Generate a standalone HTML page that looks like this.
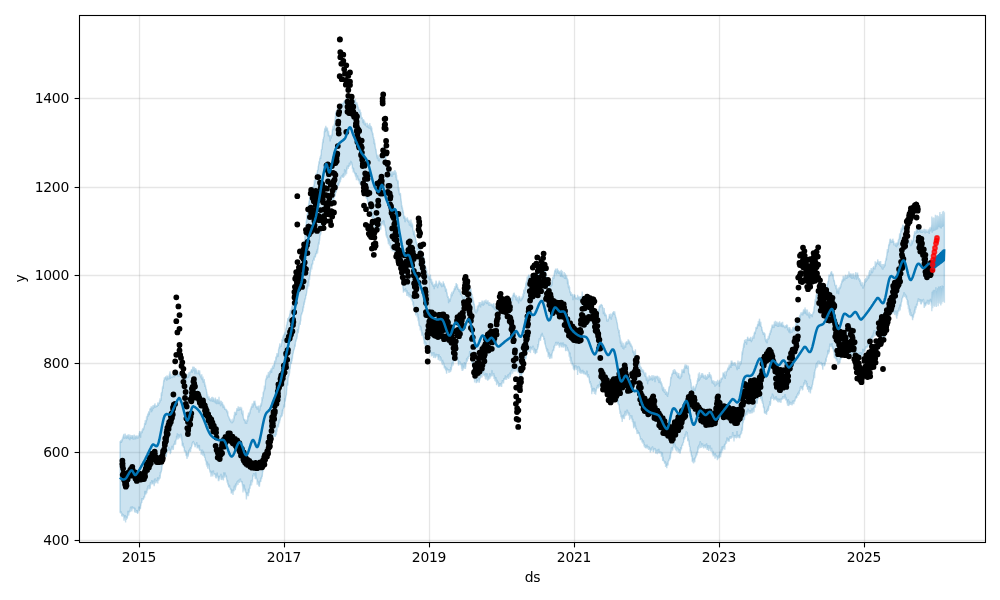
<!DOCTYPE html>
<html lang="en"><head><meta charset="utf-8"><title>Prophet forecast</title>
<style>
html,body{margin:0;padding:0;background:#fff}
svg{display:block;will-change:transform}
text{font-family:"DejaVu Sans","Liberation Sans",sans-serif;font-size:13.9px;fill:#000;letter-spacing:-0.25px}
</style></head><body>
<svg width="1000" height="600" viewBox="0 0 1000 600">
<rect width="1000" height="600" fill="#fff"/>
<g stroke="#808080" stroke-opacity="0.2" stroke-width="1.3" fill="none"><line x1="139.5" y1="15.5" x2="139.5" y2="542.5"/><line x1="284.5" y1="15.5" x2="284.5" y2="542.5"/><line x1="429.5" y1="15.5" x2="429.5" y2="542.5"/><line x1="574.5" y1="15.5" x2="574.5" y2="542.5"/><line x1="719.5" y1="15.5" x2="719.5" y2="542.5"/><line x1="864.5" y1="15.5" x2="864.5" y2="542.5"/><line x1="79.5" y1="540.5" x2="985.5" y2="540.5"/><line x1="79.5" y1="452.5" x2="985.5" y2="452.5"/><line x1="79.5" y1="363.5" x2="985.5" y2="363.5"/><line x1="79.5" y1="275.5" x2="985.5" y2="275.5"/><line x1="79.5" y1="187.5" x2="985.5" y2="187.5"/><line x1="79.5" y1="98.5" x2="985.5" y2="98.5"/></g>
<path d="M120 441.2 120.2 442 120.4 441.7 120.6 441 120.8 441.4 121 440.1 121.2 441.4 121.4 443 121.6 439.8 121.8 439.8 122 441.3 122.2 440.6 122.4 439.1 122.6 437.4 122.8 438.7 123 439.3 123.2 435.8 123.4 436.9 123.6 434.7 123.8 434.9 124 433.8 124.2 437.2 124.4 435.5 124.6 438.2 124.8 438.2 125 437.3 125.2 433.6 125.4 436.5 125.6 437.8 125.8 438.3 126 435.2 126.2 436.8 126.4 436.1 126.6 436 126.8 438.9 127 435.6 127.2 436.5 127.4 438 127.6 434.8 127.8 435.8 128 436.4 128.2 436.1 128.4 434.3 128.6 436.9 128.8 439.3 129 434.4 129.2 438.3 129.4 437.4 129.6 435.7 129.8 440.1 130 438.2 130.2 434.9 130.4 436.9 130.6 437.3 130.8 436.5 131 437.6 131.2 436.5 131.4 437.7 131.6 438.9 131.8 435.1 132 436.4 132.2 435.8 132.4 436.9 132.6 435 132.8 436.4 133 437 133.2 439.2 133.4 439.4 133.6 435.8 133.8 436.7 134 438.9 134.2 434.6 134.4 436.7 134.6 437.2 134.8 439.4 135 438.4 135.2 436.2 135.4 435.8 135.6 436.2 135.8 439.2 136 436 136.2 436.4 136.4 437.4 136.6 436.7 136.8 436.4 137 435.3 137.2 437.1 137.4 436.3 137.6 438.7 137.8 438.2 138 436.8 138.2 438.3 138.4 435.9 138.6 437.3 138.8 435.2 139 435.9 139.2 433 139.4 435.4 139.6 431.6 139.8 431.2 140 433.3 140.2 432.2 140.4 433.8 140.6 437.8 140.8 431.9 141 431.9 141.2 433.2 141.4 433.4 141.6 431.5 141.8 431.1 142 432.7 142.2 432.6 142.4 428.8 142.6 430.7 142.8 430.5 143 428.1 143.2 429.9 143.4 427.7 143.6 429.8 143.8 427.8 144 427.3 144.2 426 144.4 426.1 144.6 423 144.8 423.3 145 425 145.2 420.4 145.4 425 145.6 420.1 145.8 423.6 146 420 146.2 421.9 146.4 419.2 146.6 416.3 146.8 420 147 420 147.2 416.7 147.4 415.7 147.6 415.2 147.8 413.6 148 416.8 148.2 414.2 148.4 414.3 148.6 412.3 148.8 412.3 149 411.1 149.2 415.1 149.4 411.7 149.6 412.7 149.8 410.1 150 408.2 150.2 408.8 150.4 408.7 150.6 409.1 150.8 408.2 151 408 151.2 406.4 151.4 407.7 151.6 412.1 151.8 407.9 152 406.7 152.2 409.1 152.4 410.7 152.6 405.9 152.8 407.5 153 406.7 153.2 405 153.4 408.8 153.6 407.9 153.8 407.3 154 405.4 154.2 406.9 154.4 404.8 154.6 405.8 154.8 404.4 155 403.4 155.2 407.8 155.4 405.2 155.6 407 155.8 406.7 156 406.1 156.2 406.1 156.4 407.2 156.6 405.2 156.8 406 157 405.6 157.2 406.9 157.4 405.9 157.6 405 157.8 403.4 158 402.3 158.2 405.8 158.4 405.4 158.6 402.7 158.8 403.6 159 403.5 159.2 403.4 159.4 403.3 159.6 400.4 159.8 402.8 160 398.2 160.2 401.2 160.4 399.9 160.6 399.6 160.8 400.9 161 399.6 161.2 394 161.4 392.5 161.6 395.9 161.8 391.8 162 392.3 162.2 392.8 162.4 388 162.6 386.3 162.8 388.9 163 387.4 163.2 385.7 163.4 384.4 163.6 381.8 163.8 380.1 164 381.6 164.2 379.3 164.4 377.2 164.6 380 164.8 378.6 165 379.4 165.2 377.2 165.4 377.7 165.6 376.8 165.8 376.7 166 378.1 166.2 376.3 166.4 378.2 166.6 378.4 166.8 380.8 167 375.2 167.2 378.9 167.4 377.5 167.6 377.6 167.8 375.8 168 377.4 168.2 379.3 168.4 377.8 168.6 377.8 168.8 377.2 169 379.5 169.2 377.7 169.4 373.8 169.6 375.7 169.8 373.5 170 371.4 170.2 375.9 170.4 378.9 170.6 376.6 170.8 374.4 171 374.4 171.2 377.7 171.4 376.8 171.6 377 171.8 377 172 376.8 172.2 377.8 172.4 377.6 172.6 376.8 172.8 374.8 173 377.2 173.2 374.7 173.4 377.1 173.6 373.1 173.8 375.2 174 375.6 174.2 372.8 174.4 377.4 174.6 376.5 174.8 373.2 175 375.2 175.2 374.7 175.4 369.5 175.6 373.7 175.8 372.9 176 373.1 176.2 371 176.4 372.4 176.6 373.1 176.8 374.7 177 373.5 177.2 373.4 177.4 375.7 177.6 372.4 177.8 372.9 178 370.9 178.2 376.7 178.4 375.4 178.6 375.9 178.8 375.4 179 374.3 179.2 374.6 179.4 373.8 179.6 374.2 179.8 374.4 180 376.8 180.2 375.3 180.4 373.9 180.6 373.4 180.8 373.1 181 376.6 181.2 375 181.4 373.8 181.6 373.4 181.8 371.8 182 373.3 182.2 375.1 182.4 372.8 182.6 373.7 182.8 374.3 183 375.2 183.2 373.2 183.4 375.7 183.6 375.5 183.8 378.6 184 375.9 184.2 378.5 184.4 380.1 184.6 377 184.8 376.5 185 378 185.2 377.5 185.4 375.6 185.6 377.8 185.8 380.6 186 376.3 186.2 376.5 186.4 375.2 186.6 376.9 186.8 374.1 187 374.2 187.2 378 187.4 374.7 187.6 377.8 187.8 378 188 375.3 188.2 375.6 188.4 377.9 188.6 374.5 188.8 373.5 189 372.2 189.2 373.8 189.4 375.9 189.6 375.4 189.8 372.2 190 371.8 190.2 372 190.4 372.4 190.6 371.3 190.8 371.7 191 371.7 191.2 370 191.4 369.8 191.6 369.8 191.8 369.6 192 370.5 192.2 373 192.4 370.6 192.6 369.4 192.8 366.5 193 370.2 193.2 366.6 193.4 367.3 193.6 370.9 193.8 370.7 194 369.1 194.2 366.7 194.4 369.4 194.6 368.7 194.8 371.1 195 374.2 195.2 370.8 195.4 369 195.6 368.1 195.8 370.2 196 370.6 196.2 369.2 196.4 371.8 196.6 369.7 196.8 373.4 197 373.8 197.2 373.9 197.4 372.4 197.6 373.9 197.8 373 198 372.4 198.2 372.3 198.4 370.5 198.6 370.5 198.8 374.3 199 372.9 199.2 373.2 199.4 374.6 199.6 370.3 199.8 372.1 200 374.8 200.2 376.2 200.4 375.1 200.6 377.5 200.8 376.6 201 374.3 201.2 375.5 201.4 378.8 201.6 378.5 201.8 374.3 202 379.6 202.2 378.1 202.4 380.2 202.6 377.4 202.8 377.8 203 376.6 203.2 382.8 203.4 378.8 203.6 382.4 203.8 379.4 204 381.6 204.2 379 204.4 382.3 204.6 385 204.8 382.3 205 386.9 205.2 386.2 205.4 384.6 205.6 386.3 205.8 387.4 206 389.4 206.2 388.7 206.4 389.7 206.6 391.9 206.8 392.1 207 393.2 207.2 396 207.4 398 207.6 394.3 207.8 397.2 208 397.4 208.2 397 208.4 399.6 208.6 397.3 208.8 399.9 209 396.3 209.2 399.1 209.4 399.1 209.6 398.1 209.8 400.6 210 399.6 210.2 400.8 210.4 399.2 210.6 398.3 210.8 399.9 211 400.5 211.2 401.5 211.4 398.7 211.6 399.2 211.8 397 212 401.1 212.2 398.9 212.4 396.9 212.6 400.2 212.8 401.8 213 397.3 213.2 398.1 213.4 399.3 213.6 398.6 213.8 401.2 214 399.8 214.2 400.5 214.4 402.3 214.6 399.8 214.8 401.3 215 398.9 215.2 398.8 215.4 397.6 215.6 403.5 215.8 399.6 216 400.2 216.2 399.9 216.4 400.5 216.6 401.2 216.8 404.3 217 399.6 217.2 399.2 217.4 400.2 217.6 399.9 217.8 403.4 218 403.2 218.2 400.4 218.4 399.6 218.6 401.6 218.8 404.1 219 396.7 219.2 402.6 219.4 400.3 219.6 404.2 219.8 400.9 220 402.4 220.2 400.7 220.4 401.7 220.6 405.9 220.8 405.7 221 403.7 221.2 402.7 221.4 400.7 221.6 403.6 221.8 403.8 222 403.8 222.2 403.9 222.4 402.2 222.6 404 222.8 404.1 223 406.3 223.2 408.1 223.4 405 223.6 404.7 223.8 406.4 224 405.7 224.2 406.6 224.4 407.7 224.6 406.9 224.8 409.9 225 408.7 225.2 409.9 225.4 409.4 225.6 408.7 225.8 409.1 226 409.6 226.2 409.2 226.4 410.5 226.6 411.1 226.8 409.7 227 412.5 227.2 410.5 227.4 412.5 227.6 413.2 227.8 411.4 228 415.2 228.2 416.5 228.4 416.2 228.6 416.4 228.8 417.4 229 417 229.2 418.3 229.4 418.5 229.6 419.9 229.8 418.6 230 420.9 230.2 420.8 230.4 420.7 230.6 420.4 230.8 422.2 231 419.4 231.2 422.4 231.4 422 231.6 422.7 231.8 422.8 232 420.9 232.2 421.7 232.4 423 232.6 422.3 232.8 421.4 233 418.5 233.2 421.3 233.4 421.4 233.6 420.7 233.8 419.2 234 415.3 234.2 418.4 234.4 416.4 234.6 411.7 234.8 416.3 235 412.8 235.2 412.2 235.4 412.4 235.6 415.1 235.8 412.3 236 413.2 236.2 414.8 236.4 414.1 236.6 410.3 236.8 409.9 237 408 237.2 409 237.4 410.6 237.6 409.7 237.8 408.7 238 409.8 238.2 406.4 238.4 408 238.6 410 238.8 410.1 239 410.7 239.2 409.3 239.4 408.7 239.6 409.4 239.8 407.5 240 406.9 240.2 410.2 240.4 408.8 240.6 409.9 240.8 406.9 241 409.6 241.2 409 241.4 409.1 241.6 407.6 241.8 411.3 242 414.2 242.2 413.6 242.4 412 242.6 413.8 242.8 415.3 243 410.4 243.2 416 243.4 417.8 243.6 418.2 243.8 420.1 244 419.9 244.2 419.6 244.4 419.5 244.6 421 244.8 419.2 245 420.3 245.2 421.5 245.4 423.7 245.6 420.5 245.8 421.1 246 421.2 246.2 423.5 246.4 421.3 246.6 423.9 246.8 419.6 247 420.7 247.2 420.3 247.4 421.3 247.6 420.6 247.8 415.6 248 415.8 248.2 417.2 248.4 414.6 248.6 412.6 248.8 416.7 249 415.1 249.2 414.5 249.4 412.8 249.6 414.4 249.8 411.5 250 413.4 250.2 409.9 250.4 409.5 250.6 410.3 250.8 407.9 251 409.7 251.2 408.3 251.4 406.2 251.6 407.6 251.8 405.8 252 406.9 252.2 403.9 252.4 403.9 252.6 406.3 252.8 407.5 253 406.5 253.2 403.5 253.4 403.5 253.6 405.8 253.8 402.8 254 400.9 254.2 402.8 254.4 404 254.6 402 254.8 400.8 255 401.5 255.2 405.3 255.4 403.2 255.6 405.2 255.8 406.4 256 407.6 256.2 406.3 256.4 408.1 256.6 406.3 256.8 407.2 257 406.1 257.2 409.7 257.4 408.2 257.6 406.7 257.8 407.4 258 407.6 258.2 409.2 258.4 405.6 258.6 406.6 258.8 408.1 259 412.7 259.2 409.6 259.4 407.8 259.6 409 259.8 410.9 260 406.5 260.2 405.5 260.4 407.3 260.6 405.2 260.8 405.1 261 403.3 261.2 406.3 261.4 405.1 261.6 402.6 261.8 402.2 262 397.1 262.2 400.7 262.4 398.5 262.6 398.9 262.8 397.3 263 395.5 263.2 391.9 263.4 394.4 263.6 391.8 263.8 391.7 264 390.4 264.2 390 264.4 385.5 264.6 390.2 264.8 387.4 265 388 265.2 388.6 265.4 383.7 265.6 379.5 265.8 380.2 266 378.2 266.2 378.5 266.4 379.5 266.6 375.7 266.8 378.5 267 374.9 267.2 378.2 267.4 377.3 267.6 376.4 267.8 376.8 268 375.5 268.2 374.3 268.4 372.1 268.6 374.7 268.8 377.5 269 377.1 269.2 374.9 269.4 373.4 269.6 370.9 269.8 374.4 270 371.8 270.2 371.1 270.4 370.9 270.6 370.6 270.8 369.7 271 370.6 271.2 368.4 271.4 369.6 271.6 372.9 271.8 368.5 272 368.3 272.2 368.7 272.4 369 272.6 365.5 272.8 366.6 273 368.9 273.2 367 273.4 366.9 273.6 368.8 273.8 364.4 274 365.4 274.2 363.8 274.4 366.6 274.6 360.4 274.8 361.6 275 360.8 275.2 362.2 275.4 361.7 275.6 362.3 275.8 356.8 276 359.6 276.2 357.1 276.4 356.5 276.6 357.8 276.8 355.6 277 353.1 277.2 355.6 277.4 353.5 277.6 354.5 277.8 356.3 278 355.7 278.2 356.7 278.4 353 278.6 348.9 278.8 349.2 279 348 279.2 346.9 279.4 348.5 279.6 345.8 279.8 343.4 280 347 280.2 345.4 280.4 347 280.6 346.5 280.8 346.5 281 345.1 281.2 346.6 281.4 344.3 281.6 343.4 281.8 342.8 282 339.1 282.2 340.4 282.4 339.8 282.6 340.4 282.8 336.7 283 341 283.2 338.2 283.4 335.4 283.6 334.9 283.8 336.3 284 335.6 284.2 334 284.4 334.7 284.6 333.1 284.8 334.5 285 331.7 285.2 332.5 285.4 332.9 285.6 334.9 285.8 328.7 286 328.8 286.2 327.6 286.4 328.8 286.6 324.8 286.8 324.8 287 324.6 287.2 322.2 287.4 321.8 287.6 321.9 287.8 318.3 288 318.4 288.2 320.6 288.4 320.8 288.6 319.7 288.8 316.8 289 318.2 289.2 318.7 289.4 317.5 289.6 315.6 289.8 313.5 290 315 290.2 312.5 290.4 310.6 290.6 310.3 290.8 313.2 291 311 291.2 311.8 291.4 308.6 291.6 310.1 291.8 306.5 292 306.4 292.2 309.8 292.4 305.8 292.6 303.3 292.8 303.3 293 303.3 293.2 304.1 293.4 300.9 293.6 298.4 293.8 300.3 294 300.4 294.2 300.6 294.4 301.6 294.6 299.8 294.8 299.6 295 295.7 295.2 298.6 295.4 300 295.6 297 295.8 295.8 296 294.4 296.2 296.5 296.4 290.3 296.6 291.1 296.8 291 297 290.3 297.2 287.4 297.4 287.3 297.6 285.4 297.8 284.9 298 282.5 298.2 279.5 298.4 280.4 298.6 280.6 298.8 275.9 299 275.2 299.2 275.2 299.4 271 299.6 271.8 299.8 269.5 300 272.3 300.2 272 300.4 270.5 300.6 265.8 300.8 266.2 301 264.7 301.2 263.1 301.4 264.6 301.6 258.3 301.8 260.8 302 258.6 302.2 259.4 302.4 256.6 302.6 254.3 302.8 254.2 303 253.9 303.2 251.3 303.4 250.6 303.6 248 303.8 243.8 304 247.6 304.2 245.2 304.4 242.5 304.6 240.7 304.8 240.1 305 235.5 305.2 233.1 305.4 232 305.6 232.1 305.8 225.8 306 228.6 306.2 223.6 306.4 220.3 306.6 222.4 306.8 218.6 307 214.8 307.2 214.6 307.4 215.3 307.6 214 307.8 209.3 308 209 308.2 208.5 308.4 205 308.6 205.4 308.8 204 309 201.8 309.2 200.8 309.4 200.8 309.6 199.6 309.8 197.7 310 197 310.2 198.7 310.4 196.3 310.6 196.5 310.8 196.2 311 194.7 311.2 196.7 311.4 191 311.6 193.2 311.8 190.7 312 194 312.2 193.1 312.4 186.4 312.6 187.6 312.8 189.3 313 188.6 313.2 188.6 313.4 186.6 313.6 187.1 313.8 186.5 314 184.4 314.2 185.9 314.4 179.9 314.6 184.1 314.8 180.4 315 182.6 315.2 179.9 315.4 177.7 315.6 179.2 315.8 176.7 316 175.3 316.2 173.3 316.4 175 316.6 175.5 316.8 175.5 317 172.9 317.2 174.5 317.4 171.1 317.6 169.8 317.8 169.9 318 169.8 318.2 166.8 318.4 165.9 318.6 164.8 318.8 163.9 319 161.3 319.2 163.8 319.4 160.7 319.6 161.5 319.8 158 320 158.9 320.2 158 320.4 156.2 320.6 159 320.8 154.8 321 156 321.2 153.7 321.4 149.8 321.6 149.6 321.8 149.9 322 148.3 322.2 146.7 322.4 145 322.6 141.9 322.8 143.2 323 139 323.2 142.4 323.4 139.3 323.6 137.6 323.8 136.9 324 136.6 324.2 132.7 324.4 130.7 324.6 131.2 324.8 128.3 325 128.8 325.2 132.3 325.4 127.2 325.6 129.8 325.8 125.8 326 128.4 326.2 127.5 326.4 127.3 326.6 128.7 326.8 131.2 327 128.8 327.2 129.5 327.4 127.5 327.6 131.2 327.8 130.6 328 132.8 328.2 132.6 328.4 136.1 328.6 130.7 328.8 134.4 329 136.5 329.2 135.4 329.4 135.2 329.6 136.1 329.8 135 330 137.5 330.2 141.5 330.4 139 330.6 135.3 330.8 136.1 331 136.5 331.2 138.5 331.4 135 331.6 134.8 331.8 136.5 332 135.2 332.2 132.5 332.4 130.2 332.6 128.8 332.8 129.1 333 125.7 333.2 129.9 333.4 126.9 333.6 128.1 333.8 130.3 334 128.1 334.2 123.7 334.4 125.5 334.6 125.3 334.8 121.3 335 119.7 335.2 119.3 335.4 115.5 335.6 118.7 335.8 111.6 336 112.5 336.2 113 336.4 112.3 336.6 112.4 336.8 112.2 337 111.1 337.2 113.1 337.4 107.7 337.6 110.7 337.8 109.6 338 111.2 338.2 111 338.4 108.6 338.6 109.5 338.8 112 339 110.8 339.2 108.7 339.4 113.2 339.6 112.9 339.8 106.3 340 108.6 340.2 111.7 340.4 108 340.6 105.9 340.8 104.8 341 103.5 341.2 104 341.4 103.7 341.6 105.8 341.8 103.7 342 103.8 342.2 102.7 342.4 105 342.6 103.8 342.8 105 343 106.3 343.2 104.5 343.4 103.9 343.6 103.1 343.8 102.3 344 101.8 344.2 100.8 344.4 102.6 344.6 100.1 344.8 103.8 345 101.6 345.2 100.5 345.4 101.4 345.6 100.8 345.8 101.5 346 100.4 346.2 102.3 346.4 98.8 346.6 96.7 346.8 99.3 347 97.4 347.2 100.4 347.4 102.4 347.6 102 347.8 98.4 348 99.7 348.2 103.8 348.4 101.4 348.6 101.2 348.8 102.7 349 104.7 349.2 102.4 349.4 100.4 349.6 101.3 349.8 101.9 350 99.9 350.2 98.6 350.4 100.3 350.6 98.6 350.8 100.3 351 100.8 351.2 105 351.4 99.5 351.6 101.2 351.8 101.5 352 102.8 352.2 103.9 352.4 101.5 352.6 100.9 352.8 99.6 353 100.2 353.2 103 353.4 101.9 353.6 100.2 353.8 101.6 354 101.4 354.2 102.5 354.4 100.7 354.6 101.5 354.8 99.2 355 100.4 355.2 105.5 355.4 98.9 355.6 102 355.8 103.9 356 102.6 356.2 102.8 356.4 104.2 356.6 104.6 356.8 104.5 357 102.3 357.2 105.8 357.4 104.4 357.6 105.1 357.8 107.1 358 107.9 358.2 108.7 358.4 106.8 358.6 109.9 358.8 109.8 359 110 359.2 111.2 359.4 109.4 359.6 110.2 359.8 112.6 360 109.5 360.2 112.9 360.4 112.2 360.6 113.6 360.8 112.1 361 114.4 361.2 116.6 361.4 118.2 361.6 118.8 361.8 117.7 362 117.8 362.2 117.4 362.4 119.6 362.6 119.4 362.8 121 363 123.1 363.2 121.4 363.4 119 363.6 120.4 363.8 120 364 120.6 364.2 124.8 364.4 123 364.6 120.7 364.8 124.7 365 125.2 365.2 123.1 365.4 122.7 365.6 123.1 365.8 124.2 366 124.5 366.2 125.7 366.4 126.1 366.6 126.4 366.8 127.2 367 125.9 367.2 122.9 367.4 125.3 367.6 126.1 367.8 125.9 368 127.7 368.2 125.6 368.4 124.5 368.6 128.2 368.8 127.1 369 126.3 369.2 127.7 369.4 128.5 369.6 127.4 369.8 123 370 125.8 370.2 126.3 370.4 125.4 370.6 127.6 370.8 129.5 371 127.3 371.2 126 371.4 131.3 371.6 128.3 371.8 127.6 372 130.5 372.2 132.3 372.4 131.9 372.6 134.7 372.8 133.2 373 133.9 373.2 136.5 373.4 138.2 373.6 137 373.8 140 374 139.2 374.2 144 374.4 139.4 374.6 144.4 374.8 143 375 143.7 375.2 146.3 375.4 147.8 375.6 149.2 375.8 149.2 376 149.2 376.2 150.9 376.4 153.2 376.6 154.3 376.8 156.8 377 155.8 377.2 157.1 377.4 158.6 377.6 157 377.8 154.7 378 155.6 378.2 155.7 378.4 161 378.6 156.9 378.8 160.8 379 159.9 379.2 161.5 379.4 160.2 379.6 158.6 379.8 158.2 380 158 380.2 157.2 380.4 156 380.6 156.1 380.8 158.8 381 152.6 381.2 155 381.4 152.1 381.6 153.1 381.8 153.8 382 152.2 382.2 153.6 382.4 149.3 382.6 152.7 382.8 149.5 383 151.7 383.2 151.1 383.4 146.4 383.6 149.7 383.8 151.2 384 153.5 384.2 152 384.4 152.3 384.6 150.4 384.8 155.2 385 155.9 385.2 154 385.4 154.4 385.6 153.5 385.8 158.2 386 162 386.2 159.8 386.4 162.2 386.6 162.6 386.8 161.5 387 166.4 387.2 163.2 387.4 164.9 387.6 166.9 387.8 168.9 388 169.3 388.2 169.7 388.4 169 388.6 169.4 388.8 172.5 389 171.3 389.2 171.1 389.4 171.5 389.6 172.6 389.8 170.4 390 171 390.2 170.6 390.4 173.5 390.6 173.6 390.8 176.7 391 171.1 391.2 172.1 391.4 175.2 391.6 173.5 391.8 174.1 392 176.9 392.2 173.1 392.4 172 392.6 171.7 392.8 174.7 393 174.6 393.2 171.2 393.4 172.2 393.6 174.1 393.8 174.6 394 172.5 394.2 173.8 394.4 173.9 394.6 170.1 394.8 172.8 395 174.3 395.2 172.9 395.4 170.5 395.6 173.3 395.8 175.5 396 177.6 396.2 172.2 396.4 180.3 396.6 175.1 396.8 179.8 397 180.4 397.2 181 397.4 180.6 397.6 179.6 397.8 183.7 398 181.9 398.2 180.4 398.4 190.2 398.6 187.7 398.8 190.7 399 187.6 399.2 192.5 399.4 194.1 399.6 194.9 399.8 194 400 192.8 400.2 195.7 400.4 193 400.6 195.1 400.8 199.4 401 198.6 401.2 201.2 401.4 202.3 401.6 206.7 401.8 206.8 402 205.3 402.2 209.2 402.4 207.3 402.6 208.8 402.8 212.8 403 210.1 403.2 212.5 403.4 211.8 403.6 215.2 403.8 218.7 404 215.7 404.2 217.5 404.4 216.4 404.6 216.1 404.8 216.4 405 221.4 405.2 222.2 405.4 219.1 405.6 217.7 405.8 219.3 406 218 406.2 220 406.4 219.3 406.6 219.9 406.8 220.2 407 219.3 407.2 220.1 407.4 217.4 407.6 220.1 407.8 219.4 408 221.9 408.2 220.8 408.4 221.6 408.6 222.7 408.8 219.9 409 220.7 409.2 220.9 409.4 224.6 409.6 225.7 409.8 223.8 410 221.9 410.2 225.6 410.4 220.8 410.6 225.7 410.8 222.6 411 219.4 411.2 227.3 411.4 225.8 411.6 222.2 411.8 224.3 412 224.5 412.2 225.8 412.4 223.5 412.6 225.3 412.8 228.3 413 229.3 413.2 231.7 413.4 230.8 413.6 235.2 413.8 230.4 414 232.8 414.2 230.5 414.4 232.5 414.6 237.1 414.8 234 415 237.1 415.2 236.9 415.4 236.6 415.6 238.9 415.8 239.6 416 239.9 416.2 242.3 416.4 243.2 416.6 242.2 416.8 242.5 417 244.8 417.2 244.2 417.4 246.7 417.6 249.8 417.8 247.4 418 246.9 418.2 246.8 418.4 245.8 418.6 245.9 418.8 246.3 419 247.7 419.2 248.3 419.4 250.5 419.6 249.1 419.8 250.1 420 249 420.2 253.8 420.4 253.2 420.6 255.3 420.8 254.6 421 256.1 421.2 253 421.4 255.6 421.6 258.9 421.8 252.7 422 256.9 422.2 257.8 422.4 256.1 422.6 256.9 422.8 257.8 423 255.4 423.2 257.9 423.4 256 423.6 256.8 423.8 257.8 424 259.2 424.2 260.9 424.4 262.7 424.6 260.4 424.8 267.1 425 266.2 425.2 266.9 425.4 266.4 425.6 267.7 425.8 269.1 426 270.1 426.2 267.5 426.4 272.6 426.6 277.2 426.8 269.9 427 275 427.2 274.4 427.4 274.4 427.6 277.9 427.8 273.3 428 275.8 428.2 278.6 428.4 276 428.6 276.1 428.8 277.1 429 276.4 429.2 280.1 429.4 276.1 429.6 279.3 429.8 276.2 430 279.3 430.2 278.6 430.4 274.6 430.6 279.8 430.8 278.3 431 279.2 431.2 283 431.4 279.2 431.6 279.6 431.8 284.1 432 281.9 432.2 284.8 432.4 283.1 432.6 281.5 432.8 283.8 433 286.2 433.2 286.2 433.4 284.8 433.6 285.3 433.8 285.3 434 284.5 434.2 289.1 434.4 285.8 434.6 283.7 434.8 284.6 435 286.5 435.2 286.3 435.4 284.6 435.6 283.3 435.8 284.5 436 280.6 436.2 281.3 436.4 284.9 436.6 283.2 436.8 285.1 437 286.5 437.2 285.7 437.4 284.9 437.6 288.1 437.8 286.1 438 283.8 438.2 285.6 438.4 284.7 438.6 282.4 438.8 283.7 439 283.5 439.2 280.6 439.4 283.7 439.6 283 439.8 283.4 440 281.7 440.2 283.9 440.4 284.4 440.6 284.4 440.8 282.7 441 285.7 441.2 282.9 441.4 285.1 441.6 287.3 441.8 283.9 442 284.1 442.2 286.7 442.4 284.7 442.6 284.4 442.8 285.4 443 286.7 443.2 281.3 443.4 284 443.6 283.5 443.8 283.3 444 283.8 444.2 284 444.4 286.4 444.6 285.3 444.8 287 445 288.2 445.2 286.3 445.4 288.2 445.6 291.6 445.8 289.7 446 288.4 446.2 290 446.4 289 446.6 292 446.8 293.4 447 292.3 447.2 294.1 447.4 296.8 447.6 295.7 447.8 297.9 448 296.2 448.2 297.2 448.4 298.1 448.6 303.2 448.8 298.7 449 298.4 449.2 298.9 449.4 299.2 449.6 300 449.8 299 450 301.8 450.2 298.4 450.4 300 450.6 297.8 450.8 298.2 451 293.8 451.2 295.6 451.4 295.7 451.6 295.3 451.8 291.8 452 296.3 452.2 293.9 452.4 293.4 452.6 293 452.8 293.3 453 294 453.2 290.7 453.4 290.9 453.6 292.2 453.8 291.1 454 289.8 454.2 288.7 454.4 288.1 454.6 288.5 454.8 290.1 455 286.1 455.2 289.4 455.4 288.1 455.6 286.3 455.8 287.7 456 283.9 456.2 283.3 456.4 284 456.6 285.3 456.8 285.7 457 286.3 457.2 287.7 457.4 284.4 457.6 289.5 457.8 287.2 458 288.7 458.2 289.8 458.4 289 458.6 288.7 458.8 289.1 459 290.7 459.2 291.8 459.4 291.5 459.6 289.2 459.8 290.1 460 290.1 460.2 292.8 460.4 289.4 460.6 295.1 460.8 292.7 461 292.3 461.2 294.2 461.4 295 461.6 294.6 461.8 295.6 462 294.4 462.2 296.6 462.4 296.9 462.6 295.3 462.8 298.9 463 297.7 463.2 298.8 463.4 296.9 463.6 298.2 463.8 299.9 464 295.8 464.2 298.5 464.4 297 464.6 296.6 464.8 291.8 465 294.1 465.2 294.6 465.4 292 465.6 292.7 465.8 288.1 466 292.6 466.2 289.8 466.4 291 466.6 286.3 466.8 290.4 467 288.9 467.2 290.5 467.4 287.5 467.6 287.7 467.8 291.9 468 287 468.2 286.6 468.4 286.9 468.6 285.5 468.8 288.9 469 289.6 469.2 285.6 469.4 283.8 469.6 289.1 469.8 289.3 470 290.1 470.2 291.8 470.4 288.5 470.6 290.1 470.8 288.5 471 289.2 471.2 294 471.4 292.2 471.6 298.1 471.8 295.2 472 294.1 472.2 297.6 472.4 299.8 472.6 298.8 472.8 296.8 473 300.6 473.2 303 473.4 300.7 473.6 300.7 473.8 304.4 474 304.2 474.2 303.5 474.4 305.3 474.6 306.2 474.8 308.6 475 309.2 475.2 311.6 475.4 311.9 475.6 309.2 475.8 312.3 476 313.2 476.2 312.7 476.4 313.4 476.6 310.3 476.8 309.4 477 312.2 477.2 308.4 477.4 305.8 477.6 310.9 477.8 307.6 478 307.9 478.2 305.4 478.4 305.3 478.6 305.1 478.8 305.7 479 306.3 479.2 302 479.4 306.4 479.6 303.1 479.8 302.9 480 306 480.2 304.9 480.4 302 480.6 307.4 480.8 302.7 481 304.2 481.2 303.7 481.4 305.1 481.6 302.3 481.8 303.9 482 300.6 482.2 303.7 482.4 300.6 482.6 301.7 482.8 305.5 483 303.4 483.2 302.5 483.4 305.6 483.6 302.8 483.8 301.5 484 304.1 484.2 300.6 484.4 304.2 484.6 304 484.8 300.4 485 301 485.2 302.5 485.4 302.3 485.6 300.4 485.8 302.7 486 299.6 486.2 301.7 486.4 302 486.6 302.3 486.8 303.8 487 301.2 487.2 304.1 487.4 302.7 487.6 302.3 487.8 300.5 488 300.7 488.2 303.5 488.4 302.1 488.6 303.3 488.8 304.9 489 304.7 489.2 306 489.4 303.2 489.6 302 489.8 305.8 490 304.1 490.2 305.1 490.4 303.4 490.6 305.4 490.8 304.8 491 304.5 491.2 304.2 491.4 304.1 491.6 304.2 491.8 304.7 492 306.2 492.2 303.9 492.4 307.3 492.6 304.7 492.8 306 493 304.5 493.2 304.3 493.4 308.2 493.6 304.6 493.8 303 494 304.2 494.2 305.6 494.4 309.6 494.6 307 494.8 308.5 495 305.8 495.2 308.1 495.4 308.5 495.6 310.7 495.8 306.7 496 309.5 496.2 309.4 496.4 307.4 496.6 309.4 496.8 309 497 305.8 497.2 311.3 497.4 311.1 497.6 310 497.8 308.3 498 312.9 498.2 310.8 498.4 311.9 498.6 313 498.8 309.8 499 311.7 499.2 310.5 499.4 310.1 499.6 309.4 499.8 309.4 500 311.3 500.2 309.5 500.4 308.5 500.6 308.5 500.8 309.6 501 307.2 501.2 308.1 501.4 309.4 501.6 308.8 501.8 309.8 502 309.1 502.2 312.5 502.4 310.9 502.6 309.3 502.8 308.5 503 311.7 503.2 308.7 503.4 307.7 503.6 307.7 503.8 307.4 504 309.8 504.2 307.4 504.4 310.8 504.6 305.6 504.8 308.1 505 304.6 505.2 308.9 505.4 305.1 505.6 305.6 505.8 306.9 506 307.9 506.2 303.9 506.4 304.8 506.6 303.3 506.8 306 507 305.3 507.2 304.6 507.4 303.5 507.6 304.4 507.8 302.7 508 304.4 508.2 305.9 508.4 299.9 508.6 302.1 508.8 301.3 509 303 509.2 300.4 509.4 300.6 509.6 299.6 509.8 301.6 510 300.5 510.2 299.8 510.4 300.8 510.6 299.6 510.8 297.2 511 300.2 511.2 299.9 511.4 298.6 511.6 301.1 511.8 300.8 512 297.1 512.2 297.2 512.4 300.7 512.6 299.9 512.8 296.3 513 294.8 513.2 295.1 513.4 294.8 513.6 292.7 513.8 295.4 514 293 514.2 293.1 514.4 296.7 514.6 294.1 514.8 295.5 515 296.9 515.2 297.1 515.4 296 515.6 296.7 515.8 295.8 516 300.2 516.2 298.5 516.4 295.2 516.6 297.5 516.8 299.1 517 298.9 517.2 301.2 517.4 300.7 517.6 297.5 517.8 298.6 518 297 518.2 299.6 518.4 299.4 518.6 303.4 518.8 299.5 519 295.7 519.2 297.7 519.4 298.9 519.6 296.5 519.8 297.2 520 298.8 520.2 300.3 520.4 299.7 520.6 298.5 520.8 301.5 521 299.4 521.2 300.1 521.4 297.8 521.6 298.5 521.8 300.3 522 296.4 522.2 298.1 522.4 299 522.6 296.9 522.8 297.2 523 293.5 523.2 297.3 523.4 296.1 523.6 294 523.8 289.6 524 290.7 524.2 293.2 524.4 293.1 524.6 290 524.8 291 525 287.3 525.2 287.9 525.4 287.1 525.6 287.5 525.8 282.8 526 286 526.2 286.7 526.4 281.7 526.6 281.2 526.8 283.5 527 280.3 527.2 276.5 527.4 280.6 527.6 279.4 527.8 277.7 528 280.7 528.2 277.6 528.4 275.5 528.6 276.3 528.8 274.6 529 275.5 529.2 277.3 529.4 275.8 529.6 276 529.8 279.4 530 278.1 530.2 278.3 530.4 277.4 530.6 277.7 530.8 278.9 531 276.8 531.2 279.9 531.4 275.5 531.6 277.3 531.8 275.5 532 278 532.2 280.2 532.4 281.7 532.6 278.7 532.8 280.1 533 279.7 533.2 279.6 533.4 279.3 533.6 281.8 533.8 278.7 534 282 534.2 282.3 534.4 281.7 534.6 281.7 534.8 281.3 535 286.4 535.2 280.4 535.4 284.8 535.6 283.1 535.8 280.5 536 278.9 536.2 282.2 536.4 282.6 536.6 277.3 536.8 278.5 537 281.1 537.2 279.5 537.4 282 537.6 278.2 537.8 279.3 538 276.4 538.2 281.1 538.4 276.1 538.6 272.4 538.8 274.8 539 273.9 539.2 276.3 539.4 272 539.6 272.3 539.8 271.9 540 273.6 540.2 270.3 540.4 272.1 540.6 270.7 540.8 269.3 541 269.5 541.2 268.8 541.4 266.9 541.6 269.9 541.8 264.9 542 269.2 542.2 268.5 542.4 266.5 542.6 265.2 542.8 265.9 543 267.2 543.2 267.9 543.4 267.7 543.6 269.1 543.8 266.9 544 268.3 544.2 265.4 544.4 269.9 544.6 269.3 544.8 268.8 545 271.6 545.2 271.7 545.4 266.5 545.6 271.9 545.8 270.5 546 275.8 546.2 278.4 546.4 274.8 546.6 276.9 546.8 277.6 547 279.6 547.2 281.2 547.4 282.9 547.6 280 547.8 285.1 548 282 548.2 284.2 548.4 286.5 548.6 285.6 548.8 283 549 283.8 549.2 284.4 549.4 285.1 549.6 287.2 549.8 283.3 550 286.2 550.2 285.8 550.4 286 550.6 285.5 550.8 287 551 284.7 551.2 285.3 551.4 284.3 551.6 286.1 551.8 279.9 552 284.6 552.2 281.4 552.4 280.7 552.6 278.6 552.8 276.8 553 278.7 553.2 278 553.4 279 553.6 275.2 553.8 278.8 554 276 554.2 274.5 554.4 273.2 554.6 272.1 554.8 270.3 555 270.7 555.2 271 555.4 269.9 555.6 268.5 555.8 270.7 556 269.6 556.2 271.5 556.4 274.3 556.6 273.1 556.8 271.1 557 268.8 557.2 269.6 557.4 268.4 557.6 272.6 557.8 269.9 558 270.9 558.2 270.1 558.4 271.1 558.6 273.9 558.8 271 559 272.2 559.2 271.6 559.4 274.1 559.6 271.8 559.8 271.8 560 271.3 560.2 271.1 560.4 273.9 560.6 277 560.8 270.6 561 273.6 561.2 272.7 561.4 269.9 561.6 272 561.8 272.8 562 272.6 562.2 277.1 562.4 271.1 562.6 275.5 562.8 276 563 274.7 563.2 276.3 563.4 277.4 563.6 275.7 563.8 276 564 276.3 564.2 272 564.4 277.7 564.6 279 564.8 276.8 565 277.4 565.2 273.4 565.4 276.2 565.6 274.7 565.8 275.9 566 279.1 566.2 276.1 566.4 277.4 566.6 275.3 566.8 278.2 567 279 567.2 278.2 567.4 279.3 567.6 284.2 567.8 279.4 568 280.8 568.2 282.5 568.4 286.4 568.6 288.3 568.8 286.4 569 285.3 569.2 286.4 569.4 289.7 569.6 287 569.8 292 570 292.2 570.2 291 570.4 293.1 570.6 293.4 570.8 295.3 571 292 571.2 295.9 571.4 294.6 571.6 293.7 571.8 295.9 572 295.5 572.2 294.5 572.4 293.9 572.6 294.9 572.8 299.1 573 300.1 573.2 297.5 573.4 298.3 573.6 295.8 573.8 296 574 296.7 574.2 294.6 574.4 294.6 574.6 296.2 574.8 295.3 575 294.7 575.2 298.1 575.4 296.7 575.6 299.5 575.8 298.1 576 297.7 576.2 298.6 576.4 298.6 576.6 297.7 576.8 297.8 577 299 577.2 298.9 577.4 299.6 577.6 294.7 577.8 297.3 578 297.4 578.2 297.6 578.4 296.7 578.6 296.3 578.8 298.3 579 297.7 579.2 296.4 579.4 300.4 579.6 299.3 579.8 297.1 580 299.2 580.2 296.5 580.4 300.3 580.6 298.5 580.8 297 581 296.7 581.2 296.2 581.4 298.1 581.6 297.7 581.8 298.2 582 297.4 582.2 291.5 582.4 297.6 582.6 294.7 582.8 298.4 583 299.3 583.2 298 583.4 297 583.6 297.4 583.8 297.6 584 297.8 584.2 297.5 584.4 297 584.6 300.3 584.8 298.5 585 300.3 585.2 299.4 585.4 299.5 585.6 299 585.8 299.9 586 300.8 586.2 300 586.4 299.2 586.6 299.1 586.8 303 587 299.5 587.2 300.5 587.4 303.9 587.6 303.5 587.8 302.9 588 302.2 588.2 307.2 588.4 304.6 588.6 305.5 588.8 304.7 589 302.6 589.2 302.9 589.4 306.4 589.6 306.8 589.8 306.2 590 305.1 590.2 305.2 590.4 307.3 590.6 305.5 590.8 309.8 591 310.9 591.2 313.9 591.4 311.4 591.6 308.9 591.8 308.9 592 305.2 592.2 310.8 592.4 312.3 592.6 314.7 592.8 314.9 593 315.5 593.2 314.8 593.4 316.7 593.6 318.5 593.8 315.3 594 316.5 594.2 315.4 594.4 320.7 594.6 319.9 594.8 319.4 595 316.5 595.2 318.7 595.4 317.9 595.6 317.9 595.8 316.9 596 318 596.2 316.6 596.4 318.6 596.6 317.3 596.8 316.4 597 315.9 597.2 314.8 597.4 316.2 597.6 314.4 597.8 314.6 598 312.4 598.2 309.6 598.4 312.7 598.6 308.7 598.8 311 599 310 599.2 306.4 599.4 306.3 599.6 306.4 599.8 305.7 600 304.8 600.2 307.4 600.4 305.2 600.6 306 600.8 304.5 601 305.4 601.2 304 601.4 305 601.6 305.8 601.8 305.4 602 305.3 602.2 304.8 602.4 307 602.6 308 602.8 307.6 603 307.2 603.2 310.2 603.4 314.3 603.6 310.6 603.8 311.7 604 312.1 604.2 308.1 604.4 312.8 604.6 312.1 604.8 316.3 605 313.9 605.2 313.3 605.4 314.4 605.6 315.4 605.8 314.8 606 316.2 606.2 314.6 606.4 316.6 606.6 318.8 606.8 321.4 607 319.6 607.2 319.4 607.4 321.3 607.6 320.7 607.8 321.5 608 320.7 608.2 318.7 608.4 318.9 608.6 318.7 608.8 318.9 609 318 609.2 316.2 609.4 314.1 609.6 316.7 609.8 314.4 610 317.4 610.2 316.9 610.4 313.6 610.6 317.7 610.8 317.7 611 316.6 611.2 319.2 611.4 319.3 611.6 313.9 611.8 317 612 315.8 612.2 315.5 612.4 315.8 612.6 313.3 612.8 313 613 312.3 613.2 312.5 613.4 313.1 613.6 311.3 613.8 311.6 614 314.6 614.2 314 614.4 314.6 614.6 311.4 614.8 313 615 313.9 615.2 315.5 615.4 315.1 615.6 318 615.8 317 616 317.6 616.2 318.5 616.4 320.5 616.6 319.5 616.8 322.3 617 322.2 617.2 322.9 617.4 324.1 617.6 326 617.8 327.6 618 328.5 618.2 328.7 618.4 330.7 618.6 330.5 618.8 333.3 619 332.1 619.2 329.8 619.4 336.6 619.6 335.5 619.8 334.8 620 337.6 620.2 337.5 620.4 343.5 620.6 341.6 620.8 339.5 621 343.9 621.2 342.7 621.4 347.3 621.6 343 621.8 341.4 622 345.7 622.2 345.5 622.4 345.8 622.6 342.8 622.8 347.1 623 348.8 623.2 342.9 623.4 347.3 623.6 344.6 623.8 349.5 624 346.8 624.2 345.9 624.4 347.7 624.6 346.7 624.8 345.1 625 347.2 625.2 345 625.4 342.2 625.6 347.8 625.8 343.6 626 342.7 626.2 344.7 626.4 341.8 626.6 341.6 626.8 342.6 627 342.3 627.2 343.2 627.4 344.5 627.6 341.2 627.8 342.9 628 342.7 628.2 339.3 628.4 341.8 628.6 339.9 628.8 343.6 629 342.9 629.2 342.5 629.4 340.7 629.6 342.8 629.8 341.6 630 344.7 630.2 343.8 630.4 342.7 630.6 346.2 630.8 346.1 631 343.7 631.2 346.8 631.4 345.4 631.6 345.8 631.8 346.9 632 346.2 632.2 347.6 632.4 347.8 632.6 350.8 632.8 352.2 633 350.1 633.2 353.2 633.4 350.8 633.6 351.8 633.8 352.5 634 351.5 634.2 355.8 634.4 353.1 634.6 351 634.8 354.7 635 352.6 635.2 353.1 635.4 349.2 635.6 356.6 635.8 357.3 636 358 636.2 358.5 636.4 360.5 636.6 359.1 636.8 361.2 637 359.7 637.2 360.5 637.4 363.5 637.6 362.9 637.8 360.1 638 363.5 638.2 362.7 638.4 361.7 638.6 364.1 638.8 363.2 639 361.8 639.2 362.8 639.4 367.5 639.6 362.9 639.8 366.5 640 367.9 640.2 368.6 640.4 365.9 640.6 367.2 640.8 368.4 641 369.5 641.2 367.6 641.4 367.4 641.6 370.7 641.8 371.5 642 370.1 642.2 369.1 642.4 371 642.6 370.9 642.8 372.4 643 369.6 643.2 371.8 643.4 371.8 643.6 370.2 643.8 373.4 644 373.1 644.2 373.2 644.4 374.7 644.6 372.3 644.8 375.4 645 375.9 645.2 375.9 645.4 376.8 645.6 372.9 645.8 372.7 646 376.6 646.2 377.2 646.4 380.6 646.6 378.1 646.8 376.4 647 379.6 647.2 378 647.4 377.2 647.6 384.2 647.8 379.7 648 380 648.2 379.2 648.4 381.1 648.6 378.9 648.8 380.1 649 376 649.2 375.4 649.4 379.9 649.6 380 649.8 378.8 650 378.6 650.2 378.1 650.4 376.3 650.6 380.2 650.8 378.5 651 378.3 651.2 378 651.4 378.7 651.6 377.9 651.8 378.1 652 375.1 652.2 378 652.4 380.6 652.6 377.3 652.8 377.3 653 379.2 653.2 379.4 653.4 379 653.6 375.4 653.8 378.4 654 376.2 654.2 376.5 654.4 378 654.6 376.8 654.8 378.3 655 382.1 655.2 378.2 655.4 378.4 655.6 376.3 655.8 376.5 656 376 656.2 376.9 656.4 376.4 656.6 377.5 656.8 378.2 657 376.7 657.2 375.8 657.4 376.1 657.6 378.7 657.8 378.6 658 380 658.2 380.2 658.4 377.9 658.6 380.2 658.8 376.4 659 383.1 659.2 381.5 659.4 379.4 659.6 377.8 659.8 381.3 660 378 660.2 379.8 660.4 382.3 660.6 382.5 660.8 381.2 661 384.1 661.2 381.6 661.4 384.8 661.6 383.4 661.8 383.6 662 386.4 662.2 384.5 662.4 389.7 662.6 386.7 662.8 391.1 663 386.8 663.2 389.7 663.4 387.3 663.6 387.3 663.8 390.5 664 391.9 664.2 388.8 664.4 392.9 664.6 390.4 664.8 391.8 665 392.4 665.2 392.9 665.4 389.3 665.6 395 665.8 393.3 666 392.3 666.2 392.1 666.4 391.6 666.6 392.1 666.8 395.6 667 394.5 667.2 393 667.4 393.6 667.6 396.9 667.8 393.5 668 392.2 668.2 394.4 668.4 392.5 668.6 390.7 668.8 389 669 387.2 669.2 386.9 669.4 387.1 669.6 386.2 669.8 385.9 670 385.5 670.2 384.4 670.4 383.2 670.6 379.8 670.8 376.9 671 378.9 671.2 377.5 671.4 377 671.6 376.9 671.8 374.5 672 373.6 672.2 374.5 672.4 374.4 672.6 372.4 672.8 373.3 673 371.7 673.2 370.2 673.4 371.4 673.6 373.9 673.8 369.6 674 372.9 674.2 373.3 674.4 372.9 674.6 369.1 674.8 373.8 675 370.7 675.2 370.6 675.4 371 675.6 373 675.8 371.9 676 371.9 676.2 374.7 676.4 372.3 676.6 372.2 676.8 375.2 677 375.4 677.2 376.2 677.4 372.6 677.6 376.7 677.8 375.5 678 377.9 678.2 373.3 678.4 375.8 678.6 375.5 678.8 373.1 679 375.3 679.2 378.8 679.4 376.4 679.6 376.1 679.8 378.7 680 378.8 680.2 378.2 680.4 375.7 680.6 377.1 680.8 378.1 681 374.5 681.2 373.7 681.4 376 681.6 377 681.8 372 682 369.4 682.2 370.5 682.4 370.7 682.6 372 682.8 372.9 683 371.1 683.2 370 683.4 371.2 683.6 368.8 683.8 369.9 684 368.3 684.2 373.3 684.4 369.6 684.6 366.3 684.8 365.9 685 366.8 685.2 364.4 685.4 366.1 685.6 366.1 685.8 368.6 686 366.2 686.2 365.7 686.4 364.8 686.6 365.2 686.8 366.5 687 366.2 687.2 368.4 687.4 365.5 687.6 369 687.8 368.2 688 368.1 688.2 365.7 688.4 367.5 688.6 372.4 688.8 374.3 689 373.4 689.2 375.2 689.4 373.9 689.6 375 689.8 375.5 690 379 690.2 379.1 690.4 379.2 690.6 380 690.8 382.3 691 383 691.2 382.8 691.4 388.2 691.6 386.9 691.8 387.5 692 390.4 692.2 389.9 692.4 388.7 692.6 390.4 692.8 388.1 693 388.3 693.2 385.7 693.4 391.6 693.6 385.9 693.8 390.4 694 388.2 694.2 387.7 694.4 388.8 694.6 389.1 694.8 389.8 695 390.9 695.2 387.8 695.4 388.6 695.6 386.3 695.8 387.4 696 385.8 696.2 384.3 696.4 384.7 696.6 384.3 696.8 384 697 383.7 697.2 381.5 697.4 380 697.6 382 697.8 378 698 378.7 698.2 381.4 698.4 373.4 698.6 376.7 698.8 379 699 374.8 699.2 380.9 699.4 372.3 699.6 378.5 699.8 379.6 700 378.6 700.2 377.1 700.4 377.5 700.6 375.2 700.8 377.9 701 374.9 701.2 375.8 701.4 377.5 701.6 373.4 701.8 374.5 702 375.2 702.2 373 702.4 377.2 702.6 376.5 702.8 373.6 703 376.3 703.2 375.3 703.4 375.5 703.6 377 703.8 375.3 704 378.4 704.2 376.1 704.4 378.8 704.6 376.9 704.8 378 705 375.6 705.2 375.7 705.4 374.7 705.6 377.7 705.8 378 706 379.9 706.2 378.1 706.4 376.8 706.6 376.8 706.8 377.5 707 376.9 707.2 379 707.4 378 707.6 374.7 707.8 374.2 708 377.9 708.2 375.8 708.4 374.8 708.6 377.2 708.8 374.5 709 374.8 709.2 374.4 709.4 372.1 709.6 377.2 709.8 373.8 710 374.8 710.2 374.4 710.4 377.4 710.6 376.7 710.8 376.9 711 374.9 711.2 378.6 711.4 376.5 711.6 380 711.8 380 712 380 712.2 383.5 712.4 380.4 712.6 381.3 712.8 381 713 380.6 713.2 383.1 713.4 383.3 713.6 380.2 713.8 383.9 714 383.3 714.2 384.9 714.4 384.1 714.6 381.4 714.8 381.7 715 386.6 715.2 384.9 715.4 383.1 715.6 385.9 715.8 384.8 716 382.1 716.2 381.3 716.4 382.5 716.6 385.1 716.8 384.2 717 383.2 717.2 383.6 717.4 384.3 717.6 379.8 717.8 383.2 718 382.6 718.2 381.8 718.4 383.2 718.6 383.8 718.8 383.4 719 380.9 719.2 382.6 719.4 386.8 719.6 381 719.8 379.9 720 382.5 720.2 382.8 720.4 382.6 720.6 379.4 720.8 382.4 721 378.9 721.2 377.8 721.4 378.4 721.6 378.7 721.8 379.6 722 378.9 722.2 377.4 722.4 378.4 722.6 377 722.8 377.8 723 373.1 723.2 372.5 723.4 375.8 723.6 372.5 723.8 373.8 724 374.2 724.2 374.1 724.4 374.1 724.6 377.5 724.8 371.5 725 376.8 725.2 379 725.4 375.1 725.6 374.9 725.8 375.4 726 376.1 726.2 370.8 726.4 372.2 726.6 371 726.8 372 727 371 727.2 371.2 727.4 369.2 727.6 369.9 727.8 368.3 728 367.7 728.2 368.2 728.4 368.4 728.6 366.7 728.8 370.1 729 367 729.2 364.6 729.4 368.4 729.6 365.9 729.8 367.4 730 366 730.2 365.7 730.4 365.1 730.6 363.8 730.8 364.8 731 367.9 731.2 360.5 731.4 363.1 731.6 363.6 731.8 361.3 732 360.6 732.2 365.9 732.4 362.1 732.6 365.9 732.8 363.2 733 362.4 733.2 363.6 733.4 364 733.6 364.8 733.8 364.2 734 363.8 734.2 364.2 734.4 365.6 734.6 365.1 734.8 362.1 735 363.3 735.2 365 735.4 363.8 735.6 364.6 735.8 363.7 736 364.7 736.2 366.4 736.4 367.2 736.6 365.4 736.8 368.6 737 365.1 737.2 370.2 737.4 366.3 737.6 365.3 737.8 364.2 738 360.6 738.2 365.5 738.4 366.3 738.6 369 738.8 363.8 739 368.9 739.2 365.6 739.4 367.3 739.6 361.4 739.8 365.4 740 363.7 740.2 365.5 740.4 364.3 740.6 361.1 740.8 364.3 741 362.6 741.2 361.6 741.4 360.9 741.6 359.6 741.8 357 742 353 742.2 351.4 742.4 354.8 742.6 352.2 742.8 350.7 743 348.4 743.2 348 743.4 347.3 743.6 344.9 743.8 343.4 744 347.7 744.2 343.9 744.4 341.9 744.6 339.7 744.8 340.3 745 342.5 745.2 342.3 745.4 341.3 745.6 341.9 745.8 340.7 746 339.1 746.2 343.2 746.4 341.3 746.6 344.7 746.8 339.4 747 340 747.2 341 747.4 338.9 747.6 336.7 747.8 337.3 748 338.5 748.2 339.4 748.4 338.3 748.6 340.4 748.8 340.5 749 339.6 749.2 338.8 749.4 338.6 749.6 339.8 749.8 340.8 750 339.3 750.2 340.2 750.4 338.9 750.6 336.9 750.8 337.7 751 340.6 751.2 339.9 751.4 342.1 751.6 338.8 751.8 340.1 752 340.5 752.2 339.6 752.4 337.4 752.6 337.9 752.8 338 753 336.1 753.2 337.8 753.4 338.4 753.6 335.1 753.8 338.8 754 334.7 754.2 333.5 754.4 332.7 754.6 331.7 754.8 333 755 331.5 755.2 334.2 755.4 331.8 755.6 331.2 755.8 329.6 756 327 756.2 328.6 756.4 326.7 756.6 329 756.8 326.9 757 328.7 757.2 326.6 757.4 326.1 757.6 324.4 757.8 324.2 758 324.2 758.2 324.1 758.4 321.1 758.6 322.9 758.8 326.2 759 322 759.2 321.2 759.4 319.6 759.6 318.7 759.8 323.7 760 321.8 760.2 322.2 760.4 325 760.6 326.7 760.8 321.8 761 326 761.2 326.5 761.4 326.6 761.6 327.1 761.8 327.1 762 330.9 762.2 330 762.4 330.3 762.6 332.2 762.8 332.3 763 332.1 763.2 332.6 763.4 334.9 763.6 333.4 763.8 333.1 764 332.3 764.2 333.6 764.4 332.8 764.6 335.5 764.8 336.8 765 333.5 765.2 338.2 765.4 340.1 765.6 340 765.8 338.7 766 342.3 766.2 339.8 766.4 339.1 766.6 339.5 766.8 341.2 767 342.9 767.2 343.1 767.4 341.3 767.6 338.3 767.8 339 768 338.5 768.2 338.9 768.4 335.8 768.6 338.9 768.8 339 769 337.1 769.2 337.2 769.4 334.5 769.6 333.2 769.8 333.2 770 335 770.2 334.3 770.4 330.6 770.6 332.9 770.8 329.7 771 332.1 771.2 330.1 771.4 328.1 771.6 329.5 771.8 327.2 772 325.8 772.2 324.5 772.4 327.2 772.6 326.3 772.8 326.3 773 325.2 773.2 327.9 773.4 325.1 773.6 324.4 773.8 327.6 774 327.6 774.2 325.3 774.4 321.5 774.6 322.7 774.8 324.9 775 323.7 775.2 325.9 775.4 320.8 775.6 324.4 775.8 322.4 776 325.6 776.2 323.7 776.4 326.2 776.6 323.2 776.8 321.6 777 322.4 777.2 323.5 777.4 322.8 777.6 326.2 777.8 326.7 778 325 778.2 322.4 778.4 323.6 778.6 323.3 778.8 326.8 779 325.3 779.2 325.5 779.4 324.2 779.6 321.3 779.8 323.1 780 322.7 780.2 325.3 780.4 324.7 780.6 323.3 780.8 323.6 781 326.8 781.2 322.8 781.4 322.9 781.6 324.1 781.8 323.3 782 324 782.2 325.1 782.4 327.1 782.6 321.8 782.8 324.9 783 325.4 783.2 325.3 783.4 325.2 783.6 324.7 783.8 327.2 784 325.7 784.2 326.5 784.4 326.6 784.6 326.9 784.8 326.4 785 328.3 785.2 327 785.4 327.8 785.6 327.1 785.8 325.3 786 325.7 786.2 325.3 786.4 326.8 786.6 325.5 786.8 324.5 787 327.2 787.2 327.9 787.4 324.8 787.6 330.5 787.8 327.5 788 327.5 788.2 330.2 788.4 328.5 788.6 328.1 788.8 332.5 789 327.2 789.2 328.5 789.4 329.8 789.6 327 789.8 328.6 790 329.6 790.2 333.5 790.4 328.6 790.6 329.9 790.8 331.2 791 330.9 791.2 329.4 791.4 332 791.6 331.8 791.8 332.2 792 332.6 792.2 331.7 792.4 330.5 792.6 329.8 792.8 327.1 793 328.3 793.2 329 793.4 327.8 793.6 328.1 793.8 326.7 794 330.4 794.2 331.4 794.4 327.3 794.6 328 794.8 326.9 795 328.6 795.2 326.7 795.4 326.2 795.6 325 795.8 325.4 796 322.7 796.2 325.1 796.4 322.2 796.6 323.9 796.8 323.1 797 324.4 797.2 322.1 797.4 324.2 797.6 320.6 797.8 323 798 321.1 798.2 322.1 798.4 321.3 798.6 322.6 798.8 317.1 799 320.8 799.2 316.7 799.4 321 799.6 315.4 799.8 316.5 800 314.8 800.2 319.6 800.4 314 800.6 316.3 800.8 314.3 801 312.2 801.2 313.8 801.4 314.9 801.6 313.4 801.8 314.9 802 312.6 802.2 313 802.4 312 802.6 313.5 802.8 315.5 803 312.7 803.2 312.1 803.4 310.3 803.6 309.9 803.8 313.6 804 309.3 804.2 309.6 804.4 310.6 804.6 309.9 804.8 313.8 805 307.4 805.2 311.5 805.4 312.1 805.6 309.1 805.8 309.9 806 312 806.2 314.5 806.4 310.8 806.6 309.8 806.8 313.8 807 315.3 807.2 312.4 807.4 309.5 807.6 315.6 807.8 312.7 808 315.2 808.2 313.7 808.4 313.6 808.6 313.2 808.8 316.9 809 317.3 809.2 311.7 809.4 313.9 809.6 318.5 809.8 314.6 810 313.1 810.2 315.2 810.4 315.4 810.6 315.3 810.8 314.2 811 314.6 811.2 314.6 811.4 315.5 811.6 314 811.8 314.4 812 314.8 812.2 317.1 812.4 315 812.6 313.9 812.8 313.9 813 312.7 813.2 313.1 813.4 311.5 813.6 313.1 813.8 310.9 814 307.8 814.2 306.3 814.4 307.4 814.6 306.2 814.8 304.5 815 301.2 815.2 299 815.4 301.3 815.6 301 815.8 299.8 816 295.3 816.2 298.1 816.4 294.2 816.6 294.7 816.8 294.3 817 291.7 817.2 291.1 817.4 288.6 817.6 289.9 817.8 288.3 818 292.1 818.2 291.2 818.4 292.5 818.6 291.2 818.8 289.3 819 291.6 819.2 290.5 819.4 291.7 819.6 291.2 819.8 288.7 820 290.9 820.2 291.1 820.4 290.6 820.6 292.9 820.8 293.9 821 290.4 821.2 290.8 821.4 287.7 821.6 291.5 821.8 290.5 822 287.7 822.2 291.8 822.4 292.2 822.6 290.2 822.8 290.5 823 289.5 823.2 292.2 823.4 288.5 823.6 290.7 823.8 294.4 824 291.5 824.2 291.9 824.4 290.8 824.6 289.1 824.8 290.8 825 291.5 825.2 288.9 825.4 291.1 825.6 292.5 825.8 291.7 826 287.2 826.2 287.4 826.4 286.1 826.6 290.3 826.8 289 827 288.2 827.2 284.8 827.4 283.3 827.6 284.6 827.8 283.8 828 281 828.2 281.6 828.4 281.6 828.6 280.2 828.8 277 829 274.5 829.2 276.4 829.4 276.9 829.6 275.8 829.8 275.3 830 274.6 830.2 276 830.4 274.4 830.6 274.8 830.8 272.3 831 273.2 831.2 273.4 831.4 271.6 831.6 271.4 831.8 272.5 832 274.8 832.2 273.6 832.4 276.3 832.6 274.1 832.8 274.5 833 273.7 833.2 275.3 833.4 279.3 833.6 278.5 833.8 280.7 834 281.2 834.2 280.1 834.4 281.5 834.6 282.8 834.8 284.2 835 284.8 835.2 285.5 835.4 285.8 835.6 284.9 835.8 286.4 836 286.3 836.2 289.3 836.4 284.8 836.6 288.5 836.8 293.7 837 289.4 837.2 288.4 837.4 290.1 837.6 291.9 837.8 290 838 291.3 838.2 289.9 838.4 288.9 838.6 294.1 838.8 288.7 839 287.6 839.2 287.5 839.4 288.7 839.6 288.4 839.8 289.1 840 288 840.2 285.2 840.4 288.2 840.6 287.1 840.8 286.1 841 283.5 841.2 284.6 841.4 283.5 841.6 283.4 841.8 280.7 842 282.7 842.2 281.9 842.4 279.4 842.6 279.9 842.8 279.2 843 281.7 843.2 275.8 843.4 279.3 843.6 276.7 843.8 278.4 844 280.4 844.2 277.2 844.4 278.4 844.6 276.2 844.8 280.4 845 278.4 845.2 279 845.4 274.9 845.6 275.3 845.8 278.9 846 277.3 846.2 277.3 846.4 278.4 846.6 275.4 846.8 278.8 847 277.2 847.2 277.5 847.4 275.4 847.6 276.5 847.8 274.5 848 276.7 848.2 276.9 848.4 277 848.6 276 848.8 276.4 849 271.4 849.2 277.1 849.4 275.4 849.6 275.5 849.8 274.7 850 273.3 850.2 274.6 850.4 276.7 850.6 277.5 850.8 274 851 274 851.2 277.8 851.4 273.9 851.6 278.7 851.8 275.3 852 273.7 852.2 277.5 852.4 278.8 852.6 273.5 852.8 277.8 853 275.3 853.2 277.9 853.4 275.5 853.6 273.4 853.8 276.6 854 276.5 854.2 278.7 854.4 278.7 854.6 277.1 854.8 275.5 855 275.8 855.2 275.9 855.4 274.9 855.6 275.6 855.8 272.1 856 276.3 856.2 275.5 856.4 279.7 856.6 276.4 856.8 273.8 857 275.6 857.2 273.2 857.4 274.6 857.6 272.6 857.8 278.4 858 277.6 858.2 275 858.4 277.4 858.6 279.8 858.8 279.8 859 279.6 859.2 278.1 859.4 279 859.6 280.6 859.8 281.9 860 279.8 860.2 280 860.4 283.6 860.6 280.7 860.8 284.7 861 283.2 861.2 285 861.4 286.1 861.6 284.6 861.8 284.7 862 282.2 862.2 283.2 862.4 285.2 862.6 286.9 862.8 287.1 863 288.6 863.2 286.3 863.4 286.4 863.6 287.1 863.8 285.1 864 284.4 864.2 282.7 864.4 285.5 864.6 281.5 864.8 283.3 865 279.1 865.2 282.8 865.4 279 865.6 282.1 865.8 278.1 866 279.6 866.2 281.9 866.4 278.4 866.6 279.7 866.8 278.7 867 275.7 867.2 280.3 867.4 279.8 867.6 276.7 867.8 279.3 868 276.8 868.2 276.2 868.4 276.9 868.6 274.9 868.8 278.6 869 272.2 869.2 275.7 869.4 275.8 869.6 270.3 869.8 270.9 870 274.8 870.2 273 870.4 274.3 870.6 275.3 870.8 271.8 871 270.3 871.2 268.1 871.4 272.9 871.6 270.1 871.8 271.3 872 271.2 872.2 268.5 872.4 273.2 872.6 271.7 872.8 271.4 873 267.2 873.2 268.1 873.4 267.6 873.6 267.9 873.8 266.2 874 268.2 874.2 268.3 874.4 268.9 874.6 266.6 874.8 269.4 875 266.7 875.2 261.2 875.4 264.1 875.6 265.3 875.8 266.8 876 263.8 876.2 263.6 876.4 263 876.6 264.6 876.8 262.2 877 262.4 877.2 262.1 877.4 263.9 877.6 261.4 877.8 259.4 878 263.1 878.2 261 878.4 262.9 878.6 263.6 878.8 264.8 879 264.3 879.2 261.6 879.4 262.6 879.6 261.4 879.8 266 880 264.2 880.2 266.1 880.4 263.4 880.6 261.1 880.8 267.1 881 265.1 881.2 266 881.4 266.3 881.6 267.1 881.8 267.1 882 264 882.2 269.2 882.4 265.7 882.6 266.1 882.8 269.6 883 268.1 883.2 266.1 883.4 264.1 883.6 267.5 883.8 268 884 266.2 884.2 264.4 884.4 264.8 884.6 263.7 884.8 265.9 885 265.8 885.2 265.7 885.4 261.3 885.6 261 885.8 260.8 886 258.4 886.2 258 886.4 260.2 886.6 255.8 886.8 256.3 887 252.7 887.2 252.4 887.4 249 887.6 251.1 887.8 251.8 888 252.4 888.2 250.5 888.4 248.8 888.6 246.1 888.8 244.4 889 244.7 889.2 245.6 889.4 242.4 889.6 244.6 889.8 240.9 890 238.9 890.2 239.9 890.4 238.9 890.6 239.2 890.8 242.8 891 240.5 891.2 240.9 891.4 242.6 891.6 242.8 891.8 240.1 892 242.9 892.2 241.1 892.4 240.7 892.6 241.7 892.8 238.7 893 239.7 893.2 241.2 893.4 242.1 893.6 240.8 893.8 241.7 894 244.5 894.2 245.3 894.4 244.7 894.6 245.4 894.8 243.3 895 243.6 895.2 245.1 895.4 244.2 895.6 243.7 895.8 246.7 896 243.7 896.2 242.6 896.4 245.1 896.6 247.2 896.8 244.1 897 245.9 897.2 242.9 897.4 242.9 897.6 242.7 897.8 243.1 898 245.2 898.2 240.3 898.4 244.1 898.6 238.8 898.8 239.4 899 240 899.2 238.9 899.4 237.7 899.6 233.5 899.8 236.6 900 233.4 900.2 238.6 900.4 233.2 900.6 233.1 900.8 230.6 901 230.9 901.2 228.4 901.4 231.8 901.6 229 901.8 229.8 902 227.4 902.2 227.7 902.4 230.3 902.6 226.3 902.8 224.6 903 227.9 903.2 225.2 903.4 226.6 903.6 228.6 903.8 225.8 904 228.9 904.2 226.1 904.4 230 904.6 230.3 904.8 227.8 905 228.1 905.2 227.4 905.4 229.5 905.6 231.9 905.8 228.2 906 233 906.2 229.8 906.4 231 906.6 230.2 906.8 237.5 907 234.8 907.2 235.8 907.4 234.9 907.6 238.2 907.8 233.7 908 237.9 908.2 241.7 908.4 238.7 908.6 239.6 908.8 241.7 909 239.7 909.2 241.2 909.4 244.1 909.6 242.8 909.8 243.2 910 243.1 910.2 244 910.4 244.2 910.6 246.2 910.8 245.2 911 243.5 911.2 239.6 911.4 245 911.6 245.2 911.8 242.1 912 240.4 912.2 241.4 912.4 244.3 912.6 240.6 912.8 240.9 913 240.9 913.2 241.8 913.4 238.6 913.6 237 913.8 234.9 914 237.9 914.2 236.5 914.4 234 914.6 231.3 914.8 231.9 915 233.8 915.2 231.4 915.4 234 915.6 233.2 915.8 232.5 916 232.1 916.2 231.2 916.4 228.8 916.6 229.1 916.8 233.5 917 227.5 917.2 228.8 917.4 231.1 917.6 229.6 917.8 228.4 918 228.4 918.2 231.4 918.4 232.3 918.6 232.4 918.8 230.3 919 231.8 919.2 227.7 919.4 229.5 919.6 228.6 919.8 229.5 920 230.5 920.2 231.8 920.4 228.8 920.6 232.6 920.8 230.5 921 230.1 921.2 231.5 921.4 229.4 921.6 232.1 921.8 232.9 922 231.8 922.2 232.8 922.4 231.6 922.6 231.8 922.8 229.6 923 232.1 923.2 230.7 923.4 231.3 923.6 231.7 923.8 231.8 924 229.1 924.2 229.1 924.4 230.9 924.6 232 924.8 231.7 925 232.6 925.2 233.4 925.4 231.9 925.6 231 925.8 229.4 926 229.7 926.2 230.6 926.4 232 926.6 231.9 926.8 231.4 927 230.9 927.2 232.7 927.4 232.3 927.6 232.1 927.8 231.6 928 230.1 928.2 229.4 928.4 231.7 928.6 231.7 928.8 230.7 929 229.6 929.2 233.9 929.4 228.6 929.6 229.4 929.8 229.7 930 227.3 930.2 229.1 930.4 231.4 930.6 229.8 930.8 228.8 931 228.1 931.2 227 931.4 227.9 931.6 226 931.8 224.6 931.8 216.4 932.2 232.8 932.7 217.7 933.2 231.2 933.6 217.4 934.1 230.7 934.5 218 935 230.6 935.4 214.8 935.9 229.7 936.3 215.8 936.8 229.8 937.2 215.3 937.7 228.7 938.1 215.9 938.6 227 939 216.6 939.5 227.2 939.9 212.1 940.4 228.3 940.8 214 941.3 228.4 941.7 213.9 942.2 227 942.6 211.6 943.1 226.4 943.5 210.9 944 224.8 944.4 212.2 L944.4 302.8 944 286.3 943.5 301.5 943.1 286.1 942.6 302 942.2 285.6 941.7 303.7 941.3 288 940.8 305.4 940.4 286 939.9 303.7 939.5 287.3 939 302.8 938.6 286.4 938.1 306.2 937.7 288.2 937.2 303.1 936.8 291 936.3 307 935.9 287.2 935.4 305.6 935 290 934.5 306.7 934.1 289.8 933.6 305.9 933.2 290.6 932.7 308.2 932.2 291.7 931.8 311.2 931.8 303.8 931.6 302.8 931.4 305.6 931.2 302 931 301.9 930.8 301.3 930.6 301.8 930.4 298.9 930.2 302.1 930 299.8 929.8 301.9 929.6 300.4 929.4 303.5 929.2 303.8 929 301.5 928.8 304.2 928.6 304.8 928.4 301.9 928.2 300.7 928 299.9 927.8 301.2 927.6 304.1 927.4 299.7 927.2 303.8 927 302.7 926.8 304.3 926.6 302.2 926.4 303.4 926.2 301.9 926 303.1 925.8 304.5 925.6 305.7 925.4 305.8 925.2 305 925 302.8 924.8 306.5 924.6 303.5 924.4 304.1 924.2 308 924 303.9 923.8 302.6 923.6 299.8 923.4 299.5 923.2 299.6 923 299.5 922.8 302.1 922.6 301.8 922.4 301.2 922.2 301.3 922 299.8 921.8 300.5 921.6 301.5 921.4 303.8 921.2 304.3 921 302.7 920.8 299.3 920.6 304.1 920.4 301.5 920.2 301.7 920 299.2 919.8 299.5 919.6 301.6 919.4 299.3 919.2 301.6 919 299.8 918.8 302 918.6 299.3 918.4 298.3 918.2 300 918 301.8 917.8 301.4 917.6 300.8 917.4 305.8 917.2 303.7 917 304.5 916.8 305 916.6 303.8 916.4 306.3 916.2 307.8 916 307.9 915.8 308.1 915.6 310 915.4 306.3 915.2 307.7 915 312.9 914.8 309.4 914.6 313.6 914.4 310.6 914.2 314.2 914 312.9 913.8 315.3 913.6 315 913.4 317.7 913.2 317.2 913 314.2 912.8 317.9 912.6 320.3 912.4 316.8 912.2 317.3 912 315.7 911.8 316.5 911.6 315.3 911.4 316.3 911.2 315.8 911 316.1 910.8 312.1 910.6 315.7 910.4 315.6 910.2 309.8 910 309 909.8 314.9 909.6 311.6 909.4 310.1 909.2 312.5 909 308.1 908.8 305.3 908.6 305.6 908.4 309.3 908.2 305.3 908 303.8 907.8 300.4 907.6 305 907.4 303.1 907.2 299.4 907 299.9 906.8 299.2 906.6 298.7 906.4 295.5 906.2 298.5 906 296 905.8 296.2 905.6 297.7 905.4 293.9 905.2 294.5 905 294.9 904.8 296.9 904.6 295.3 904.4 293.9 904.2 292.3 904 292.9 903.8 294.5 903.6 296.4 903.4 294.8 903.2 297.1 903 295.9 902.8 297.6 902.6 297.7 902.4 298.3 902.2 297.7 902 299.8 901.8 301.3 901.6 301.7 901.4 302.2 901.2 302.9 901 305.4 900.8 306.8 900.6 306.3 900.4 305.8 900.2 310.5 900 304.5 899.8 307.3 899.6 308 899.4 309.3 899.2 310.7 899 307.5 898.8 310.4 898.6 311.9 898.4 310.6 898.2 310 898 311.2 897.8 314.1 897.6 312.9 897.4 315.9 897.2 313 897 313.4 896.8 318.8 896.6 312.5 896.4 317.5 896.2 311.9 896 310.7 895.8 311.9 895.6 313.3 895.4 315.1 895.2 311.9 895 312.2 894.8 314.8 894.6 313.7 894.4 310.5 894.2 311.1 894 310.4 893.8 313.3 893.6 311.7 893.4 310.2 893.2 311.4 893 311.3 892.8 310.1 892.6 308.9 892.4 312.9 892.2 311.3 892 314.5 891.8 313.2 891.6 313 891.4 311 891.2 314.5 891 311.5 890.8 311.9 890.6 308.2 890.4 311.8 890.2 308.6 890 311.1 889.8 312.5 889.6 316.2 889.4 309.6 889.2 316.6 889 316.3 888.8 315.6 888.6 318.4 888.4 317.1 888.2 319.4 888 319.5 887.8 324.7 887.6 323.6 887.4 325.6 887.2 327 887 325.6 886.8 326.5 886.6 327 886.4 330.4 886.2 329.9 886 334.8 885.8 328.7 885.6 334.1 885.4 334.8 885.2 336.8 885 335.9 884.8 337.1 884.6 336.5 884.4 335.2 884.2 337.1 884 340.3 883.8 338.5 883.6 335.1 883.4 337.3 883.2 338.5 883 337.1 882.8 338.2 882.6 337.5 882.4 333.8 882.2 340.1 882 332.4 881.8 337.7 881.6 334 881.4 337.3 881.2 335 881 334.9 880.8 335.3 880.6 333.8 880.4 334.7 880.2 334.4 880 334.9 879.8 336.8 879.6 332.4 879.4 332.3 879.2 336.9 879 336.5 878.8 336.5 878.6 333.6 878.4 335.8 878.2 334.7 878 334.2 877.8 334.4 877.6 333.2 877.4 335.3 877.2 335.4 877 330.7 876.8 334.7 876.6 333.7 876.4 331.1 876.2 331.6 876 334.9 875.8 332.3 875.6 333.8 875.4 335.9 875.2 333.7 875 333.9 874.8 330.7 874.6 331.2 874.4 330.2 874.2 330.6 874 336.5 873.8 336.8 873.6 332.9 873.4 333.2 873.2 334.5 873 338.3 872.8 337.6 872.6 336.3 872.4 335.6 872.2 340.5 872 337.4 871.8 335.7 871.6 339.3 871.4 338.9 871.2 337.8 871 337.7 870.8 337.5 870.6 339.3 870.4 344 870.2 340.8 870 342 869.8 346.4 869.6 341.8 869.4 343.9 869.2 344 869 341 868.8 346.5 868.6 342 868.4 343.9 868.2 344.6 868 343.1 867.8 344.8 867.6 346 867.4 347.4 867.2 347.1 867 347.7 866.8 346.8 866.6 346.2 866.4 346.4 866.2 346.7 866 348.7 865.8 346.9 865.6 346.8 865.4 349.3 865.2 348.5 865 351.8 864.8 349.3 864.6 351.2 864.4 350.2 864.2 351 864 349.4 863.8 351.3 863.6 354.9 863.4 350.7 863.2 354.1 863 352.2 862.8 348.9 862.6 353.7 862.4 354.8 862.2 355.7 862 352.2 861.8 356.2 861.6 356.1 861.4 354.6 861.2 355.5 861 357.5 860.8 354.3 860.6 353 860.4 352.2 860.2 354.5 860 357.4 859.8 354.3 859.6 353.2 859.4 356.5 859.2 352.3 859 354 858.8 354.1 858.6 356.2 858.4 355.7 858.2 353.2 858 354.8 857.8 354.6 857.6 357.1 857.4 354 857.2 353.1 857 355.2 856.8 353.5 856.6 355.8 856.4 350 856.2 352.8 856 353.3 855.8 356.5 855.6 354.1 855.4 358.1 855.2 356.7 855 352.3 854.8 355.7 854.6 358.2 854.4 353.6 854.2 357.8 854 353.3 853.8 356.1 853.6 355.9 853.4 356.1 853.2 357.1 853 350.4 852.8 352.7 852.6 355.3 852.4 351.4 852.2 353.7 852 352.8 851.8 355.9 851.6 354.8 851.4 354.6 851.2 352.4 851 352.9 850.8 353.9 850.6 358 850.4 354.4 850.2 352.8 850 350.2 849.8 352.5 849.6 354.3 849.4 352.9 849.2 353.6 849 354.5 848.8 350.7 848.6 357.1 848.4 355.5 848.2 355.5 848 352.8 847.8 353.2 847.6 354.3 847.4 352 847.2 350.3 847 351.5 846.8 348.2 846.6 351.6 846.4 350.5 846.2 351.1 846 348.1 845.8 349.1 845.6 348.5 845.4 349 845.2 350.3 845 348 844.8 349.5 844.6 349.4 844.4 347.5 844.2 351.7 844 347.7 843.8 349.4 843.6 348.2 843.4 350.1 843.2 349 843 351.6 842.8 351.8 842.6 351.6 842.4 353.5 842.2 355.7 842 351.5 841.8 353.3 841.6 354.9 841.4 355.8 841.2 357 841 359.1 840.8 356 840.6 357.9 840.4 360.1 840.2 358.9 840 363 839.8 362.7 839.6 361.6 839.4 362.1 839.2 363.5 839 363.9 838.8 362.1 838.6 363.3 838.4 361.7 838.2 363.3 838 365 837.8 364.3 837.6 359.7 837.4 361 837.2 358.7 837 359 836.8 359.8 836.6 359 836.4 361.4 836.2 356.9 836 358.9 835.8 359.2 835.6 354 835.4 358.3 835.2 356.6 835 358.1 834.8 355 834.6 354.7 834.4 358.1 834.2 353.1 834 352 833.8 350.8 833.6 351.8 833.4 348.4 833.2 349.6 833 349 832.8 346.2 832.6 348.7 832.4 348.9 832.2 346.7 832 343.1 831.8 346.1 831.6 346.3 831.4 347 831.2 345.3 831 344.4 830.8 346.5 830.6 346.3 830.4 344 830.2 345.6 830 343.6 829.8 347.3 829.6 345.8 829.4 350.5 829.2 352.5 829 351.6 828.8 351.8 828.6 353.3 828.4 354.2 828.2 349.8 828 352.7 827.8 350.9 827.6 355 827.4 354.6 827.2 356.8 827 356.1 826.8 357.3 826.6 357.7 826.4 357.6 826.2 360.6 826 362 825.8 358.6 825.6 361.3 825.4 361.4 825.2 364.8 825 362.2 824.8 364.3 824.6 366.2 824.4 365.6 824.2 366.1 824 363.3 823.8 363.4 823.6 364.1 823.4 364.1 823.2 363.1 823 364.3 822.8 369.7 822.6 367.1 822.4 364.5 822.2 365 822 365.4 821.8 365.3 821.6 362.9 821.4 363.7 821.2 364.7 821 362.4 820.8 362.1 820.6 363.1 820.4 363 820.2 364.2 820 363.5 819.8 363.3 819.6 364 819.4 363 819.2 364.3 819 361.5 818.8 360.8 818.6 361.1 818.4 364.3 818.2 363.7 818 360.9 817.8 361.7 817.6 366.8 817.4 365 817.2 362.8 817 362.5 816.8 368 816.6 363.2 816.4 364.1 816.2 364.4 816 366.7 815.8 367.1 815.6 369.8 815.4 368.8 815.2 369.9 815 371.8 814.8 371.4 814.6 378.2 814.4 372.1 814.2 375.5 814 375.3 813.8 377.5 813.6 378.7 813.4 380.6 813.2 379.8 813 382.3 812.8 382.6 812.6 385 812.4 384.3 812.2 386.7 812 385.5 811.8 387.6 811.6 389.6 811.4 388.4 811.2 388 811 389.7 810.8 387 810.6 390.3 810.4 393.5 810.2 391.2 810 389.7 809.8 390.1 809.6 390.3 809.4 386.9 809.2 386.1 809 390.1 808.8 392.3 808.6 386.3 808.4 388.4 808.2 386 808 389.6 807.8 388.8 807.6 389.8 807.4 387 807.2 383 807 384.2 806.8 386.1 806.6 386.8 806.4 381.1 806.2 383 806 382.3 805.8 381.2 805.6 380.3 805.4 384.3 805.2 383.1 805 379.7 804.8 382.1 804.6 384.1 804.4 383 804.2 385.1 804 382.3 803.8 384.6 803.6 384.6 803.4 386.5 803.2 386.4 803 386.9 802.8 390 802.6 388.3 802.4 390.5 802.2 386.4 802 387.7 801.8 387.3 801.6 388.9 801.4 388.2 801.2 386.4 801 386.9 800.8 386 800.6 387.4 800.4 386.8 800.2 389.4 800 390.5 799.8 391 799.6 390.1 799.4 391.4 799.2 393.9 799 392.2 798.8 394.6 798.6 392.1 798.4 392.3 798.2 393.4 798 395.9 797.8 393.1 797.6 394.5 797.4 394.6 797.2 394.4 797 396.7 796.8 397.9 796.6 397.6 796.4 397.3 796.2 398.6 796 396.8 795.8 397 795.6 397.7 795.4 398.6 795.2 399.6 795 401 794.8 400.8 794.6 401.8 794.4 401.6 794.2 400.5 794 401.1 793.8 404.2 793.6 400.4 793.4 401.6 793.2 401.2 793 403.7 792.8 402 792.6 400.5 792.4 403.5 792.2 404 792 405.4 791.8 403.7 791.6 402.8 791.4 403.3 791.2 402.5 791 404.8 790.8 403.5 790.6 401.9 790.4 403.4 790.2 402.1 790 404.8 789.8 404.2 789.6 404.6 789.4 404.4 789.2 400.8 789 405.3 788.8 405.3 788.6 406.1 788.4 399.6 788.2 399.6 788 402.6 787.8 401.6 787.6 405.8 787.4 401.8 787.2 403.5 787 402.8 786.8 399.6 786.6 400.1 786.4 399.4 786.2 400.8 786 397.4 785.8 397.6 785.6 400.2 785.4 396.5 785.2 399 785 394 784.8 396.2 784.6 398.1 784.4 398.5 784.2 397.1 784 397.9 783.8 396.5 783.6 396.4 783.4 397.8 783.2 396.1 783 399.2 782.8 396.8 782.6 397.3 782.4 398.4 782.2 399.7 782 398.2 781.8 398 781.6 399.7 781.4 399.5 781.2 399.7 781 402.6 780.8 402.3 780.6 399.4 780.4 399.5 780.2 398.7 780 400.5 779.8 400 779.6 400 779.4 402.1 779.2 401.9 779 399 778.8 401.1 778.6 398.6 778.4 402.4 778.2 399.7 778 402.2 777.8 400.1 777.6 401.8 777.4 400.1 777.2 398.4 777 397.9 776.8 399.9 776.6 400.2 776.4 400.2 776.2 398.5 776 396.1 775.8 399.7 775.6 398.9 775.4 399.7 775.2 398.2 775 397.5 774.8 398.8 774.6 398.7 774.4 398.7 774.2 399.7 774 397.4 773.8 400.4 773.6 397.8 773.4 395.6 773.2 398.5 773 397.1 772.8 394.4 772.6 399 772.4 393.5 772.2 396.2 772 396.3 771.8 396.3 771.6 398.7 771.4 398.8 771.2 399 771 396.7 770.8 399.9 770.6 404.3 770.4 404.2 770.2 405.8 770 401 769.8 405.4 769.6 404.1 769.4 404.8 769.2 405.5 769 405.9 768.8 407.5 768.6 409.8 768.4 406.3 768.2 410.9 768 408 767.8 409.9 767.6 411.1 767.4 409.6 767.2 412 767 411.3 766.8 409.8 766.6 414.8 766.4 413.2 766.2 413.6 766 412.2 765.8 411.5 765.6 412.3 765.4 413.9 765.2 412.3 765 413.3 764.8 412.4 764.6 413.1 764.4 412.7 764.2 408.8 764 408 763.8 406.7 763.6 408 763.4 406.9 763.2 403.5 763 403.6 762.8 403.9 762.6 400.8 762.4 403.3 762.2 399.1 762 398.4 761.8 396.5 761.6 401.1 761.4 395.8 761.2 396.1 761 398.7 760.8 396.4 760.6 398.4 760.4 399.1 760.2 396.5 760 394.2 759.8 393.3 759.6 392.1 759.4 391.5 759.2 393.7 759 394 758.8 394.9 758.6 395.1 758.4 395.2 758.2 399.3 758 398.2 757.8 398.9 757.6 398.5 757.4 400.3 757.2 402.5 757 403.8 756.8 398.5 756.6 403.1 756.4 399.6 756.2 400.8 756 402 755.8 402.5 755.6 403.2 755.4 407.7 755.2 405.7 755 406.4 754.8 406.4 754.6 406.4 754.4 408.3 754.2 407.9 754 412.1 753.8 409 753.6 407.2 753.4 409.5 753.2 411.7 753 409.8 752.8 412.5 752.6 409.3 752.4 413.2 752.2 409.6 752 408.3 751.8 411 751.6 413.5 751.4 411.7 751.2 410.4 751 411.2 750.8 412.3 750.6 411.4 750.4 412.3 750.2 413.7 750 410 749.8 411.6 749.6 411.3 749.4 412.1 749.2 411.1 749 413.8 748.8 411.5 748.6 411.8 748.4 409.6 748.2 410.9 748 408.5 747.8 411.2 747.6 412.4 747.4 411.2 747.2 412.3 747 415.1 746.8 410.7 746.6 411.9 746.4 414.5 746.2 413.5 746 412.8 745.8 414.2 745.6 414.1 745.4 415.8 745.2 414.6 745 414.4 744.8 416 744.6 417.4 744.4 419.9 744.2 418.1 744 420.1 743.8 419.6 743.6 418.2 743.4 420.9 743.2 422.9 743 420.8 742.8 423.7 742.6 425.4 742.4 430.5 742.2 430.4 742 428.1 741.8 428.3 741.6 433.8 741.4 431.1 741.2 433.4 741 433.6 740.8 433.8 740.6 435.2 740.4 434.9 740.2 434 740 437.5 739.8 437.9 739.6 434.7 739.4 437.3 739.2 438.3 739 436.1 738.8 435.9 738.6 437.4 738.4 434.9 738.2 436.8 738 435.4 737.8 437.8 737.6 435.1 737.4 437.1 737.2 437.5 737 431.1 736.8 433.9 736.6 437.5 736.4 438.4 736.2 436.8 736 434.8 735.8 437.9 735.6 436 735.4 436.4 735.2 436.3 735 436 734.8 436 734.6 437.6 734.4 437.4 734.2 434.9 734 441.5 733.8 435.3 733.6 435.4 733.4 436 733.2 435.3 733 437.8 732.8 432.1 732.6 433 732.4 435.4 732.2 436.7 732 436.7 731.8 437.7 731.6 436.8 731.4 438.3 731.2 436.8 731 438.8 730.8 437.7 730.6 438.4 730.4 436.3 730.2 437 730 437.1 729.8 436.4 729.6 438.7 729.4 438.3 729.2 441 729 441.3 728.8 441.5 728.6 440.4 728.4 439.7 728.2 439.9 728 441.2 727.8 437.8 727.6 441.4 727.4 440.6 727.2 439.8 727 438 726.8 437.5 726.6 442.2 726.4 443.6 726.2 441.1 726 441.6 725.8 443.7 725.6 443.8 725.4 443.4 725.2 445.3 725 444.7 724.8 449.7 724.6 443.7 724.4 446.9 724.2 447.1 724 446.2 723.8 448.1 723.6 445.9 723.4 448.9 723.2 448.1 723 446 722.8 449.3 722.6 450.6 722.4 449.9 722.2 450.5 722 446.5 721.8 451.7 721.6 453.1 721.4 452.8 721.2 449.4 721 454.7 720.8 453.2 720.6 457.3 720.4 452.4 720.2 453.5 720 451.4 719.8 457.3 719.6 454.5 719.4 458.1 719.2 457 719 454.8 718.8 456.1 718.6 456.5 718.4 458.2 718.2 457.3 718 458.8 717.8 458.7 717.6 456.2 717.4 460.2 717.2 457.7 717 455.5 716.8 456.6 716.6 457.5 716.4 456.3 716.2 456 716 455.1 715.8 455.2 715.6 456 715.4 453.4 715.2 457 715 458.6 714.8 454.9 714.6 454.9 714.4 456 714.2 453.8 714 455.1 713.8 453.3 713.6 456.2 713.4 453.2 713.2 456.5 713 450.7 712.8 451.7 712.6 454.7 712.4 452.7 712.2 450.7 712 450.9 711.8 452 711.6 447.7 711.4 450.1 711.2 447.8 711 449.9 710.8 451.4 710.6 448.2 710.4 448.2 710.2 449.1 710 445.4 709.8 447.1 709.6 448.3 709.4 448.7 709.2 448.6 709 449.4 708.8 450.8 708.6 450 708.4 446.6 708.2 445 708 448.5 707.8 448.1 707.6 448.1 707.4 448.6 707.2 449.6 707 449.4 706.8 445.5 706.6 443.2 706.4 446.3 706.2 445.6 706 447.9 705.8 448.2 705.6 446.8 705.4 446.9 705.2 444.2 705 446.1 704.8 447 704.6 444.9 704.4 446.5 704.2 445.7 704 448.2 703.8 445.2 703.6 448.4 703.4 445.6 703.2 445.8 703 446.5 702.8 445 702.6 443.3 702.4 444.8 702.2 446.6 702 446.8 701.8 444.7 701.6 445.5 701.4 447.6 701.2 442.7 701 446.6 700.8 447.8 700.6 442.8 700.4 442.6 700.2 441.2 700 443.8 699.8 444.3 699.6 448.5 699.4 444.8 699.2 445 699 447.8 698.8 445.9 698.6 446 698.4 449.5 698.2 449.4 698 446.6 697.8 452.7 697.6 452.5 697.4 451.4 697.2 452.2 697 455.3 696.8 453.4 696.6 455.8 696.4 453.4 696.2 456.6 696 455.3 695.8 456.4 695.6 458.2 695.4 457.6 695.2 459 695 457.3 694.8 462.2 694.6 458.7 694.4 460.5 694.2 462.5 694 459.7 693.8 458.9 693.6 463.4 693.4 460.9 693.2 460.3 693 458.3 692.8 462.4 692.6 461.1 692.4 461.2 692.2 461.7 692 455.3 691.8 456.5 691.6 457.3 691.4 455.4 691.2 454.5 691 453 690.8 450.9 690.6 450.5 690.4 450.9 690.2 451.8 690 447.6 689.8 446.6 689.6 446.9 689.4 444.9 689.2 445.1 689 443.2 688.8 440.1 688.6 441.7 688.4 438.5 688.2 439.3 688 440.8 687.8 441.3 687.6 435.4 687.4 434.9 687.2 432 687 434.4 686.8 434.4 686.6 433.1 686.4 431.7 686.2 431.3 686 436.9 685.8 434.1 685.6 435.8 685.4 437 685.2 433.8 685 438.4 684.8 437.6 684.6 437.9 684.4 439.7 684.2 437.4 684 437.6 683.8 437.4 683.6 442 683.4 442.2 683.2 443.1 683 442.9 682.8 443.8 682.6 445.9 682.4 444.6 682.2 445.2 682 444.6 681.8 445.3 681.6 447.2 681.4 449.5 681.2 449 681 449 680.8 447 680.6 451 680.4 450.8 680.2 452.4 680 453.7 679.8 452.7 679.6 449.1 679.4 452.2 679.2 450.4 679 450.7 678.8 451.5 678.6 449.7 678.4 449.5 678.2 452.7 678 447.9 677.8 449.6 677.6 449.9 677.4 448.7 677.2 447.9 677 449.1 676.8 446.9 676.6 451.5 676.4 450.1 676.2 447.2 676 446.3 675.8 448.4 675.6 450.1 675.4 447.3 675.2 444.6 675 448.2 674.8 447.1 674.6 442.4 674.4 445 674.2 444.2 674 445.4 673.8 445.5 673.6 443.4 673.4 447 673.2 446.5 673 447.7 672.8 449.9 672.6 450.7 672.4 448 672.2 449.9 672 447.2 671.8 447.7 671.6 452.4 671.4 447.5 671.2 450.7 671 452.2 670.8 453.9 670.6 453.2 670.4 457.9 670.2 454.8 670 459.5 669.8 458.3 669.6 458 669.4 459.2 669.2 459 669 460.5 668.8 460.6 668.6 460.6 668.4 461.5 668.2 461.3 668 465.5 667.8 463.8 667.6 464.1 667.4 465.3 667.2 465.4 667 463.7 666.8 468.2 666.6 466 666.4 466.1 666.2 466.2 666 465.2 665.8 462.2 665.6 467 665.4 461.3 665.2 463.7 665 462.2 664.8 463 664.6 463.7 664.4 461.9 664.2 461.6 664 461.2 663.8 460.5 663.6 460.9 663.4 461.2 663.2 458.7 663 456.8 662.8 460.7 662.6 460.2 662.4 452.4 662.2 455.3 662 456.7 661.8 454.2 661.6 455.6 661.4 456.8 661.2 452.2 661 452.6 660.8 451.6 660.6 452.3 660.4 452.2 660.2 453.6 660 452.5 659.8 451.4 659.6 453.4 659.4 452.8 659.2 451 659 452 658.8 448.8 658.6 452 658.4 452.2 658.2 453.2 658 449.3 657.8 450.9 657.6 450.5 657.4 454.1 657.2 451 657 452 656.8 452 656.6 450.5 656.4 449.8 656.2 453.6 656 450.6 655.8 453.7 655.6 450.2 655.4 451.2 655.2 448.8 655 448.3 654.8 448.5 654.6 449.6 654.4 449.4 654.2 449.1 654 449.4 653.8 449.7 653.6 450.3 653.4 452.2 653.2 451.3 653 447.7 652.8 448.8 652.6 446.5 652.4 446.8 652.2 449.2 652 447.1 651.8 450.1 651.6 449.3 651.4 448.7 651.2 450.7 651 450 650.8 450.3 650.6 448.8 650.4 452.5 650.2 451 650 448.5 649.8 447.7 649.6 448.7 649.4 448.9 649.2 449.7 649 448.6 648.8 446.2 648.6 450 648.4 447.3 648.2 447.2 648 446.8 647.8 446.8 647.6 447 647.4 448.4 647.2 448.1 647 444.5 646.8 447 646.6 446.8 646.4 447.3 646.2 447.7 646 448.3 645.8 447.8 645.6 448.2 645.4 445.2 645.2 446.2 645 445.2 644.8 444.9 644.6 447.4 644.4 445.2 644.2 444.2 644 446.1 643.8 442.1 643.6 442.8 643.4 440.2 643.2 443.8 643 442.9 642.8 441.5 642.6 442.6 642.4 440.4 642.2 439.5 642 442.5 641.8 439.3 641.6 439.7 641.4 438 641.2 438.5 641 439.1 640.8 439.6 640.6 438.2 640.4 440.3 640.2 436.7 640 436.1 639.8 436.7 639.6 435.3 639.4 433.6 639.2 432.5 639 433.6 638.8 433.9 638.6 433.6 638.4 433 638.2 432.8 638 433.7 637.8 431.1 637.6 430.5 637.4 431 637.2 434 637 433 636.8 431.2 636.6 429.5 636.4 428.8 636.2 428.7 636 429.5 635.8 428.5 635.6 425.5 635.4 427.1 635.2 426.7 635 425 634.8 421.6 634.6 427.2 634.4 426.5 634.2 427.1 634 425.2 633.8 428.3 633.6 426.6 633.4 424.1 633.2 421.4 633 423.3 632.8 418.9 632.6 421.4 632.4 422 632.2 418.9 632 420.3 631.8 415.7 631.6 415.5 631.4 418.9 631.2 418.1 631 418.1 630.8 417.1 630.6 415.7 630.4 416.1 630.2 416.2 630 415 629.8 415.5 629.6 420.1 629.4 413.2 629.2 412.6 629 415.1 628.8 413.9 628.6 413 628.4 415.8 628.2 411.9 628 412.8 627.8 413.6 627.6 412.6 627.4 409.9 627.2 412.9 627 409.5 626.8 411 626.6 411.3 626.4 415.4 626.2 413.1 626 413.5 625.8 412 625.6 414.9 625.4 416 625.2 410.7 625 414.6 624.8 413.1 624.6 414.6 624.4 419.2 624.2 414.7 624 417.1 623.8 417.6 623.6 414.6 623.4 418.8 623.2 418.1 623 417 622.8 415.3 622.6 418.5 622.4 416.9 622.2 422 622 417.5 621.8 417.5 621.6 418.7 621.4 415.2 621.2 415.6 621 417.3 620.8 414.9 620.6 412.3 620.4 412.1 620.2 412.5 620 414 619.8 410.4 619.6 409.6 619.4 409.3 619.2 404.1 619 405.9 618.8 403.7 618.6 403.9 618.4 405.1 618.2 399.4 618 402 617.8 403.8 617.6 398.3 617.4 401.8 617.2 399.2 617 399.6 616.8 394.3 616.6 396.2 616.4 396.7 616.2 389.9 616 392.3 615.8 390.6 615.6 390.4 615.4 388.8 615.2 387.5 615 387.4 614.8 389.1 614.6 386.6 614.4 384.1 614.2 384.8 614 388 613.8 385.5 613.6 387 613.4 386.1 613.2 387.3 613 387.4 612.8 385.7 612.6 388.8 612.4 387.8 612.2 388.1 612 387.3 611.8 387.2 611.6 390.1 611.4 385 611.2 388.2 611 389.3 610.8 390.7 610.6 387.9 610.4 392.6 610.2 389.5 610 389.1 609.8 389.1 609.6 392.3 609.4 386.3 609.2 387.7 609 387.2 608.8 388.2 608.6 390.9 608.4 392.3 608.2 392.5 608 390.7 607.8 390.7 607.6 392.2 607.4 387 607.2 389.8 607 387.5 606.8 391.9 606.6 388.3 606.4 384.2 606.2 385.4 606 385.4 605.8 387.2 605.6 390.2 605.4 384.8 605.2 385.9 605 387.8 604.8 386.8 604.6 385.9 604.4 385 604.2 387.5 604 385.6 603.8 388.3 603.6 386.2 603.4 388.6 603.2 384.9 603 388.6 602.8 389 602.6 385.9 602.4 384.5 602.2 384.4 602 386.4 601.8 384.9 601.6 385.6 601.4 384.8 601.2 386.6 601 388.6 600.8 384 600.6 383.9 600.4 386 600.2 381.2 600 382.9 599.8 387.2 599.6 385.3 599.4 385.2 599.2 384.5 599 384.7 598.8 384.9 598.6 386.5 598.4 388.3 598.2 386.3 598 388.1 597.8 387 597.6 384.7 597.4 386.8 597.2 387.5 597 388.5 596.8 387.6 596.6 388 596.4 389.9 596.2 390.4 596 392.5 595.8 392.1 595.6 394.6 595.4 389.7 595.2 391.2 595 389.9 594.8 392.7 594.6 388.9 594.4 394 594.2 388.1 594 391.5 593.8 391.2 593.6 387.9 593.4 391.8 593.2 388.1 593 391.2 592.8 390.4 592.6 391 592.4 391.8 592.2 390.4 592 390.1 591.8 394.3 591.6 386 591.4 386 591.2 387.4 591 387.1 590.8 383.1 590.6 385 590.4 382.9 590.2 381.1 590 382.8 589.8 383.5 589.6 382.2 589.4 380.6 589.2 379.7 589 376.2 588.8 378.1 588.6 377 588.4 374 588.2 374.7 588 377.2 587.8 376.1 587.6 377.4 587.4 376 587.2 371.4 587 373.2 586.8 370.6 586.6 374 586.4 375.4 586.2 373.8 586 374.8 585.8 374 585.6 374.4 585.4 372.8 585.2 374.3 585 374.1 584.8 373.9 584.6 372 584.4 372.2 584.2 371.4 584 374.3 583.8 372.9 583.6 373.7 583.4 372.8 583.2 371.7 583 372.6 582.8 369.7 582.6 373.3 582.4 372.5 582.2 371.6 582 371.6 581.8 373.6 581.6 372 581.4 370.3 581.2 372.2 581 371.6 580.8 373.7 580.6 372.4 580.4 369 580.2 372.9 580 368.5 579.8 373.2 579.6 371 579.4 366.8 579.2 371.5 579 368.9 578.8 369.1 578.6 366 578.4 366.5 578.2 367.6 578 368.8 577.8 369.1 577.6 375 577.4 368.4 577.2 366.9 577 368.5 576.8 366.4 576.6 369.8 576.4 369.5 576.2 366.9 576 365.4 575.8 367.4 575.6 368.1 575.4 366.8 575.2 365.7 575 365.8 574.8 368.4 574.6 369.6 574.4 370.3 574.2 368.5 574 365.8 573.8 369.7 573.6 366.9 573.4 368.9 573.2 366.5 573 364.8 572.8 363.8 572.6 363.8 572.4 365.6 572.2 365.1 572 363.1 571.8 361.9 571.6 360.6 571.4 364 571.2 358.2 571 356.8 570.8 362.6 570.6 359.8 570.4 357.2 570.2 361.1 570 352.6 569.8 357.8 569.6 353.7 569.4 353.8 569.2 356.8 569 353.8 568.8 351.6 568.6 350.9 568.4 351 568.2 351.8 568 348.9 567.8 350.3 567.6 349.8 567.4 347 567.2 349.6 567 350.8 566.8 347.2 566.6 346.8 566.4 344.7 566.2 346.2 566 349.4 565.8 350.2 565.6 351.2 565.4 344.3 565.2 347.2 565 345.7 564.8 346.5 564.6 345.4 564.4 344.9 564.2 345.9 564 343.8 563.8 345.8 563.6 347.6 563.4 345.9 563.2 345.9 563 342.4 562.8 347.4 562.6 346.1 562.4 344.5 562.2 345.1 562 343 561.8 347.1 561.6 346.2 561.4 347.5 561.2 342.6 561 345 560.8 346.1 560.6 342.6 560.4 345.1 560.2 344.2 560 345.4 559.8 346 559.6 343 559.4 347.7 559.2 345.1 559 343.2 558.8 343.4 558.6 343.1 558.4 345.8 558.2 342.6 558 341.8 557.8 342.9 557.6 344.1 557.4 344.4 557.2 344 557 344.7 556.8 342.7 556.6 343 556.4 345.7 556.2 341.7 556 343.6 555.8 342.2 555.6 343.5 555.4 343.6 555.2 345.6 555 345.4 554.8 346.2 554.6 345.8 554.4 348.5 554.2 347.2 554 345.9 553.8 349.4 553.6 351.3 553.4 349.7 553.2 349.7 553 351 552.8 350.5 552.6 350.2 552.4 353.1 552.2 353.2 552 353.2 551.8 358.4 551.6 354.3 551.4 356.6 551.2 355.3 551 357 550.8 358.3 550.6 356.8 550.4 356.7 550.2 354.3 550 356.2 549.8 358.9 549.6 358 549.4 353.3 549.2 356.3 549 352.2 548.8 355.7 548.6 355.2 548.4 353.9 548.2 357.1 548 353 547.8 352.8 547.6 349.1 547.4 350.7 547.2 352.2 547 348.3 546.8 351.4 546.6 349.2 546.4 348.5 546.2 349.1 546 347.2 545.8 347.4 545.6 345.3 545.4 345.5 545.2 343.1 545 344.8 544.8 340.2 544.6 343.5 544.4 337.9 544.2 340.3 544 338.1 543.8 339.9 543.6 336.2 543.4 336.6 543.2 336.4 543 336.8 542.8 336.4 542.6 334.7 542.4 336 542.2 332.7 542 336.7 541.8 335.8 541.6 335.8 541.4 336.4 541.2 334.2 541 337.6 540.8 336.3 540.6 340.5 540.4 337.5 540.2 340.9 540 339.6 539.8 339.1 539.6 340.1 539.4 338.4 539.2 339.5 539 342.5 538.8 341.3 538.6 345 538.4 345.2 538.2 347.5 538 344 537.8 346.9 537.6 349.3 537.4 349.2 537.2 349.6 537 349.6 536.8 353 536.6 352.3 536.4 351.5 536.2 349.2 536 349.4 535.8 352.3 535.6 353.5 535.4 353.3 535.2 354.2 535 352.3 534.8 349.6 534.6 351.2 534.4 348.3 534.2 352 534 352.9 533.8 351.2 533.6 347.8 533.4 347.1 533.2 346.3 533 347.4 532.8 345.7 532.6 350.1 532.4 347.9 532.2 347.8 532 347.5 531.8 348.9 531.6 348.8 531.4 349.6 531.2 348.6 531 347.1 530.8 350.4 530.6 346.3 530.4 353.1 530.2 349.2 530 348 529.8 346.8 529.6 348.5 529.4 347.8 529.2 350.7 529 351.9 528.8 347.1 528.6 350.5 528.4 347.6 528.2 351.8 528 348.3 527.8 349.8 527.6 349.6 527.4 350.8 527.2 351.9 527 352.2 526.8 354.1 526.6 354.2 526.4 354.6 526.2 356.4 526 358.7 525.8 359.1 525.6 358.7 525.4 357 525.2 358.2 525 358.9 524.8 360.2 524.6 361.9 524.4 362.2 524.2 366.1 524 367.1 523.8 367.5 523.6 365.7 523.4 367.7 523.2 368.3 523 372.7 522.8 372.9 522.6 370.5 522.4 374 522.2 373.3 522 369.8 521.8 372.5 521.6 376.6 521.4 374.5 521.2 375.5 521 374.3 520.8 373.8 520.6 376.4 520.4 373.7 520.2 374.3 520 375.5 519.8 376.8 519.6 373.4 519.4 373.8 519.2 371.7 519 367.3 518.8 372.1 518.6 369.8 518.4 370.8 518.2 372.9 518 370.6 517.8 371 517.6 370.2 517.4 371.6 517.2 368.7 517 370.7 516.8 366.5 516.6 368.3 516.4 369.7 516.2 368 516 368.1 515.8 368.1 515.6 369.3 515.4 367.2 515.2 368.3 515 371.7 514.8 366.8 514.6 368.9 514.4 369.9 514.2 368.2 514 367.5 513.8 368.7 513.6 369 513.4 371.6 513.2 368.6 513 370.3 512.8 368.9 512.6 373.8 512.4 369.7 512.2 368.2 512 370.8 511.8 372.2 511.6 370.2 511.4 371.1 511.2 370.5 511 374.5 510.8 374.2 510.6 373.6 510.4 375.1 510.2 376.7 510 377.1 509.8 372.6 509.6 374.6 509.4 375.6 509.2 374.6 509 373.7 508.8 377.1 508.6 379 508.4 374.9 508.2 375.3 508 378.2 507.8 374.7 507.6 376.4 507.4 378.1 507.2 377.6 507 377.6 506.8 376.7 506.6 379.7 506.4 376.4 506.2 376.9 506 379.9 505.8 378.8 505.6 378.1 505.4 375.3 505.2 378.6 505 379.5 504.8 377.9 504.6 379.3 504.4 379.1 504.2 380.1 504 378.1 503.8 379.2 503.6 383.4 503.4 381.7 503.2 380.3 503 382.6 502.8 381.1 502.6 382.1 502.4 380 502.2 383.6 502 382.2 501.8 383.5 501.6 387 501.4 385 501.2 383.2 501 383.7 500.8 385.2 500.6 385.7 500.4 384.8 500.2 383 500 385.4 499.8 386.5 499.6 383.7 499.4 383.9 499.2 386.8 499 386.1 498.8 386.8 498.6 385.8 498.4 383.7 498.2 381.5 498 382.9 497.8 382.6 497.6 383.7 497.4 383.4 497.2 379.7 497 381.5 496.8 383 496.6 385.2 496.4 380.1 496.2 380.6 496 379.4 495.8 377 495.6 381.6 495.4 380.4 495.2 378 495 381 494.8 378.4 494.6 376.8 494.4 375.3 494.2 378.5 494 379 493.8 373.5 493.6 373.3 493.4 374.5 493.2 375.6 493 376.5 492.8 375.2 492.6 374.3 492.4 374.3 492.2 370.5 492 370.6 491.8 371.6 491.6 374.4 491.4 375.9 491.2 375.7 491 376 490.8 376.9 490.6 377 490.4 375 490.2 375 490 373.3 489.8 379 489.6 373.4 489.4 378.7 489.2 375.9 489 379.4 488.8 379 488.6 378.4 488.4 379.9 488.2 376.6 488 377.8 487.8 380.3 487.6 380.5 487.4 376 487.2 373.3 487 377.7 486.8 374.2 486.6 377.8 486.4 376.6 486.2 377.5 486 379.8 485.8 372.9 485.6 377.1 485.4 378.9 485.2 374.3 485 377 484.8 375.1 484.6 375.2 484.4 374.1 484.2 376 484 375.6 483.8 375.3 483.6 370.4 483.4 374.2 483.2 373.3 483 370.5 482.8 374.3 482.6 374.4 482.4 368.7 482.2 373.2 482 377.4 481.8 375.9 481.6 373.2 481.4 374.3 481.2 372.6 481 377.8 480.8 375.3 480.6 375.9 480.4 377.5 480.2 377.9 480 379.2 479.8 378.5 479.6 380.7 479.4 379.8 479.2 382.6 479 382.3 478.8 379.8 478.6 378.4 478.4 377.7 478.2 379.3 478 381.1 477.8 381.2 477.6 380.7 477.4 381.4 477.2 381.3 477 381 476.8 382.9 476.6 382.4 476.4 379.7 476.2 383.2 476 377.4 475.8 379.1 475.6 377.7 475.4 379.2 475.2 377.7 475 379.7 474.8 377.4 474.6 382.4 474.4 374.5 474.2 379 474 374.9 473.8 369.8 473.6 371.9 473.4 374.6 473.2 368.5 473 367 472.8 365 472.6 365.8 472.4 363.7 472.2 361.6 472 361.1 471.8 362.5 471.6 356.8 471.4 356.3 471.2 352.4 471 354.8 470.8 352.6 470.6 354.4 470.4 353.8 470.2 353.7 470 355.4 469.8 351.1 469.6 352.6 469.4 355.3 469.2 357.3 469 355.9 468.8 357 468.6 356.7 468.4 356.6 468.2 359.1 468 358.3 467.8 357.2 467.6 357 467.4 360.7 467.2 361.7 467 359.7 466.8 361.3 466.6 358.4 466.4 362.3 466.2 363.6 466 363.4 465.8 366.4 465.6 366.9 465.4 369 465.2 364.1 465 366.2 464.8 368.8 464.6 363.2 464.4 362.1 464.2 368.5 464 365.5 463.8 368.7 463.6 366.9 463.4 368.6 463.2 367.3 463 370.5 462.8 368 462.6 366.3 462.4 363.6 462.2 370.9 462 368.8 461.8 365.5 461.6 368.9 461.4 364.2 461.2 365.5 461 364.3 460.8 365.2 460.6 363.3 460.4 362.7 460.2 363.1 460 361.5 459.8 364.7 459.6 361.3 459.4 363 459.2 360.7 459 364 458.8 363.5 458.6 365.6 458.4 363.9 458.2 363.2 458 360 457.8 360.5 457.6 356.8 457.4 360.2 457.2 360.1 457 360.3 456.8 359.9 456.6 357 456.4 355.8 456.2 354.8 456 358.9 455.8 358.4 455.6 356.4 455.4 361.8 455.2 357.9 455 359.1 454.8 359.9 454.6 356.8 454.4 361.5 454.2 359.6 454 360.4 453.8 361.1 453.6 358.6 453.4 362.2 453.2 364 453 365.6 452.8 362.8 452.6 362.7 452.4 364.7 452.2 362.3 452 366.8 451.8 364.5 451.6 366.1 451.4 369.3 451.2 370.3 451 368.5 450.8 367 450.6 372 450.4 369.2 450.2 372.2 450 369.8 449.8 369.7 449.6 369.2 449.4 371.8 449.2 370.3 449 372.9 448.8 370.5 448.6 369 448.4 370.7 448.2 369.1 448 370.7 447.8 369.5 447.6 370.4 447.4 369.7 447.2 369.6 447 367.7 446.8 371.4 446.6 373.8 446.4 371.8 446.2 367.5 446 370.6 445.8 369.5 445.6 370.5 445.4 366.3 445.2 368.6 445 368.5 444.8 366.8 444.6 366.8 444.4 368.3 444.2 367.6 444 364.5 443.8 365.4 443.6 362.6 443.4 363.3 443.2 361.5 443 363.7 442.8 362.3 442.6 359.9 442.4 365.1 442.2 362.1 442 360.9 441.8 363.1 441.6 360.7 441.4 360.1 441.2 360.5 441 357.4 440.8 360.5 440.6 360.9 440.4 357.5 440.2 356.2 440 361.2 439.8 356.7 439.6 356.3 439.4 356.9 439.2 358.8 439 354.2 438.8 358.6 438.6 360.1 438.4 357.5 438.2 360 438 356.7 437.8 354.8 437.6 354.1 437.4 354.9 437.2 357.2 437 354.6 436.8 355.2 436.6 356 436.4 355.2 436.2 356.1 436 354.7 435.8 353.7 435.6 356.7 435.4 358.2 435.2 356.5 435 356 434.8 355 434.6 355.2 434.4 357.3 434.2 355.9 434 353.8 433.8 352.2 433.6 358 433.4 356.2 433.2 353.1 433 355.2 432.8 352.3 432.6 353.1 432.4 354.5 432.2 355.9 432 354.2 431.8 354.8 431.6 353.1 431.4 356.4 431.2 352.2 431 353.7 430.8 352.8 430.6 353.3 430.4 351.7 430.2 350.1 430 352.3 429.8 350.8 429.6 351.7 429.4 351.4 429.2 353 429 352.7 428.8 352.4 428.6 351.3 428.4 352.2 428.2 349.1 428 350.6 427.8 348.8 427.6 347.9 427.4 347.9 427.2 345.6 427 346.9 426.8 345.8 426.6 345.2 426.4 346.4 426.2 347.7 426 343.3 425.8 342.4 425.6 345.1 425.4 346.7 425.2 342.2 425 345.4 424.8 340.8 424.6 343 424.4 342.8 424.2 343.9 424 337.8 423.8 340.4 423.6 338.1 423.4 337.6 423.2 335.6 423 334.7 422.8 335.4 422.6 334.2 422.4 332.4 422.2 334.5 422 336 421.8 334.2 421.6 330.1 421.4 332.5 421.2 330 421 326.8 420.8 327.4 420.6 326.4 420.4 327.8 420.2 330.5 420 325.6 419.8 326.3 419.6 326.4 419.4 325 419.2 325.8 419 325.2 418.8 322.6 418.6 318.4 418.4 317.4 418.2 321.1 418 319.4 417.8 314 417.6 314.1 417.4 314.1 417.2 317.5 417 315 416.8 313.4 416.6 312.9 416.4 312.2 416.2 311.5 416 310.9 415.8 315.5 415.6 313.2 415.4 310.4 415.2 310.8 415 307.6 414.8 310.1 414.6 310.2 414.4 308.7 414.2 308.3 414 310.7 413.8 306.4 413.6 305.9 413.4 301.6 413.2 304.1 413 305.2 412.8 301.5 412.6 301.6 412.4 301.6 412.2 297.8 412 298.2 411.8 300.5 411.6 298.4 411.4 296.9 411.2 299.6 411 298.6 410.8 295.3 410.6 296.3 410.4 294.1 410.2 297.6 410 295.4 409.8 295.6 409.6 294.4 409.4 294.8 409.2 296.8 409 297.2 408.8 292.3 408.6 293.9 408.4 295.7 408.2 295.7 408 293.5 407.8 293.3 407.6 294.5 407.4 291.8 407.2 296.1 407 290.3 406.8 296 406.6 290.7 406.4 291.7 406.2 290.5 406 291.9 405.8 291.9 405.6 288.6 405.4 288.5 405.2 291.3 405 289.8 404.8 290.2 404.6 289.4 404.4 290.6 404.2 290.6 404 291.7 403.8 291.3 403.6 290.7 403.4 292.6 403.2 288 403 288.6 402.8 284.6 402.6 282.9 402.4 285.2 402.2 283.9 402 282.8 401.8 279.7 401.6 274.5 401.4 280 401.2 274.2 401 273.2 400.8 272.8 400.6 269.1 400.4 270.1 400.2 269.6 400 269.4 399.8 269.8 399.6 268.3 399.4 266.5 399.2 265 399 265.4 398.8 259.5 398.6 260.9 398.4 258.9 398.2 257.9 398 255.6 397.8 255.6 397.6 252.5 397.4 252.8 397.2 251.3 397 250.8 396.8 249.2 396.6 248.8 396.4 251.3 396.2 253 396 250.8 395.8 250.3 395.6 251.5 395.4 251.2 395.2 251.7 395 252.1 394.8 248.2 394.6 251.1 394.4 247.5 394.2 251.8 394 246 393.8 245.9 393.6 251.1 393.4 249.1 393.2 246.4 393 247.8 392.8 247.5 392.6 248.5 392.4 251.1 392.2 250.2 392 248.3 391.8 246.6 391.6 248.1 391.4 246.5 391.2 249.7 391 247.4 390.8 246.8 390.6 248.4 390.4 245.4 390.2 246 390 243.3 389.8 242.5 389.6 245.6 389.4 243.8 389.2 240.8 389 242.8 388.8 238.6 388.6 243.7 388.4 244.3 388.2 241.2 388 241.1 387.8 239.4 387.6 237.4 387.4 237.5 387.2 238.5 387 235.4 386.8 237.8 386.6 234.4 386.4 236.6 386.2 231.8 386 235.5 385.8 231 385.6 231.4 385.4 227.1 385.2 228.1 385 226.3 384.8 224.7 384.6 226.3 384.4 226.5 384.2 222.2 384 221.4 383.8 224 383.6 220.1 383.4 222.7 383.2 225.3 383 224.3 382.8 223.7 382.6 223.6 382.4 221.6 382.2 221.7 382 222.7 381.8 223.9 381.6 223.6 381.4 223.6 381.2 225.9 381 225.8 380.8 229.7 380.6 227.4 380.4 229.9 380.2 228.3 380 229.6 379.8 229.1 379.6 230 379.4 229.9 379.2 229.4 379 229 378.8 228.7 378.6 228.8 378.4 230 378.2 229.1 378 227.8 377.8 226.4 377.6 226.5 377.4 230.1 377.2 229.6 377 226.2 376.8 229.2 376.6 227.3 376.4 229.3 376.2 228 376 224.9 375.8 226.9 375.6 227.8 375.4 228.3 375.2 228.2 375 223.6 374.8 225.8 374.6 227.6 374.4 222.5 374.2 224.2 374 223.8 373.8 221 373.6 220.5 373.4 222.2 373.2 215.2 373 218.1 372.8 214.3 372.6 218.1 372.4 217.7 372.2 216.3 372 212.9 371.8 214.3 371.6 218 371.4 212.7 371.2 210.2 371 214.4 370.8 209.3 370.6 209.9 370.4 207.7 370.2 209.9 370 205.6 369.8 206.3 369.6 203.1 369.4 205.8 369.2 205.8 369 206.9 368.8 205 368.6 201.9 368.4 203.9 368.2 201.9 368 204.1 367.8 201.3 367.6 201.4 367.4 199.2 367.2 192.6 367 196.1 366.8 199.3 366.6 193.7 366.4 196 366.2 198.5 366 193.8 365.8 193.2 365.6 194.9 365.4 192.3 365.2 194.3 365 192.4 364.8 192.8 364.6 192.6 364.4 189.4 364.2 192.6 364 190.4 363.8 189.2 363.6 191.1 363.4 189.9 363.2 191.2 363 186.9 362.8 187.9 362.6 186.9 362.4 185 362.2 186.8 362 187.9 361.8 185.9 361.6 186.2 361.4 184.4 361.2 185.7 361 184.1 360.8 184.6 360.6 184.6 360.4 181.6 360.2 184.5 360 181.8 359.8 183.1 359.6 179.6 359.4 183.6 359.2 178.9 359 179.5 358.8 180.8 358.6 180.5 358.4 179.3 358.2 180.7 358 179.5 357.8 178.5 357.6 175.5 357.4 178 357.2 177.2 357 179.3 356.8 176.4 356.6 175.2 356.4 180.2 356.2 172.9 356 176.1 355.8 175.6 355.6 177.1 355.4 172.6 355.2 175.5 355 173.5 354.8 173.5 354.6 173.4 354.4 173 354.2 171.7 354 172.1 353.8 171.5 353.6 168.4 353.4 170.7 353.2 172.4 353 168.3 352.8 167.4 352.6 167.9 352.4 169.2 352.2 164.2 352 164.2 351.8 164.5 351.6 162 351.4 163.2 351.2 163.7 351 161.2 350.8 161.3 350.6 165.2 350.4 164.8 350.2 162.9 350 162.8 349.8 165.9 349.6 163.7 349.4 162.8 349.2 166.7 349 166.1 348.8 166.5 348.6 167.1 348.4 166.8 348.2 168.9 348 165.9 347.8 165.5 347.6 167.8 347.4 165.5 347.2 168.4 347 170.1 346.8 167.5 346.6 173.9 346.4 173 346.2 170.9 346 170.2 345.8 173.3 345.6 175.4 345.4 171.7 345.2 173 345 174.2 344.8 170.6 344.6 169.2 344.4 176.5 344.2 174 344 175 343.8 177.1 343.6 173.4 343.4 177 343.2 177.7 343 173.9 342.8 176.5 342.6 177.6 342.4 176.4 342.2 177.2 342 177.1 341.8 175.7 341.6 175.5 341.4 176.9 341.2 176.7 341 179.3 340.8 179.4 340.6 176.7 340.4 182.3 340.2 180.6 340 178.4 339.8 180.6 339.6 181 339.4 183.8 339.2 183 339 181.9 338.8 185.4 338.6 185.4 338.4 185.2 338.2 185.7 338 183.2 337.8 184.3 337.6 188 337.4 187.5 337.2 185.3 337 188.8 336.8 188.6 336.6 189.5 336.4 191.2 336.2 191.3 336 192.7 335.8 189.5 335.6 193.2 335.4 193.1 335.2 196.4 335 195.5 334.8 195 334.6 195.7 334.4 193 334.2 195.5 334 197.2 333.8 199.1 333.6 200.3 333.4 197.9 333.2 197.5 333 199.1 332.8 198.7 332.6 200.8 332.4 200.5 332.2 197.6 332 198.8 331.8 201.2 331.6 200.1 331.4 199.8 331.2 201.4 331 201.5 330.8 201.2 330.6 202.2 330.4 200.8 330.2 204.4 330 204.1 329.8 204.5 329.6 203.9 329.4 203.7 329.2 205.2 329 204.1 328.8 204.7 328.6 207.3 328.4 204.1 328.2 203.6 328 205 327.8 207.3 327.6 209.7 327.4 205.4 327.2 208.7 327 208.9 326.8 210.6 326.6 208.6 326.4 214.1 326.2 212.5 326 214.2 325.8 210.7 325.6 211.5 325.4 214.9 325.2 212.1 325 216.8 324.8 215.6 324.6 217.2 324.4 220.6 324.2 218.8 324 219.3 323.8 217.6 323.6 219.7 323.4 219.5 323.2 222.7 323 222 322.8 221 322.6 223.4 322.4 224.1 322.2 222.6 322 226.2 321.8 228.2 321.6 228.3 321.4 227.1 321.2 231.1 321 228.4 320.8 234.5 320.6 230.7 320.4 232.2 320.2 235.7 320 234.9 319.8 237.6 319.6 240.6 319.4 239 319.2 242.7 319 244.7 318.8 243 318.6 243.1 318.4 244.3 318.2 247 318 249.4 317.8 248.8 317.6 253.1 317.4 250.7 317.2 249.4 317 252.9 316.8 254.1 316.6 251 316.4 254.2 316.2 253.7 316 253.9 315.8 255.4 315.6 253.5 315.4 257.5 315.2 257 315 257.5 314.8 256.6 314.6 256.3 314.4 256.2 314.2 260.7 314 258.1 313.8 258.4 313.6 259.7 313.4 260 313.2 260.6 313 260.1 312.8 264.2 312.6 263.2 312.4 265.2 312.2 263.3 312 264.5 311.8 269.4 311.6 264.2 311.4 266.8 311.2 267.9 311 267.6 310.8 269 310.6 272 310.4 269.9 310.2 274.5 310 275.3 309.8 272.5 309.6 279.2 309.4 280 309.2 277.6 309 278.8 308.8 286.4 308.6 281.1 308.4 283.8 308.2 281.5 308 285.5 307.8 285 307.6 288.7 307.4 285.8 307.2 287.7 307 290.4 306.8 291.8 306.6 293 306.4 294.2 306.2 295.6 306 295.6 305.8 294.9 305.6 298 305.4 299.7 305.2 298.5 305 299.4 304.8 301.5 304.6 302.7 304.4 301.4 304.2 304.9 304 302.6 303.8 304.8 303.6 307.7 303.4 308.2 303.2 306.2 303 311.3 302.8 308.8 302.6 311.9 302.4 312 302.2 312.5 302 313.5 301.8 314.3 301.6 313.4 301.4 315.4 301.2 314.6 301 317.4 300.8 320.4 300.6 321.4 300.4 320.6 300.2 324.7 300 324.5 299.8 322.9 299.6 323.4 299.4 323 299.2 326.1 299 327 298.8 329.4 298.6 329.1 298.4 331.8 298.2 332.8 298 333.3 297.8 329.1 297.6 332.6 297.4 332.5 297.2 336.6 297 337.6 296.8 338.6 296.6 339 296.4 339.3 296.2 339.7 296 341.7 295.8 341 295.6 341.3 295.4 343.2 295.2 346.8 295 344.3 294.8 345.5 294.6 346.6 294.4 348.4 294.2 349.6 294 349 293.8 350.3 293.6 350.4 293.4 351.7 293.2 353.7 293 353.4 292.8 354.7 292.6 355.6 292.4 358.9 292.2 356.7 292 361.1 291.8 358.7 291.6 360.2 291.4 363.4 291.2 363.4 291 363.2 290.8 362 290.6 362.5 290.4 365.7 290.2 369.3 290 367.2 289.8 368.8 289.6 373.5 289.4 367.7 289.2 374.6 289 376 288.8 375.7 288.6 376.6 288.4 377.6 288.2 376.6 288 380.9 287.8 385 287.6 385.5 287.4 382.7 287.2 385.9 287 384.8 286.8 390.1 286.6 390.7 286.4 395.4 286.2 395 286 396.3 285.8 397.2 285.6 398.4 285.4 400 285.2 401.7 285 400.3 284.8 398.2 284.6 406.7 284.4 407.4 284.2 404.2 284 407.8 283.8 405.9 283.6 406.9 283.4 409.1 283.2 408.8 283 410.6 282.8 411.7 282.6 414.2 282.4 409.7 282.2 416.3 282 412.9 281.8 413.9 281.6 415.5 281.4 416.9 281.2 417.2 281 415.6 280.8 416 280.6 416.4 280.4 417.9 280.2 419.3 280 420.7 279.8 419.3 279.6 421.9 279.4 423.3 279.2 419.9 279 423.1 278.8 423.5 278.6 425.8 278.4 427.3 278.2 424.7 278 424.3 277.8 425.6 277.6 426.4 277.4 426.1 277.2 426.4 277 431.6 276.8 430 276.6 429.6 276.4 435.3 276.2 430.2 276 431.5 275.8 432.2 275.6 434.8 275.4 436.1 275.2 436.9 275 435.7 274.8 436.5 274.6 434.7 274.4 435.9 274.2 434.9 274 435.2 273.8 435.8 273.6 436.8 273.4 434 273.2 435 273 437.9 272.8 436.6 272.6 437.4 272.4 439.9 272.2 437.7 272 442.3 271.8 441.3 271.6 440.7 271.4 441.2 271.2 444.2 271 443 270.8 442 270.6 442.6 270.4 438.7 270.2 440.2 270 440.5 269.8 444.7 269.6 443.9 269.4 446.5 269.2 444 269 446.6 268.8 446.4 268.6 445.6 268.4 450.3 268.2 446.8 268 445.4 267.8 447.2 267.6 450.2 267.4 448.6 267.2 451.1 267 449 266.8 449.9 266.6 453.2 266.4 452.9 266.2 451.4 266 455.2 265.8 457.6 265.6 456.4 265.4 454.6 265.2 458.9 265 457.8 264.8 461.4 264.6 457.8 264.4 462.6 264.2 460.9 264 462.2 263.8 461.8 263.6 464.9 263.4 467.4 263.2 469.6 263 471.7 262.8 467.5 262.6 472.2 262.4 474.5 262.2 476.9 262 476 261.8 475.8 261.6 479.2 261.4 479.1 261.2 477.5 261 478.5 260.8 481.9 260.6 481.5 260.4 481.9 260.2 481.5 260 480.5 259.8 482.2 259.6 484.8 259.4 486.8 259.2 485.1 259 485.9 258.8 485.6 258.6 483.5 258.4 482.4 258.2 482.7 258 481.7 257.8 481.4 257.6 481.1 257.4 482.1 257.2 484.8 257 479.2 256.8 479.6 256.6 478 256.4 478.7 256.2 477.4 256 477.7 255.8 472.3 255.6 477.5 255.4 478.8 255.2 478.7 255 476 254.8 473.9 254.6 474.2 254.4 476.3 254.2 475.9 254 473.4 253.8 474.6 253.6 473.1 253.4 474.6 253.2 475.5 253 476.9 252.8 475 252.6 479.7 252.4 482.4 252.2 481.5 252 479.8 251.8 481.1 251.6 485.2 251.4 480.4 251.2 480.6 251 481.9 250.8 485.6 250.6 486 250.4 484.2 250.2 485.3 250 488.2 249.8 488.8 249.6 488 249.4 488.6 249.2 491.6 249 493.1 248.8 492.7 248.6 488.7 248.4 496.3 248.2 492.6 248 494.7 247.8 494.2 247.6 496.3 247.4 494.2 247.2 492.3 247 494.1 246.8 495.4 246.6 494.6 246.4 499.5 246.2 494.6 246 492 245.8 492 245.6 492.9 245.4 488.7 245.2 491.8 245 489.8 244.8 488.3 244.6 490.7 244.4 485.3 244.2 490.8 244 488.3 243.8 484.3 243.6 489.6 243.4 489.5 243.2 487.2 243 492.4 242.8 484.3 242.6 486.7 242.4 484.6 242.2 483.6 242 481.4 241.8 482.4 241.6 481.1 241.4 482.7 241.2 481.8 241 482.1 240.8 480.6 240.6 481.6 240.4 478.5 240.2 479.9 240 479.5 239.8 479.2 239.6 479 239.4 482 239.2 482.4 239 482.8 238.8 480.8 238.6 479.8 238.4 482.8 238.2 480.3 238 484.9 237.8 480.8 237.6 484.3 237.4 481.2 237.2 482 237 481.8 236.8 483.4 236.6 485.9 236.4 483.7 236.2 483.7 236 487.4 235.8 485.7 235.6 483.4 235.4 489.3 235.2 489.7 235 487.3 234.8 488.6 234.6 490.6 234.4 485.5 234.2 487.1 234 491.5 233.8 490.7 233.6 489.7 233.4 490.9 233.2 490.9 233 494.9 232.8 491.5 232.6 490.7 232.4 489.5 232.2 492.7 232 492.9 231.8 493.1 231.6 490.7 231.4 492.9 231.2 493.4 231 488.6 230.8 489.2 230.6 489.7 230.4 489.8 230.2 488 230 488.1 229.8 487.8 229.6 486.4 229.4 484.9 229.2 487.3 229 487.1 228.8 487.1 228.6 486.4 228.4 485.2 228.2 484.1 228 483.2 227.8 484.7 227.6 480.2 227.4 480.9 227.2 482.7 227 481 226.8 479.6 226.6 478.9 226.4 476.4 226.2 477.5 226 475.4 225.8 477.3 225.6 474.6 225.4 476 225.2 472.6 225 473.4 224.8 475.8 224.6 477.7 224.4 475.4 224.2 475.4 224 477.1 223.8 472.2 223.6 475.1 223.4 480.4 223.2 478.2 223 475.9 222.8 476.3 222.6 477.9 222.4 479.8 222.2 477.8 222 477.4 221.8 477.1 221.6 479.7 221.4 479.6 221.2 475.8 221 473.8 220.8 475.3 220.6 475.9 220.4 475 220.2 476.8 220 477.3 219.8 477.1 219.6 479.5 219.4 476.3 219.2 476.7 219 479.7 218.8 481.1 218.6 477.3 218.4 481.2 218.2 477.4 218 477.7 217.8 475.2 217.6 476.7 217.4 477.4 217.2 472.5 217 477.5 216.8 473.7 216.6 476.8 216.4 478.4 216.2 476.1 216 476.3 215.8 478.2 215.6 474.7 215.4 476.9 215.2 473.8 215 475 214.8 473 214.6 474.8 214.4 473.6 214.2 474.6 214 473.6 213.8 473.7 213.6 472.9 213.4 470.6 213.2 473.7 213 470.4 212.8 476.5 212.6 472.3 212.4 471.4 212.2 474.9 212 471.2 211.8 473.2 211.6 473.2 211.4 473.3 211.2 475.2 211 476.6 210.8 472 210.6 470.6 210.4 473 210.2 472.1 210 472.2 209.8 470.4 209.6 469.9 209.4 469.1 209.2 467.9 209 465 208.8 463.5 208.6 466.9 208.4 464.8 208.2 466.8 208 463.7 207.8 468.7 207.6 465.2 207.4 461.6 207.2 466.9 207 465 206.8 462.8 206.6 465 206.4 465 206.2 461.3 206 462.3 205.8 459.8 205.6 460.6 205.4 460.4 205.2 458 205 457.6 204.8 457.8 204.6 457.1 204.4 453.8 204.2 455.7 204 456.5 203.8 455.3 203.6 453.5 203.4 451 203.2 451.7 203 454.9 202.8 455.6 202.6 450.2 202.4 449.8 202.2 451.9 202 451.6 201.8 450.5 201.6 450.4 201.4 453.5 201.2 454.7 201 450.3 200.8 450.1 200.6 449.3 200.4 449.6 200.2 450.8 200 450.3 199.8 449.7 199.6 450.7 199.4 445.3 199.2 448.8 199 449.3 198.8 444.7 198.6 448.1 198.4 447.6 198.2 446.4 198 448 197.8 446.9 197.6 448 197.4 445.4 197.2 448.5 197 446.6 196.8 442.2 196.6 443.3 196.4 444.6 196.2 444.9 196 445.1 195.8 444.5 195.6 445.8 195.4 443.9 195.2 446.8 195 447.2 194.8 445.1 194.6 444.6 194.4 444.7 194.2 444 194 443.9 193.8 442.1 193.6 442.4 193.4 441.5 193.2 441.5 193 442.6 192.8 443.4 192.6 442.5 192.4 442.5 192.2 443.9 192 445.9 191.8 445.3 191.6 447.2 191.4 446.7 191.2 448.8 191 448.5 190.8 447.1 190.6 451.5 190.4 451.6 190.2 447.8 190 450.7 189.8 451.6 189.6 449.4 189.4 451.5 189.2 449.7 189 452.1 188.8 450.4 188.6 453.5 188.4 454.9 188.2 455.7 188 456.5 187.8 456.6 187.6 453.7 187.4 453.3 187.2 455.9 187 459 186.8 456.1 186.6 456.1 186.4 455 186.2 455.8 186 454.9 185.8 450.9 185.6 452.4 185.4 451.1 185.2 452.3 185 450.7 184.8 450.5 184.6 451.3 184.4 451.8 184.2 447.7 184 447.4 183.8 446.4 183.6 447.8 183.4 446.3 183.2 445 183 442.8 182.8 446.3 182.6 444.9 182.4 446.1 182.2 445.3 182 441.3 181.8 440.7 181.6 437.4 181.4 435.3 181.2 439.4 181 434.2 180.8 434.7 180.6 433.7 180.4 437.6 180.2 434.9 180 437.7 179.8 435 179.6 436.2 179.4 437.5 179.2 437.2 179 438.3 178.8 434.2 178.6 436.2 178.4 437.8 178.2 439.2 178 434 177.8 439.4 177.6 437.5 177.4 433.2 177.2 438.4 177 437.4 176.8 439.7 176.6 435.9 176.4 439.5 176.2 439.4 176 440.3 175.8 441.2 175.6 444.1 175.4 444.4 175.2 441.5 175 440.9 174.8 443.8 174.6 444.9 174.4 444.6 174.2 444.8 174 443.7 173.8 444.7 173.6 444.5 173.4 448.2 173.2 450 173 446.7 172.8 448.9 172.6 445.7 172.4 448.6 172.2 449.1 172 445.7 171.8 447.6 171.6 450.1 171.4 447.8 171.2 449.9 171 448.9 170.8 452.9 170.6 451.8 170.4 450.2 170.2 454.2 170 449.6 169.8 450.8 169.6 450.4 169.4 449.4 169.2 450.2 169 451.1 168.8 446.9 168.6 449.4 168.4 448.7 168.2 450.3 168 448.8 167.8 449.7 167.6 452.3 167.4 450.3 167.2 452 167 452.3 166.8 452.4 166.6 453.1 166.4 455.4 166.2 457 166 455.3 165.8 454.7 165.6 453.3 165.4 455 165.2 455.2 165 454.6 164.8 452.1 164.6 454 164.4 454.2 164.2 456.2 164 452.7 163.8 459.6 163.6 459.6 163.4 460.5 163.2 461.9 163 461.3 162.8 462.5 162.6 464.2 162.4 462.9 162.2 466.3 162 466.2 161.8 469.1 161.6 470.3 161.4 470.8 161.2 472.4 161 471.8 160.8 471.6 160.6 474.3 160.4 472 160.2 478.4 160 475.4 159.8 475.7 159.6 475.7 159.4 479.3 159.2 478.9 159 479.9 158.8 477.5 158.6 481 158.4 478.7 158.2 480.2 158 478.7 157.8 483.6 157.6 477.2 157.4 480.5 157.2 481.1 157 482.3 156.8 480.6 156.6 480.7 156.4 481.2 156.2 481.7 156 480.2 155.8 483.3 155.6 481.7 155.4 478.5 155.2 479.1 155 482.1 154.8 482.5 154.6 478.8 154.4 481.9 154.2 486.1 154 483.4 153.8 484.4 153.6 482.4 153.4 480.6 153.2 481.9 153 482.1 152.8 483 152.6 484.1 152.4 483.7 152.2 483.6 152 483.3 151.8 480 151.6 482.4 151.4 484.2 151.2 482.5 151 483.4 150.8 485.2 150.6 482.4 150.4 482.4 150.2 488.7 150 487.8 149.8 486.6 149.6 484.9 149.4 488.7 149.2 489 149 487.9 148.8 488.5 148.6 485.9 148.4 485.4 148.2 486.1 148 486.2 147.8 487.2 147.6 490.4 147.4 487.7 147.2 490.3 147 491 146.8 493.3 146.6 492.6 146.4 491.2 146.2 493.1 146 494.2 145.8 494.1 145.6 494 145.4 495 145.2 490.8 145 495.1 144.8 491.3 144.6 497.7 144.4 497 144.2 497.2 144 496 143.8 498.1 143.6 499.2 143.4 499.2 143.2 499.2 143 498 142.8 499.2 142.6 498.3 142.4 500.7 142.2 499.6 142 498 141.8 503 141.6 502.2 141.4 502.6 141.2 503.4 141 504.2 140.8 505.7 140.6 506 140.4 509.1 140.2 508.2 140 506.9 139.8 509.2 139.6 508.1 139.4 509.1 139.2 511 139 510.8 138.8 506.6 138.6 510.8 138.4 509.8 138.2 511 138 513.2 137.8 512.6 137.6 513.9 137.4 512.7 137.2 512.7 137 510.6 136.8 510.7 136.6 512.7 136.4 510.9 136.2 511.1 136 512.2 135.8 512.6 135.6 509.8 135.4 510.5 135.2 509.6 135 507.7 134.8 512.3 134.6 511.5 134.4 509.6 134.2 509 134 508.6 133.8 507.5 133.6 507.1 133.4 508.4 133.2 508.4 133 508.7 132.8 508.3 132.6 508.2 132.4 506.3 132.2 509.6 132 507.5 131.8 511.5 131.6 509.1 131.4 509 131.2 506.5 131 509.3 130.8 507.9 130.6 506.7 130.4 508.9 130.2 511.9 130 509.8 129.8 511.3 129.6 512.5 129.4 510.9 129.2 512.6 129 511.5 128.8 515.4 128.6 512.4 128.4 511.2 128.2 515.6 128 510.8 127.8 513.8 127.6 515.5 127.4 517.3 127.2 518.6 127 517.4 126.8 518.6 126.6 516.3 126.4 519.9 126.2 518 126 517.6 125.8 517.3 125.6 522.4 125.4 515.4 125.2 515.5 125 518.6 124.8 518.2 124.6 518.3 124.4 516.8 124.2 516.5 124 520.6 123.8 515.4 123.6 515 123.4 515.1 123.2 516.3 123 516.1 122.8 514 122.6 516.7 122.4 513.6 122.2 515.1 122 516.2 121.8 515.9 121.6 513.1 121.4 512.9 121.2 511.9 121 511.7 120.8 512.4 120.6 513.5 120.4 512 120.2 512.8 120 511.7Z" fill="#0072B2" fill-opacity="0.2" stroke="#0072B2" stroke-opacity="0.22" stroke-width="1.4" stroke-linejoin="bevel"/>
<path d="M122.4 460.7h0M122.6 463.6h0M122.3 464.1h0M122.6 466.2h0M123.1 468.6h0M122.7 474.8h0M123.5 473.1h0M123.3 475.1h0M123.2 475.6h0M124.1 479.9h0M125 482.6h0M125.6 480.9h0M125.2 481.4h0M125.6 485.8h0M125.2 483.4h0M125.1 484.3h0M125.8 486.7h0M126.5 485.6h0M126.2 483.4h0M127.6 479.5h0M127.8 477.2h0M127.4 479.4h0M128.5 475h0M128.2 472.6h0M128.8 472.3h0M128.6 474.5h0M129.2 475.4h0M128.9 475.2h0M129.2 475.3h0M130 475.8h0M130.9 475.6h0M130.3 474.6h0M130.6 473h0M130.2 470.1h0M130.7 475h0M131.7 468.9h0M131 469h0M131.6 472h0M131.5 469.7h0M132.3 466.8h0M133.2 471.3h0M133.2 474.2h0M133.1 471.6h0M132.9 473.9h0M132.8 470.1h0M134.2 475.9h0M135.1 472.5h0M134.5 473.5h0M134.8 476.4h0M134.8 475.6h0M135.1 475.8h0M136.3 475.5h0M136.3 475.3h0M135.5 478.8h0M135.8 477.9h0M137.6 479.9h0M136.8 480.9h0M137.4 478h0M137.1 479h0M137.9 475.2h0M138 477.5h0M138.3 478.7h0M138.2 478.9h0M139.9 478.1h0M140.4 477.2h0M139.9 479.6h0M140.3 475.1h0M140.4 478.1h0M140.4 476.3h0M140.5 473.8h0M141 479.5h0M141.7 478.6h0M141 478.8h0M141.3 474.7h0M142.3 478.4h0M141.9 476h0M143.5 475.4h0M142.8 476.8h0M143.2 478.7h0M144 479.1h0M143.9 475.2h0M144.2 476.1h0M144 476.3h0M144.8 474.7h0M145.1 476.4h0M144.9 471.5h0M145.8 468.4h0M146.2 469.9h0M146.1 470.1h0M145.7 471.3h0M147.2 470.1h0M147.6 464.2h0M146.9 464.8h0M146.4 464.2h0M147.2 469.4h0M148.1 462.3h0M148.9 467.5h0M149.1 461.6h0M149 465.8h0M148.6 463h0M149.8 463.8h0M149.7 465h0M149.4 465h0M149.2 457.9h0M150.8 463.2h0M150.1 460.9h0M151.7 457.7h0M152.3 456.5h0M151.5 459.1h0M151.3 459.2h0M152 453.7h0M152.1 458.1h0M152.8 456.3h0M153.3 456.9h0M152.7 457.8h0M153.5 454.2h0M153.5 457.3h0M154.6 454.5h0M154.7 451.6h0M154 453h0M154.9 453.6h0M155.3 458.8h0M154.6 457h0M155.4 456.8h0M155.9 460h0M155.8 459.1h0M156.7 458.7h0M156.8 458.9h0M156.8 462.1h0M157.7 460.6h0M157.4 459.9h0M158.2 459h0M158.1 459.4h0M158.9 462.2h0M158.2 458.7h0M159.5 462.1h0M159.7 462h0M160.1 458.5h0M160.6 457.6h0M159.3 461.8h0M160.6 460h0M160.3 461.5h0M161.5 461.8h0M161.8 457h0M161.2 459.6h0M162.1 456.8h0M162.8 458.2h0M162.5 455.5h0M162.5 459.7h0M162 457.7h0M163 452.5h0M164 450.8h0M163.1 451.1h0M164.1 449.3h0M164.3 450.3h0M164.8 443h0M165.3 442.6h0M164.8 445.2h0M166 440.9h0M165.3 438.5h0M166.6 435.9h0M166.1 438.7h0M166.7 433.6h0M166.6 432.7h0M167.7 434.1h0M167 430.3h0M167.4 427.7h0M168.6 429.1h0M168.5 427.2h0M168.3 427.3h0M168.8 426.3h0M168.5 425h0M169.2 422.1h0M169.7 424.2h0M170.3 420.8h0M170.8 421.9h0M171.2 419.5h0M170.9 416.2h0M170.6 421.1h0M170.9 416.3h0M172.4 413h0M172 417.7h0M172.8 414.6h0M171.5 413.7h0M172.3 415.3h0M172.7 414.1h0M173.4 407.1h0M173.1 408.8h0M173 407.5h0M173.8 404.7h0M173.4 394.5h0M186.7 406.6h0M187.9 414.3h0M186.4 418.4h0M188 422h0M187.3 428.1h0M187.9 434h0M188.2 430.3h0M188.3 428h0M188.1 428.6h0M187.7 428.2h0M190.2 424.4h0M190.2 419.2h0M189.8 418.1h0M189.2 415.3h0M190.7 416.7h0M191.3 413.5h0M191.4 401.3h0M190.5 399.4h0M191.3 400.7h0M191.9 396.5h0M191.9 392.9h0M193.1 391.9h0M192.3 388h0M192.6 387h0M191.9 388.7h0M193.9 387.2h0M194.2 383.4h0M193.9 379.2h0M193.4 381.6h0M195 386.5h0M194 387.3h0M194.7 394.5h0M194.6 397.2h0M195 397.7h0M195.4 396.1h0M195.6 395.5h0M197.2 396.8h0M197.3 394.1h0M197.1 393.8h0M197 394.2h0M197.5 393.7h0M197.4 395h0M198.5 395.6h0M198 394.2h0M198.4 396.8h0M199 397.4h0M199 399.6h0M199 399.5h0M200.4 401.8h0M199.2 397.6h0M199.6 401.1h0M200.3 400.4h0M200.7 401.3h0M201.2 405.6h0M199.8 402.8h0M201.4 403.3h0M203 400.4h0M203 405.8h0M203.1 402.3h0M202.8 403.9h0M203.2 402.5h0M203.4 406.1h0M203 402.8h0M204.2 406.2h0M204.8 405.3h0M204.6 407h0M205 410.6h0M205.7 408.6h0M205.6 409.9h0M206.2 410.7h0M205.6 408.1h0M205.5 414.6h0M206.9 412.9h0M207.3 416.1h0M206.6 410.3h0M207.3 414.1h0M208.2 414.2h0M206.6 412.4h0M209.4 419.9h0M208.8 418.4h0M208.5 420.5h0M208.6 419.2h0M208.6 417.8h0M211.3 419.5h0M209.6 417.3h0M210.3 421.4h0M210.2 423.2h0M210.6 423.1h0M211.3 424.9h0M210.7 421.6h0M211.3 426.4h0M211.9 425.5h0M212.4 422.5h0M212.8 426.8h0M212.5 427.1h0M213.5 429.1h0M213.1 427.2h0M213.4 426h0M213.8 425.7h0M213.8 427.3h0M214.5 428.2h0M213.3 431.4h0M214 427.5h0M214 428.2h0M216.1 432.6h0M216 429.2h0M215.8 432.5h0M216.5 437.4h0M215.6 445.8h0M216.6 450.1h0M217.7 457.6h0M217.9 453.1h0M218.8 457.2h0M217.7 452.3h0M218.7 458h0M218.4 455.9h0M219.1 452.5h0M219.2 451.9h0M219.7 459h0M220.2 455.1h0M219.7 458.4h0M220.5 451.2h0M220.5 453.5h0M220.9 454.5h0M220.5 449.3h0M221.6 452.7h0M222.1 453.2h0M222.1 447.1h0M222.1 446.2h0M222 445h0M222 446.2h0M222.5 442.7h0M222.9 444.5h0M224 446.7h0M223.9 439.6h0M223.2 445.9h0M224 443.7h0M225.4 442.4h0M225.7 440.1h0M225.5 442.5h0M226.4 437.5h0M225.5 436.8h0M226.3 440.8h0M225.9 437.7h0M227.6 438h0M226.9 437.7h0M227.5 437.1h0M227.7 438.8h0M227.3 440.4h0M227.8 440.2h0M226.9 437h0M228.4 433.5h0M228.3 434.6h0M229.5 439.3h0M229.9 433.4h0M229.6 438.8h0M229.5 437.9h0M229.7 439.8h0M230.8 439.9h0M230.5 438.3h0M230.7 440.3h0M230.9 440.9h0M231.8 441.2h0M231.9 441.6h0M232.5 436.7h0M231.8 439.3h0M232.8 443.2h0M232.3 438.1h0M233.4 438.7h0M233.4 442.7h0M233.4 442.3h0M234.7 443.4h0M233.8 443.8h0M235.4 445.2h0M235 438.9h0M235.3 442.1h0M235.8 442h0M235.5 442h0M235.7 445.7h0M236.7 447.6h0M236.4 445.1h0M237.2 440.5h0M237 444h0M237.8 448h0M237.9 445.7h0M237.1 443.3h0M239.4 443.1h0M239.1 443.9h0M239.2 443.8h0M239.2 449.9h0M239.2 449.2h0M240.2 449.8h0M241.3 451.4h0M240.1 448.7h0M239.8 451.6h0M240.6 452.4h0M241.2 452.2h0M241.9 449h0M241 455.6h0M241.6 452.8h0M241.8 454.8h0M243.1 453.1h0M243.3 452.3h0M243.1 452.4h0M243.7 452.4h0M243.4 459.5h0M244 453.9h0M243 455.3h0M243.9 460.8h0M244 454h0M245 461h0M245.4 462h0M245 462.4h0M245.8 460.7h0M245.9 458.1h0M246.3 464.1h0M246.4 462.6h0M246.6 459.3h0M247.7 460h0M247.2 463.7h0M248 462.2h0M247.7 464.9h0M248.2 461.5h0M248.3 461.1h0M248.2 464.5h0M249.3 460.9h0M248.8 463.1h0M249.8 463.6h0M248.8 464.5h0M250.4 464.4h0M250.3 466.7h0M251.4 466.8h0M252.1 463.2h0M250.9 463.1h0M251.5 466.1h0M251 464.3h0M252 467.7h0M252.5 464h0M252.7 463.5h0M253.3 464.1h0M253.3 466.2h0M254.1 465.5h0M253.5 463.7h0M254.1 467.8h0M253.7 467.8h0M254.4 467.1h0M253.7 464.5h0M255.2 463.2h0M255.5 466.7h0M255.4 466.5h0M255.6 468h0M255.6 462.9h0M256.3 464h0M256.5 467.8h0M257.1 468.2h0M257.4 464.6h0M257.6 467.8h0M257.9 467.5h0M258.4 463.6h0M258 467.2h0M259.1 464.7h0M260.2 464.1h0M259.6 466.5h0M259.4 465h0M259.9 467.3h0M260.6 464.2h0M261.2 463.5h0M260.1 462.3h0M261.1 466.5h0M260.8 464.1h0M261.2 462.2h0M262.1 467.3h0M262.4 462.1h0M262.2 462.4h0M262.1 464.8h0M262.7 466.2h0M262.8 464.7h0M264.4 464.6h0M263 460.3h0M264.3 459.6h0M264.2 457.2h0M264.8 460.2h0M264.4 460.4h0M264.9 455h0M265.2 456.6h0M265.3 459.2h0M266 455.1h0M266.4 456.5h0M266.3 453.9h0M267 456.6h0M267.3 451.1h0M267.3 452.7h0M268.1 453.4h0M268 452.2h0M267.8 451.6h0M268.6 447.9h0M269.5 446.9h0M269 446.1h0M268.4 442.5h0M269.9 446.2h0M270.2 441.4h0M269.7 438.2h0M270.4 436.8h0M270.9 438.8h0M269.7 436.7h0M271.5 430.9h0M272 426h0M272.3 423.7h0M272.8 423.4h0M271.8 420.8h0M273 425.8h0M274.2 418.9h0M272.1 417.2h0M273.3 415.7h0M274 414.9h0M273.5 413h0M273.5 411.9h0M274.8 412.6h0M274.9 411.1h0M274.7 406.1h0M275.4 403.8h0M276.3 402.7h0M276.5 399.8h0M276.5 403.8h0M275.8 400.2h0M276.5 399.5h0M276.1 401.1h0M276.9 400.7h0M277.7 399.8h0M278.1 396.3h0M278 393.4h0M278.6 387.3h0M277.8 391.5h0M278.4 384.3h0M278.6 388.6h0M279.1 387.6h0M279.7 384.4h0M281.3 384.1h0M280.9 380.9h0M280.1 383.6h0M280.5 378.9h0M281.1 382.3h0M281.3 375.4h0M281.5 381.1h0M281 377h0M282.8 378.3h0M283.1 373.3h0M283.3 372.7h0M283.2 373h0M283.6 373.6h0M283.4 373.7h0M283.2 374.9h0M284.4 372.2h0M284.6 372.4h0M284.1 368.5h0M283.8 365.6h0M286.1 367.3h0M285.2 364.7h0M285.8 365.3h0M285.8 364.3h0M287.2 359.7h0M286.2 354.2h0M287.7 352.6h0M286.1 353.4h0M288 349.9h0M287.5 350.2h0M287.2 340.2h0M288.6 338.7h0M288.7 336.6h0M288.1 339.8h0M289.3 337.1h0M289.7 338.4h0M290.2 335h0M289.4 337.3h0M289.9 336.9h0M290 331.9h0M291.2 330.3h0M291 334.6h0M291 329.7h0M292.4 331.2h0M291.6 332.2h0M293 325h0M293.1 319.7h0M292.5 321.1h0M292.2 320.4h0M293.4 321.9h0M294.2 312.2h0M294.7 302.8h0M294.5 297.4h0M294.7 296.3h0M294.4 291.9h0M294.9 286.8h0M297.1 282.3h0M296.2 277.4h0M295.2 278.7h0M296.2 272.1h0M296.9 283h0M296 277h0M296.9 281.8h0M297.5 262.1h0M298.3 289.1h0M298.9 267.4h0M298.1 272h0M298.3 279h0M298.4 276.4h0M299 285.3h0M299.9 251.5h0M299.1 274.4h0M299.7 282.7h0M299.7 276.7h0M299.8 279.1h0M300.6 251.7h0M302 257.1h0M302.1 286.9h0M302.2 257.3h0M300.8 270h0M302.4 265.6h0M303.6 281.3h0M302.8 256.2h0M302.5 251.1h0M303.3 258.8h0M303.5 269.7h0M303.6 249.3h0M304.1 244.4h0M304.4 247.7h0M304.3 267.5h0M305 244.6h0M304.7 262.5h0M305.4 272.8h0M306 269.1h0M305.8 247.8h0M306.3 232.3h0M305.9 229.8h0M307.4 253.2h0M306.4 253.2h0M307.5 230.5h0M307.6 242h0M308.4 226.6h0M308.7 226.6h0M308.2 231.4h0M307 245.1h0M308.1 209.3h0M308.9 231.3h0M309.1 234.2h0M309.9 217.1h0M311 231.8h0M310.9 207.6h0M310.7 193.5h0M311.6 209.5h0M311.1 212.7h0M311.8 216.9h0M312.1 192.4h0M311.2 190h0M312.8 193.2h0M313.4 197.4h0M312.6 197.9h0M313.7 215.5h0M313.8 201.2h0M313.6 226.8h0M313.7 226.6h0M314.6 225.3h0M314.4 220.9h0M314.7 229.7h0M315.6 210.5h0M315.8 204.4h0M316.3 205.4h0M315.8 191h0M315.6 194.6h0M317.1 230.9h0M315.9 215.7h0M316.7 219.9h0M317.4 217.3h0M318.6 215.8h0M317.9 192.8h0M317.5 177.1h0M318.3 195.5h0M319.6 220.2h0M318.2 177.1h0M318.6 200h0M320 182.7h0M319.8 216.9h0M319.8 220.1h0M320.4 183.5h0M320.7 210.1h0M320.3 228.6h0M320.8 187.7h0M322.4 196.8h0M322 192.1h0M322.6 191.3h0M322.3 199.2h0M322.2 184h0M323.2 202.3h0M322.8 199.7h0M323.6 228.1h0M323.5 194.5h0M323.7 222.7h0M324.3 209.3h0M324.2 218.9h0M325.5 221h0M324.3 215.8h0M325.4 188.1h0M325.2 194.9h0M326.5 165.3h0M326.1 211.2h0M326.5 206.3h0M326.9 188.7h0M327.4 207.5h0M327.5 195.6h0M327.8 164.4h0M328 181.5h0M327.8 170.5h0M328.5 202.4h0M328.7 214.3h0M328.7 172.7h0M328.9 174.2h0M330.1 172.3h0M329.3 198.3h0M331.1 225h0M330.1 221.2h0M330.9 203.7h0M330.8 184.7h0M331.3 211.1h0M331.9 166h0M332.6 190.4h0M331.9 194.9h0M332.2 216.6h0M332.5 184.8h0M334 212.5h0M333.8 180.8h0M333.9 202.8h0M333.6 185.9h0M333.2 172.8h0M334.6 179.7h0M333.7 181.8h0M334.5 173.7h0M335.5 163h0M335.3 158.2h0M335.4 174.9h0M334.9 187.4h0M336.5 158.1h0M336.6 161h0M336.7 161.2h0M337.3 153.7h0M336.5 153.4h0M337.1 154.9h0M337.8 146.1h0M338.8 133.5h0M338.5 129.7h0M338.1 123.7h0M338.7 114h0M339.7 106.3h0M354.1 116.7h0M354.2 116.5h0M355.9 123.7h0M355.7 114.4h0M355.2 115.4h0M356.2 119.6h0M356.7 130.9h0M356.6 121.7h0M356.7 126h0M356.5 123.3h0M357 116.4h0M357.3 134.5h0M358.4 129.6h0M357.5 128.4h0M357.4 142.1h0M358.1 138.3h0M358.8 146h0M358.2 130.1h0M359.3 146h0M359.2 130.9h0M359.2 147.4h0M360 141.5h0M361.1 154.6h0M360.1 142.8h0M361.1 155.2h0M361.1 145.8h0M361.7 140.6h0M361.9 152.6h0M361.8 147.6h0M362.8 163.7h0M362.7 166.1h0M362.2 159.7h0M362.3 157.9h0M363.2 183.5h0M363.8 191.1h0M364.3 193.4h0M363.8 187.6h0M364.5 165.7h0M364 205.6h0M364.9 178.9h0M365.4 185.6h0M365.2 173.5h0M366 209.2h0M365.8 224.8h0M366 187.8h0M366.8 177.7h0M366.1 192.9h0M367.5 178.8h0M368.3 174.4h0M367.6 194h0M367.8 192.2h0M367.9 162.6h0M368.2 228.5h0M368.8 233.6h0M368.6 226.3h0M369.4 192.9h0M369.4 214.1h0M369.7 235.1h0M370.5 226.3h0M371.1 237h0M371.2 228.8h0M370.9 204.1h0M371.6 205.6h0M371.3 206.3h0M371.9 248.6h0M372.6 221.7h0M372.8 232.2h0M373.7 244.3h0M372.5 222.5h0M374.2 233.2h0M373.8 254.8h0M374.6 244.6h0M374.4 237.6h0M375.2 246h0M374.8 231.8h0M374.5 247.7h0M375.4 243.4h0M375.6 245.8h0M376 220.8h0M376.5 212.8h0M376.8 229.7h0M376.9 221.2h0M377.7 224.2h0M376.6 222.1h0M378.2 219.8h0M377.4 183.4h0M378 205.5h0M378.4 205.3h0M378.2 200.7h0M379.4 187.4h0M378.7 191.8h0M379.1 192h0M380.7 180.7h0M379 191.8h0M379.5 182.5h0M381 183.5h0M380.6 193.6h0M381.7 184.7h0M381.5 193h0M381.5 176.7h0M382.3 193.5h0M381.8 180.9h0M382.5 155.4h0M383.1 150.3h0M382.6 98.6h0M382.6 101.3h0M382.7 103.5h0M384.6 119.1h0M385.3 118.7h0M385.1 124.4h0M384.4 128h0M384.7 124.8h0M385 128.1h0M385.7 129h0M386.4 145.6h0M386.1 141h0M386.3 153.4h0M385.3 162.3h0M387.3 164.1h0M386.7 152.5h0M387.4 174.5h0M387.9 163h0M388.4 185.9h0M388.9 168.8h0M389.5 185.8h0M387.8 191.8h0M388.3 193.1h0M390.5 196.5h0M390.1 204.3h0M389.7 193.3h0M390.2 198.4h0M390.5 196.4h0M391.6 209.8h0M391.1 206.9h0M391.5 212.9h0M391 206.1h0M392.6 211.1h0M392.7 216h0M392.4 236.3h0M392.2 228.4h0M393.1 216.7h0M393.7 218.1h0M395 239.2h0M395 222.7h0M394.1 238.6h0M394.3 224.2h0M394.2 247h0M395.5 233.2h0M395.1 247.6h0M395.9 235.7h0M396 228.9h0M396.3 235.4h0M396.2 256.4h0M397.4 244.7h0M397 254.2h0M396.6 240.2h0M397.4 248.4h0M398.1 253.5h0M398.3 259.8h0M398.9 263.5h0M399.2 251.5h0M400 250.7h0M399.4 250.5h0M400.2 260.2h0M398.5 261.5h0M401 255.1h0M400.2 254.1h0M401.5 252.8h0M400.9 253.8h0M401.5 268.7h0M401.7 269h0M401.3 262.9h0M401.9 272.4h0M401 268.2h0M402.9 269.9h0M402.7 277.3h0M402.9 267.3h0M404.2 268.2h0M404 282.8h0M404.1 280.9h0M403.3 270.7h0M404.5 268h0M404.9 255.4h0M405.7 267.9h0M405.1 263.8h0M405 268.5h0M405.7 263.9h0M407.3 281.7h0M406.1 261.6h0M407.4 271.5h0M406.9 254.7h0M406.2 264.2h0M408.1 275.9h0M409.2 258.8h0M408.4 249.8h0M407.8 262.7h0M408.5 264.7h0M408.7 242.4h0M410.8 251.1h0M409.8 241.3h0M408.6 251.1h0M410.4 247.3h0M410.8 252.6h0M410.2 255.9h0M410.6 253h0M411.1 254.7h0M412.2 248.3h0M411.7 247.6h0M411.8 262.4h0M412.8 252.1h0M412.2 265.2h0M412.2 258.2h0M413.3 254.6h0M413.9 271h0M413.8 275.5h0M413.7 259h0M414.8 286.7h0M415.4 279.4h0M414.1 283.5h0M414.5 296.1h0M414.9 293.1h0M415.4 295.7h0M416.2 309.6h0M416.3 283.4h0M416.5 295.8h0M416.9 276.1h0M416.3 289.3h0M416.4 288.2h0M417.8 282.7h0M418.5 282.7h0M418.2 274.7h0M418.1 256.5h0M419.2 221.7h0M418.9 225.8h0M418.6 229.4h0M419.3 231.3h0M420.1 233.2h0M420.4 245.3h0M420.8 246.3h0M420.4 253.3h0M421.2 254.2h0M421.8 262.5h0M421.5 264.1h0M421.6 261h0M422.7 268h0M422.3 262.1h0M421.9 259.9h0M422.9 267.5h0M423.9 275.9h0M423.6 272.2h0M424.6 281.9h0M424.2 276.6h0M424.6 289.9h0M425.2 289.4h0M424.5 292.6h0M425.6 291.8h0M425.2 290.3h0M425.7 295.3h0M426.2 299.2h0M426 302.9h0M425.9 312.1h0M426.2 315.1h0M427.5 334.1h0M427.6 347.9h0M427.7 335.1h0M428.2 330.6h0M427.6 337.3h0M428.4 325.7h0M429.6 312.1h0M428.5 325.7h0M429.9 316.4h0M429.3 321.5h0M430.3 324h0M430.3 331.6h0M430.3 317.8h0M430.7 320.6h0M431.3 330.7h0M431.1 333.2h0M431.1 328.2h0M432.2 331.2h0M431.8 312.4h0M432.1 327.4h0M432.7 321.2h0M432.8 328.5h0M432.3 328.2h0M433.3 322.5h0M433.4 334.3h0M433.5 333.7h0M434.1 314.2h0M434.7 335.5h0M435.6 332.9h0M434.7 334.7h0M436.2 321.5h0M435.5 325.6h0M436.2 333.8h0M436 336h0M436.7 321.3h0M437 330.9h0M437 323.9h0M436.6 327.2h0M438 327.3h0M437 325.1h0M438 337h0M439.4 335.1h0M438.9 315h0M439 314.8h0M439.2 316.3h0M439.9 317.3h0M439.8 318.7h0M440.3 317.4h0M440.3 319.5h0M440.4 321.7h0M441.4 330.5h0M441.6 326.1h0M441.7 314.7h0M442.2 330.9h0M442.8 327.1h0M443.4 314.5h0M442.8 336.7h0M442.4 320.7h0M443.7 327.3h0M443.4 329.7h0M444.3 316.9h0M443.9 319.3h0M444.7 321.6h0M444 339.2h0M444.8 336.6h0M444.6 336.9h0M446.5 321.6h0M445.6 325.5h0M444.9 328.4h0M446.7 316.8h0M447.2 321.2h0M447.6 330.2h0M446.5 321.5h0M447.5 329.5h0M448.1 331h0M448 322.5h0M448.5 337.2h0M448.4 330.9h0M448.5 332.7h0M449.6 335.7h0M449.1 340h0M449.7 327.2h0M450.2 329.3h0M450.1 337.2h0M450.7 341.2h0M449.9 330.8h0M451.6 335.7h0M450.7 328.7h0M451.4 327.5h0M451.5 342.8h0M452.5 341.4h0M452.4 340.4h0M452.4 330.7h0M453.2 341.5h0M454.1 340.6h0M453.3 339.6h0M453.5 348.1h0M453.8 352.7h0M453.6 342.4h0M453.8 342.2h0M454.8 344.2h0M455.6 348.4h0M455.2 347.9h0M455.2 346.2h0M455.8 341.3h0M456 331.4h0M457.9 319.2h0M457.6 322.4h0M457 320.6h0M456.4 331h0M457.5 317.2h0M457.6 335.3h0M457.8 329.8h0M457.3 335.3h0M458.3 332.2h0M458.9 331.5h0M459.1 321.8h0M459 336.2h0M460 333.8h0M459.6 315.9h0M459.5 318.8h0M460.3 314.8h0M461.4 326.7h0M461.8 320.6h0M460.8 316.6h0M461.9 324.6h0M462.4 312.8h0M462.8 327.1h0M462.3 326.7h0M462.9 312.6h0M463.1 316.9h0M462.7 313.6h0M464.2 304.3h0M463.9 302.1h0M464.3 308.5h0M464.6 288.3h0M464.5 292.1h0M464.9 285.7h0M465.5 282.6h0M464.9 279.1h0M466.9 283.7h0M467.4 281.2h0M465.4 282.6h0M467.2 282.5h0M466.7 288.4h0M467.8 286.9h0M467.8 301.1h0M467.8 294.2h0M468.5 294.1h0M468.4 304.8h0M469.6 308.7h0M469.3 300.5h0M468.6 299.8h0M469.4 311.3h0M469.7 307.6h0M470 319.7h0M469.9 313.9h0M471.7 316.1h0M470.9 320.8h0M471.1 317.6h0M470.9 328h0M472.2 329.8h0M472 338.9h0M472.8 337.3h0M473.3 346.9h0M472.8 358.7h0M472.9 355.2h0M474 354.6h0M474.2 356.3h0M474 372.6h0M474.8 365.3h0M474.5 372.8h0M474.8 365.2h0M475.1 375.8h0M474.2 371.8h0M476.2 373.7h0M476.4 373h0M475.8 368.3h0M476.2 366.1h0M476.8 373.8h0M477.6 369.6h0M477.4 369.6h0M477.4 363.1h0M478 373.1h0M478.1 369.4h0M478.1 364.8h0M478.7 357.9h0M478.8 363h0M479.6 371.6h0M478.8 368.1h0M479.6 352.7h0M480 366.5h0M480.4 369.5h0M481.8 357.8h0M480.7 367.1h0M481.9 368.5h0M482 356h0M482.4 349h0M482.8 352.9h0M482.5 365h0M482.3 353.9h0M482.8 350.3h0M483.9 353.3h0M484.4 361.2h0M484.2 356.2h0M485.4 344.2h0M484.7 348h0M484.2 346.7h0M484.8 354.4h0M485.1 349.9h0M486 339.3h0M486.2 337.5h0M485.5 344.2h0M486.7 347.1h0M486.1 346.4h0M487.1 341h0M487.5 341.7h0M487.7 340.5h0M487.8 337.5h0M487.5 340.1h0M488.3 347.3h0M489 339.4h0M488.5 350.6h0M488.4 342.1h0M487.9 334.3h0M489.7 341.1h0M489.5 334.8h0M490.1 333.4h0M489.8 333h0M490.3 333.8h0M490.9 334h0M491.8 348.8h0M491.1 331.7h0M491.1 339.7h0M492 342.4h0M492.9 333.1h0M492.3 337.4h0M493.2 338.3h0M493.1 339h0M493.6 341.5h0M493 338.4h0M494.1 337.6h0M494.2 334.3h0M494.6 331.2h0M494.4 338.5h0M495.2 334.6h0M494.4 331.9h0M495.7 331.5h0M496.6 334.4h0M496.2 331h0M496.7 324.4h0M497 319.9h0M497.8 318h0M496.9 321h0M496.7 321.4h0M497.5 314.8h0M497.9 314.5h0M498.5 304.5h0M499.1 302.5h0M498.5 307.1h0M499 304h0M500.1 296.4h0M500.4 301.9h0M499.7 296.6h0M500.6 293.8h0M500.8 300.7h0M500.8 307h0M501.2 308.3h0M501 309.3h0M500.8 303.1h0M501.5 310.3h0M502.1 302.7h0M502.8 311.3h0M503 306.3h0M503.4 303.6h0M503.2 299.1h0M503.8 305.4h0M503.3 310.9h0M503.7 303.2h0M504.9 309.1h0M504.9 304.7h0M506.1 302.4h0M505.7 306.2h0M505.4 302.3h0M505.5 311.6h0M505.4 312.1h0M507.2 303.9h0M507.3 298.4h0M508.8 303h0M508.2 300h0M507.9 310.6h0M507.5 316.4h0M507.3 300.5h0M508.2 308.7h0M508.6 310.6h0M508.4 304.6h0M509.7 321.2h0M510 307h0M509.3 308.5h0M509.8 309.3h0M509.9 317.5h0M511.3 321.5h0M510.5 321h0M510.6 319.8h0M510.4 318.2h0M511.4 329.3h0M511.3 322.9h0M512.9 327.2h0M512.9 332.1h0M512.1 327h0M512.9 335.3h0M513.5 340.3h0M513.8 340.1h0M513.4 341.2h0M514.8 352.5h0M515 350.4h0M515.9 358.5h0M513.7 360.3h0M514.5 366.1h0M515.9 379.2h0M516.2 387.6h0M516.2 396.4h0M515.9 403.8h0M517 412h0M516.6 419h0M518.2 426.9h0M518.3 419.8h0M518.4 410.3h0M517.2 408.5h0M518.5 400.5h0M519.8 386.5h0M520 390.2h0M519.9 389.4h0M520.1 383.6h0M519.3 383.3h0M521 381.9h0M521.4 370.1h0M520.9 378.8h0M521.1 370.3h0M521 368.7h0M521.8 356.5h0M521.7 360.7h0M522.3 360.6h0M522.2 362h0M521.7 355h0M522.7 368h0M523.5 363.7h0M523.6 347.8h0M524.4 346.7h0M524.3 345.9h0M525.1 345.9h0M524.6 353.1h0M525.4 344.3h0M524.7 348.9h0M524.9 346.9h0M526.3 347.4h0M526.2 340.2h0M525.8 336.5h0M526.9 338.8h0M527.4 335.4h0M527.6 325.1h0M528.1 332.5h0M528.1 324.1h0M528.3 316.4h0M527.6 325.7h0M527.7 319.7h0M528.6 311.6h0M527.4 316.3h0M528.9 308.4h0M528.8 308.8h0M530.1 300.5h0M529.8 291.2h0M530.4 307.3h0M530.1 284h0M530.7 281.6h0M532.1 288.3h0M531.1 280.4h0M530.9 295.5h0M532.7 296.6h0M532.6 280.9h0M532.8 267.6h0M532.8 280.9h0M533.3 275.7h0M533.2 295.2h0M534.1 275.4h0M534 281.6h0M534 292.8h0M534.8 291.1h0M534.4 265.3h0M535.2 275.6h0M535 277.6h0M535.5 285.5h0M536 286.6h0M535.8 291.6h0M536.8 280h0M536.9 287.6h0M537.2 290.3h0M536.3 263.7h0M537.8 295.3h0M537.8 271.1h0M537.3 257.4h0M538.7 266.8h0M538.9 279.6h0M538.6 269.7h0M538.6 277.9h0M539 285.4h0M539.9 270.6h0M540.1 266.5h0M540.2 283.1h0M541.5 261.2h0M541.1 291.2h0M541.4 285.8h0M540.7 270.2h0M541.9 275.8h0M542.4 283h0M542 282h0M543.7 281.6h0M542.6 268.7h0M543.2 265.9h0M543.1 258.1h0M543.7 274.4h0M542.6 265.3h0M544.7 264.7h0M543.4 283h0M545.3 282h0M544.7 279.6h0M545.2 286h0M546.9 293.6h0M545.4 281.3h0M546 268.2h0M546 298.9h0M546.8 297.2h0M547.3 296.6h0M548 279.8h0M546.1 284.1h0M548 283.2h0M548.5 294.1h0M548.9 300.7h0M548.3 295.8h0M548.9 290.8h0M550.4 294.3h0M549.8 303.7h0M550.9 297.1h0M549.4 304.9h0M549.9 302.8h0M550.8 301.3h0M550.5 302.5h0M551.5 307.2h0M550.9 309.4h0M551.8 299.9h0M551.5 308.2h0M552 305.7h0M552.7 302.2h0M553.1 302h0M552.5 302.5h0M552.8 313.1h0M554.1 310h0M553.5 300.8h0M554.4 305.2h0M555.1 309.8h0M555.3 303.6h0M554.4 306.4h0M556 304.7h0M556.2 307.2h0M555.5 302.2h0M556.2 310.9h0M557.3 303.6h0M556.9 309h0M557.2 304.5h0M557.7 309.8h0M558 302.9h0M559.4 305h0M558.9 313h0M558.5 302.8h0M558.6 304.5h0M559 311.3h0M560 310.7h0M559 303h0M560.2 310.7h0M559.7 316.5h0M559.6 304.1h0M561.3 308.8h0M561.2 302.7h0M561.3 312.9h0M561.2 304.1h0M561.9 309.3h0M561.8 306.1h0M563 316.8h0M563.2 306.1h0M562.7 307.2h0M563.3 315.3h0M563.7 304.2h0M564.2 313.8h0M564.1 307.5h0M563.9 308.8h0M564.6 325h0M565.1 311h0M565.1 315.2h0M565.1 317h0M566.1 323.3h0M566.3 318.7h0M566.8 319h0M566.1 320h0M567.1 325.6h0M566.9 329.9h0M567.4 326.6h0M567.4 319.1h0M567.6 324.6h0M567.9 326.8h0M568.4 331.3h0M568.9 335.6h0M570.1 323.1h0M569.5 333.2h0M569.6 332.5h0M569.7 332.4h0M569.9 332.1h0M570.1 333.4h0M570.9 328.5h0M570.1 325.4h0M571.9 328.7h0M572.5 326.3h0M571.1 337.2h0M572.7 329.4h0M572.8 338.8h0M573 334.2h0M573.4 336.1h0M574.1 333.9h0M573.1 338.4h0M573.4 337.3h0M574.2 328.7h0M574.5 337.7h0M573.9 340.1h0M575.3 338.5h0M575.6 339.5h0M575.2 337.1h0M576 334.9h0M576.5 330.3h0M575.2 332.5h0M576.2 337.7h0M576.2 332.3h0M577.2 338.3h0M576.8 339h0M577 340.7h0M577.9 339.6h0M579 341.1h0M578 333.4h0M579.6 332.4h0M579.5 340.8h0M579.7 335.2h0M580.1 340.5h0M579.8 337.3h0M580.8 340.1h0M579.7 331.1h0M580.2 330h0M581 332.1h0M581.8 314.8h0M580.9 323.8h0M580.9 320.3h0M582.2 318.5h0M582.4 308.8h0M583.1 319.5h0M583 301.1h0M582.5 315.5h0M584 317.6h0M584 302.6h0M584.3 321.5h0M585.5 303.9h0M584.7 308.3h0M585.5 319.6h0M584.9 322.8h0M584.1 324.8h0M585.2 320.4h0M584.6 298.7h0M586.1 322.3h0M587 321h0M586.1 321.6h0M587.5 302.7h0M587.2 296.6h0M588 318h0M587.9 301.3h0M587.9 304.6h0M588.8 316.9h0M588.7 299.3h0M589.4 300.6h0M590.1 301h0M589.6 307.3h0M590.8 307.5h0M590.1 298.2h0M590.6 299.3h0M590.6 304.8h0M590.8 299.7h0M591.4 308.2h0M591.3 306.6h0M592 318.7h0M591.4 302.6h0M592 311h0M593.2 315.3h0M593.2 299.5h0M593.4 299.4h0M593.6 302.6h0M594.4 301.3h0M594.4 311h0M594.8 315.7h0M594.1 314.9h0M595 319.6h0M594.9 322.1h0M594.9 326.7h0M595.6 330.7h0M596.2 313.6h0M596.1 316h0M597.6 320.2h0M597.2 330.8h0M597.3 325.9h0M597.3 332.4h0M596.8 330.5h0M598.1 335.8h0M598.3 336.4h0M599.4 339.7h0M598.3 333.7h0M598.8 340.3h0M599.1 340h0M599.7 345.6h0M599 348.5h0M600.2 348.5h0M600.3 358h0M601 370.6h0M602.4 377.4h0M601.2 376.4h0M601.7 374h0M601.6 371.7h0M602.8 373.8h0M603.6 384.3h0M603.5 379.4h0M603 385.1h0M602.4 374.6h0M603.9 377.7h0M603 389.5h0M603.6 376.7h0M603.9 383.7h0M603.9 386.9h0M605 385.1h0M605 387.3h0M605.1 377.1h0M605.8 386.7h0M605.5 386.7h0M607.1 391.7h0M606.9 387.2h0M606.6 383.8h0M607.2 386h0M606.9 380.2h0M607.5 394.6h0M608.5 390h0M607.4 385.1h0M608.6 393.3h0M609.6 384.5h0M608.1 390.2h0M610.6 402.4h0M608.6 400.2h0M608.7 389.1h0M608.9 383.6h0M610 393.9h0M610.5 398.4h0M610 396.3h0M611.1 389.8h0M611.8 394.5h0M611.6 400.3h0M612.2 384.7h0M612.7 381h0M613.4 395.1h0M612.7 397.8h0M613.7 390.2h0M613.8 385.9h0M613.8 387.5h0M613.8 379.2h0M614.3 395.1h0M615.1 399.6h0M614.3 381.4h0M614.9 388.8h0M615.5 384.7h0M615.7 389h0M616.3 396.2h0M617.2 394.4h0M617.1 392h0M616.1 379h0M617.7 385.4h0M617.2 384.9h0M617.3 394.3h0M618.5 379.9h0M617.9 381.3h0M617.4 378.5h0M619.2 390.8h0M619.3 373.8h0M619.6 382.4h0M618.8 380.5h0M620.1 393.2h0M620 374.7h0M620.9 386.7h0M620.1 380.7h0M620.4 377.9h0M620.1 371.5h0M621.3 377.2h0M622.4 387.6h0M622.2 382.9h0M622 371.9h0M623.2 370h0M623.2 373.2h0M623.7 373.4h0M623.6 376.5h0M623.6 375.8h0M623.9 373.9h0M624.7 365.3h0M625.2 369.1h0M625.2 368.1h0M625.5 373h0M624.7 370h0M624.9 375.6h0M626.2 382.6h0M626.3 375.6h0M626.7 384.8h0M626.1 381.5h0M627.3 379.3h0M626.9 385.2h0M627.7 386.1h0M627.8 383.1h0M627.9 390.9h0M628.8 390.1h0M628.6 387.8h0M629 388.8h0M629.6 390.5h0M630.2 387.6h0M630.2 390.2h0M630.6 387h0M630.7 385.9h0M631.5 385.1h0M631.9 383.7h0M631.1 389.5h0M631.9 383h0M631.9 385.6h0M632.8 382.6h0M630.9 385.6h0M632.5 375.9h0M632.1 373.8h0M633.9 377.2h0M633.5 374.7h0M633.9 382h0M634.4 378.2h0M634.5 377.6h0M634.8 371.4h0M634.6 372h0M633.9 372.7h0M635.7 363.9h0M635.7 360.2h0M635.7 369.8h0M635.8 368.3h0M637 357.8h0M636.6 361.7h0M636.6 371.6h0M637.7 371.3h0M638.3 374.3h0M637.1 372.2h0M637.8 373.4h0M638 374.3h0M638.9 387.2h0M639.2 383.1h0M639.9 384.1h0M639.7 390.7h0M639.8 393.8h0M639.8 388.5h0M640.9 387.6h0M640.2 399.6h0M640.7 393.1h0M641.2 399.6h0M641.5 396.6h0M641.9 395.7h0M641.6 403.4h0M643.4 403h0M643.7 403.9h0M642.3 398.5h0M643.2 404.3h0M642.8 399.2h0M643.7 406.4h0M643.5 408.8h0M644.1 398.3h0M644.6 409.3h0M644.8 402.1h0M644.6 398.5h0M644.5 409h0M644.7 411h0M646.5 401.3h0M646 409.1h0M646.7 407.7h0M647.6 407h0M646.6 411.5h0M647.5 410.1h0M647.1 406.6h0M648.2 414.3h0M647.3 401.8h0M648.2 410.9h0M648.6 410.8h0M648.9 412.1h0M648.7 413.8h0M649.5 409.3h0M650.3 405.2h0M650 410.7h0M650.7 402.1h0M651.2 411.8h0M651.2 409.5h0M651 400.2h0M651.5 409h0M651.1 402h0M652.6 410.1h0M652.6 397.7h0M653.2 396.3h0M654 402.3h0M653.4 402.5h0M653.9 405h0M653.9 400.2h0M654.4 401h0M654.9 407.6h0M654.3 411.2h0M654.4 418h0M654.5 416.3h0M655.9 410.9h0M655.8 412h0M656.1 416.4h0M655.5 411.7h0M656.3 415.3h0M656 412.5h0M656.4 418.9h0M656.9 414h0M657.4 410.7h0M658.8 416.9h0M657.5 417.8h0M658.1 419.2h0M658.2 415.4h0M659.2 417.3h0M659.7 424.7h0M659.2 425.3h0M658.9 413.3h0M659.7 421.6h0M660.8 427.3h0M660.2 415.7h0M661.4 422.1h0M660.6 417.4h0M661 423.5h0M661.7 422.1h0M663.1 426.6h0M662.7 426.6h0M662.7 418.2h0M662.2 424h0M662.8 420.1h0M663.2 433.1h0M664.5 421.1h0M664.6 423.1h0M664.2 422.3h0M664.4 423.5h0M664 428.9h0M664.9 424.5h0M665.6 430.1h0M665.8 433.5h0M666.3 432.8h0M665.9 427.3h0M666.8 427.5h0M666.6 426.9h0M667.4 433h0M667.6 426h0M668.1 435.8h0M668.1 434.1h0M667.9 433h0M668.9 436.1h0M668.4 426.1h0M669.4 428.1h0M669.1 432.8h0M669.3 434.3h0M669.8 428.4h0M670 435h0M670 430.5h0M670.2 434.4h0M670.3 431.6h0M671.1 438.8h0M671.8 439.5h0M671.8 440.7h0M671.3 437.2h0M672.3 434.1h0M672.9 438.9h0M672.5 433.5h0M672.8 428.3h0M673.9 425.6h0M673.6 428.2h0M674.4 432.3h0M674.3 429.9h0M673.9 427.9h0M674.8 422.2h0M675 428.9h0M675.4 434.8h0M675.4 422.9h0M675.8 430.7h0M677.3 420.7h0M676.1 429.2h0M677.4 423.8h0M676.6 427.4h0M677.5 426.3h0M677.8 422.4h0M678.3 428.7h0M678 423h0M678.3 430.3h0M678.9 427.4h0M678.3 417.1h0M677.9 426.7h0M678.6 423.6h0M680.8 426.8h0M680.6 422.7h0M681.3 421.9h0M680.8 420.7h0M680 415.1h0M680.9 418h0M681.7 422.5h0M681.4 413.5h0M681.5 415.9h0M681.6 420.1h0M682.4 419.6h0M682 410.8h0M683.4 412.2h0M683 417.1h0M684.2 417.3h0M685 410.4h0M684.3 408.6h0M685.1 407.3h0M685.3 415.8h0M685.1 416.2h0M685.5 405.3h0M686.4 409.6h0M686.3 408.6h0M686.1 409.4h0M686.1 410.3h0M686.9 407.8h0M687.6 408h0M687.7 407.1h0M687.2 406.7h0M687.7 410.5h0M688.4 400.8h0M688.3 399.5h0M688.7 404.9h0M688.4 401h0M688.7 396.8h0M689.9 399h0M690 396.9h0M690 397.2h0M691.4 393.3h0M690.4 396h0M691.5 393.3h0M691.4 398.3h0M691.3 395.4h0M692 400.1h0M692.5 400.7h0M692.5 402.3h0M692.9 402.2h0M694.3 402.9h0M692.6 403.2h0M693.2 403h0M694.2 397.8h0M694.1 401.3h0M693.9 406.8h0M694.2 397.6h0M694.6 400.1h0M695.1 407.6h0M695.5 408.9h0M696.5 407.6h0M696 406.8h0M695.9 405.9h0M697 404.8h0M697.2 406.3h0M696.5 405.5h0M697 406.8h0M696.9 409.1h0M698.2 409.5h0M698.7 414.4h0M698.3 412.9h0M699.3 411.1h0M698.6 407.2h0M699.3 409.9h0M699.6 409h0M699.9 410h0M700.9 412.3h0M699.7 410.3h0M701.1 411.3h0M701.1 420.6h0M701.8 415.1h0M700.8 410.3h0M701 420h0M703.1 416h0M703.1 421.8h0M703.2 418.4h0M702.8 419.2h0M703.6 421.6h0M703.6 411.4h0M703.3 417.4h0M703.9 421.8h0M704.1 411.9h0M703.9 421.3h0M704.7 418.7h0M704.9 414.7h0M705.7 414.5h0M706.1 425h0M706.4 423.9h0M706.9 422.9h0M706.1 412.1h0M707.1 420.8h0M707.4 418.2h0M707.4 411.6h0M707.3 421h0M706.5 412.1h0M708.3 421.5h0M708 413h0M709 424.6h0M708.4 420.4h0M709.6 417h0M709.3 415.7h0M709.1 418.5h0M709.7 411.5h0M710.5 422.4h0M711.2 421.4h0M711.4 422.4h0M711.8 424.3h0M711.7 420.7h0M711.7 419.7h0M711.9 421.5h0M712.4 415.7h0M712.4 423h0M711.9 414.3h0M712.3 419.1h0M713.9 417.8h0M713.8 422.2h0M714.9 423.3h0M713.9 415.4h0M715.2 416.7h0M715 414.7h0M715.4 412.7h0M715.3 420.7h0M716.1 417.1h0M716.4 418h0M716.1 408.4h0M716.5 413.7h0M716.6 410.9h0M716.9 403.8h0M717.6 397.8h0M717.5 397.7h0M717.6 397.3h0M718.1 396.5h0M717.4 401.2h0M719.1 404.4h0M719.3 402.9h0M717.7 400.6h0M718.9 402.1h0M719.7 402.8h0M719.1 407.8h0M720.7 407.6h0M721.2 412.3h0M721.1 408.3h0M721.5 407.2h0M721.6 409.7h0M722.3 413.1h0M722.4 412.3h0M722.2 414.1h0M722.5 408.6h0M722.2 410.9h0M722.6 413.4h0M724 406.1h0M724.2 410.5h0M723.4 413.1h0M723.7 415.4h0M723.6 417.3h0M725.4 407.3h0M725.2 416.4h0M726.2 407h0M726.5 414.8h0M727 407.5h0M726.6 407.9h0M726.1 410.7h0M726.4 416.5h0M727.8 411.3h0M726.7 407.7h0M727.9 413.2h0M727.6 411.5h0M728.7 407.9h0M728.3 407.3h0M728.4 416.5h0M729.5 411.3h0M727.6 411.6h0M729.9 413.5h0M730.1 409.6h0M729.9 418h0M730.7 416.1h0M730.3 411.7h0M731.1 417h0M731.4 415.1h0M732 414.7h0M731.3 416.4h0M731.6 420.7h0M733.1 409h0M732.9 409.1h0M732.9 413.1h0M732.7 413h0M733.1 415.7h0M733.7 419.4h0M733.5 416.2h0M734.3 414.6h0M734.4 417.8h0M733.8 419.5h0M735 423.1h0M736.2 418.6h0M735.5 422.7h0M735.8 409.8h0M736.3 419.7h0M736 410.9h0M736.1 412.4h0M737.1 423.1h0M737.1 422.4h0M737.2 413.6h0M738.4 420.1h0M738.4 414.9h0M738.1 410.9h0M738.4 409.6h0M739.7 413.1h0M739.5 411.7h0M738.8 414.6h0M740.2 414.8h0M739.9 418.4h0M740 412.5h0M741.1 415.3h0M741.5 414.2h0M740.9 409.3h0M741.5 405.2h0M742 410.9h0M741.8 412.5h0M742.7 403.5h0M742.3 398.6h0M743.5 396.1h0M743.8 396.7h0M742.9 404.8h0M743.2 402.4h0M743.8 402.1h0M744.7 391.1h0M744.6 392.1h0M744.6 394.8h0M745.4 385.5h0M744.7 383.8h0M745.6 384.6h0M745.8 391.3h0M745.7 392.9h0M747.1 386.3h0M746.5 395.6h0M746.7 391.1h0M747.6 387.3h0M747.8 386.2h0M748.1 396.5h0M748.4 388h0M748.6 398.3h0M748.8 401.5h0M748.3 395h0M749.9 396.6h0M750.6 388.6h0M750 396.2h0M749.9 384.4h0M750.8 380.8h0M751.1 393h0M750.6 392.7h0M751.2 386.5h0M751.1 394.6h0M752.1 399.3h0M751.6 385.5h0M753 396h0M752.3 388.8h0M753 386.1h0M752.8 401.8h0M753.8 395h0M754.4 380.1h0M754.3 395.3h0M753.6 396.7h0M754.3 391.2h0M755.1 380.9h0M756.1 395.4h0M755.1 387h0M755.4 394.5h0M755.4 383.1h0M756.4 383.9h0M756.9 390.8h0M756.3 380.9h0M757.7 394.2h0M757.8 382h0M758.2 394.2h0M758.3 391h0M759.4 382.7h0M757.8 391.3h0M758.3 389h0M760.2 384.1h0M758.7 387h0M759.7 379.8h0M759.7 377.4h0M759.5 393.7h0M760.1 386.5h0M760.6 387h0M761.1 379.9h0M761.4 375h0M761.6 374.6h0M762 376.6h0M762.1 375.1h0M762.6 375.7h0M762.2 370.9h0M762.1 375.6h0M763.7 365.6h0M762.5 363.8h0M764 363.4h0M764.6 361.1h0M763.5 359.1h0M763.6 361.5h0M764.5 356.6h0M765.3 356.5h0M764.8 361.9h0M766 359.7h0M766.4 360.8h0M765.8 356.9h0M766.9 357.9h0M766 357.5h0M766.7 353.9h0M767.6 356.9h0M768.4 352h0M768.3 351.5h0M768.8 353.6h0M767.5 354.4h0M770.5 354.7h0M768.6 354.2h0M769.4 349.9h0M770.3 356.4h0M769.9 356.2h0M770.9 358h0M769.8 353.1h0M770.1 352.8h0M770.6 357.1h0M770.8 351.7h0M771.7 354.4h0M771.7 360.1h0M771.5 355.5h0M772.4 356.3h0M771.7 356.4h0M772.7 359.8h0M773.4 361.3h0M773 360.9h0M773.6 366.4h0M774.2 367h0M775.2 368.7h0M775.2 369.4h0M775.3 370.6h0M775.3 371.5h0M774.6 365.5h0M775.4 365.8h0M775.6 369.5h0M775.9 378.5h0M776.3 384h0M776.1 367.6h0M777 369h0M778 379.2h0M777.4 386h0M776.8 386.9h0M777.9 373.6h0M778.5 377h0M778.6 385.3h0M780.1 390.2h0M779.7 390.1h0M780.2 378.9h0M779.7 384.3h0M780.6 382.6h0M780.5 374.4h0M780.5 385h0M780.4 370h0M781.5 382h0M780.6 375.2h0M782.2 383.7h0M783.4 384.3h0M782.9 370.7h0M781.7 380.2h0M783.1 387.7h0M782.8 380.8h0M783 376.4h0M783.4 371h0M784.7 370.1h0M784.7 379.3h0M784.1 384.4h0M785 384.2h0M785 384.4h0M786.6 378.3h0M785 386.3h0M785.9 377.1h0M785.6 377.8h0M786.3 386.9h0M785.9 383.2h0M786.6 383.2h0M787.3 372.2h0M787.2 375.9h0M787.3 366h0M788.2 380.8h0M788.2 369.2h0M788.2 376.1h0M788.8 364.3h0M789.1 368.9h0M789.9 364.2h0M789 367.1h0M789.9 368.5h0M790.9 364.5h0M789.8 357.8h0M791.1 358h0M791 353.3h0M792 355.8h0M792.3 358.7h0M792 356.3h0M792.2 351.5h0M791.9 353.6h0M792.6 352.6h0M792.6 349.7h0M793.3 349.4h0M794.6 350.5h0M795 349.2h0M794.4 349.1h0M794.5 341.5h0M794.6 351.5h0M795.4 348.8h0M795.3 338.2h0M796.5 346.1h0M795.5 340.2h0M796.1 343.7h0M796.3 339.1h0M797.3 339.6h0M797.9 336.5h0M797.6 328.5h0M797.5 320.1h0M798.1 299.6h0M798.5 287.6h0M798.2 277.6h0M799.5 263h0M799.7 275.8h0M799.9 265h0M800 255.7h0M799.6 276h0M800.9 273.2h0M799.5 263.7h0M800.5 273.3h0M802.1 282.1h0M801 254.5h0M801 274.1h0M800.8 281.5h0M802.7 254.6h0M803 257.2h0M802.7 261h0M802 280.4h0M803 247.6h0M803.2 267.3h0M804.2 257.7h0M804.7 255.7h0M804.4 251.1h0M804.6 262.2h0M805.8 260.2h0M806 263.5h0M804.8 280.5h0M805.8 269.1h0M805.2 267.5h0M806 272.5h0M807.2 270.6h0M806.2 276.9h0M806.9 274h0M807.8 268.3h0M808 289.2h0M807.2 286.8h0M808.1 276.5h0M808.3 281.6h0M808.1 259.8h0M810.2 286.7h0M809.4 283.7h0M809.6 270.5h0M810.3 259.2h0M810 269.5h0M809.9 276.5h0M810.8 266.3h0M811.2 271h0M811.2 265.7h0M811.9 274.7h0M812.4 279.7h0M812.4 281h0M812.3 258.9h0M812.6 281.6h0M813.7 272.6h0M812.5 261.8h0M814.1 277.7h0M814 256.1h0M813.6 253.1h0M814.1 273.7h0M815 280.8h0M814.2 260.6h0M815.2 268.2h0M815.6 262.5h0M815.1 269.1h0M816.2 275.3h0M817 273.4h0M816.6 266.9h0M816.3 266.7h0M816.1 257.2h0M816.6 251.7h0M818.2 247.3h0M817.8 256.6h0M818.1 264.7h0M818.2 277.7h0M818.5 290.9h0M820 280.3h0M819.6 286.3h0M820.2 298.1h0M819.1 303h0M820.6 301.9h0M820.8 297.6h0M820.1 285.3h0M820.5 295.6h0M820.7 310.6h0M822.2 288.1h0M822 291.7h0M821.7 306.2h0M822.6 308.3h0M822.2 309.2h0M823.1 297.1h0M823.2 285.7h0M823.1 310.4h0M824.1 315.5h0M823.9 306.5h0M823.3 300.6h0M824.6 292.9h0M825.6 297.5h0M824 304.5h0M825.7 312.9h0M826 293.1h0M825.4 303.9h0M826.2 289.8h0M825.9 308h0M825.9 306.9h0M827.4 304.4h0M827.6 297.2h0M826.8 293.1h0M827.6 318.5h0M828 320.2h0M827.9 309.5h0M829.4 320.6h0M828.7 303h0M829.4 301.2h0M829.7 302.7h0M829.6 295h0M830.4 301.6h0M830.5 304.9h0M830.8 313.3h0M830.6 298.8h0M831.9 300.7h0M832 312h0M832.6 305.2h0M832.5 308.2h0M831.5 303.3h0M832.5 297.8h0M833.2 303.8h0M833.7 307.6h0M833 316.3h0M833.6 306.6h0M834.3 305.3h0M834.3 306.6h0M835.1 324h0M834.3 321.2h0M835.2 328.7h0M835.2 336.6h0M836 333.2h0M835.5 327.4h0M836 334.3h0M836.8 326.8h0M836.5 339.8h0M837.2 350.6h0M837.7 337h0M837.5 340.9h0M837.6 334.5h0M838.4 352h0M838.1 354.2h0M839.1 344.8h0M839.3 339.7h0M840 331.6h0M839.9 346.6h0M840.5 331.8h0M839.9 335.2h0M840.6 338.8h0M840.1 335.1h0M841.2 350.1h0M841.2 347.4h0M842 354.9h0M840.7 351.4h0M841.8 353h0M842.4 335h0M843 345.7h0M842.6 354.6h0M842.9 344.7h0M843.9 332.7h0M843.6 346.5h0M843.9 334.4h0M844.9 343.2h0M843.5 349.5h0M844.9 340.7h0M845.5 337.3h0M845.6 337.7h0M844.8 344.4h0M845.2 355.2h0M845.7 341.4h0M846.3 347.1h0M847.2 349.6h0M846.9 351.2h0M848 328.8h0M847.5 342.3h0M848.4 328h0M847.9 325.8h0M848.2 328.5h0M848.9 356.3h0M849.3 344h0M849.1 350.1h0M850.3 344.5h0M849.7 345.2h0M850.8 334.6h0M849.7 345.5h0M850.7 334.2h0M851.4 342.7h0M851.2 341.5h0M851.2 341.8h0M852 330.6h0M852.7 341.9h0M852.2 336.4h0M853 330.8h0M852.6 349.1h0M852.6 337.9h0M854.3 359.2h0M853.6 349.6h0M853.8 348.5h0M854.6 342.2h0M853.9 342.8h0M854.6 359.8h0M855.1 361.4h0M855.5 355.5h0M856.1 367.4h0M855.7 355.8h0M856.1 364.5h0M856 355.9h0M856.6 361.5h0M856.8 372.3h0M857.7 363.1h0M857 360.2h0M857.1 366.9h0M857.3 378.4h0M858.3 370.6h0M858.8 363.5h0M860 380.1h0M858.6 357.4h0M859.7 374.4h0M859.5 367.1h0M860.8 370.8h0M860.7 369h0M861.5 372h0M861 372.6h0M861.7 378.9h0M861.5 381.3h0M861.6 369.6h0M862.6 372h0M862.2 374.4h0M861.5 382.2h0M862.7 371.4h0M862.7 371h0M863.8 372.1h0M864.5 360.9h0M864.1 369.7h0M864.4 358.8h0M864.1 375.4h0M864.5 375.9h0M864.8 374.7h0M866.3 360.8h0M865.3 366.6h0M866.3 355.4h0M865.4 368.8h0M866.3 356.7h0M866.8 373.3h0M866.8 367h0M867.4 358.6h0M867.9 367.7h0M868.1 362.5h0M867.5 371.7h0M867.6 377.1h0M869.2 352.3h0M869.5 359.6h0M868.6 376.1h0M869.8 354.7h0M869 366.5h0M870.2 376.3h0M871.1 354.8h0M869.9 373h0M870.9 356.5h0M871 363.2h0M871.1 365.6h0M872.2 350h0M871.6 367.4h0M871.9 366.3h0M871.9 346.6h0M873.3 357.3h0M873.5 366.9h0M874.1 353h0M873.5 355.1h0M873.4 353.3h0M875.2 347.5h0M874.3 347h0M875.2 358.5h0M875.8 350.5h0M875.6 362.6h0M874.9 359h0M875.5 355.6h0M875.8 350.9h0M876.8 353.9h0M876.2 341.1h0M877.6 353.7h0M877.5 354.4h0M877.7 346.1h0M877.8 344.7h0M877.6 346.8h0M879.3 327.8h0M878.9 342.5h0M879.7 331.8h0M878.7 323.1h0M878.6 333.2h0M880.7 344h0M879.6 334.5h0M880.4 325.5h0M880.4 331.4h0M880.7 339.7h0M881.2 320.4h0M881 343.1h0M881.2 321h0M882.1 319.3h0M881.8 316.9h0M883.6 339.8h0M883 332.5h0M883.8 333.5h0M883.1 325.9h0M883.9 318.8h0M883.9 325h0M883.9 318.7h0M884.4 330h0M884.6 332.7h0M886.2 327.1h0M884.9 319.3h0M885.4 315.7h0M886.3 325h0M886 314.3h0M886.4 329.9h0M887.3 318.6h0M887 319h0M887 324h0M886.8 310.2h0M887.7 322.1h0M888.6 318.6h0M888.6 310.8h0M889.3 307.5h0M888.7 313h0M889.2 304h0M889.3 312.1h0M888.9 311.6h0M890.4 302.9h0M890.1 300.5h0M890.8 302h0M890.8 307.9h0M890.5 303.8h0M891 309.8h0M891.5 297.6h0M891.5 307.9h0M892.3 305.5h0M892.9 296.5h0M892.9 291.8h0M893.3 301.8h0M893.2 298.1h0M893.5 296.6h0M893.6 287.8h0M893.2 286h0M894.7 289.1h0M895.2 295.8h0M894.8 282.6h0M895 292.6h0M895.2 283.2h0M896 284.5h0M896.1 287.8h0M896.5 290.4h0M896.8 285.1h0M896.2 284.9h0M897.2 287.3h0M897.3 285.2h0M898.3 285.2h0M897.9 277.8h0M898.2 284.4h0M898.7 284.4h0M900.1 281.4h0M899.1 269.2h0M900.6 273.4h0M899.3 277.7h0M900 269.1h0M899.7 271.8h0M901.5 265.9h0M901.1 261.8h0M901.3 267.8h0M901.9 262.8h0M902.2 268h0M901.9 254.6h0M902.5 264.9h0M902.3 256.2h0M903.4 258.9h0M901.9 250.1h0M904.7 243.8h0M903.7 241.6h0M903 243.8h0M904.3 242.5h0M904 246.9h0M905 242.7h0M905.2 245.9h0M905.9 241.2h0M904.7 238.8h0M906 234.3h0M906.9 228.5h0M905.9 234.4h0M907.1 227.3h0M907.4 236h0M906.9 231.4h0M906.8 221.5h0M908 224.1h0M907.9 220h0M909.1 217.7h0M908.4 220.4h0M909.5 221.7h0M909.5 214h0M909.6 221.7h0M909.1 215.7h0M909.6 213.9h0M910.6 218.5h0M910.7 211.1h0M910.9 208.3h0M911.5 216.6h0M911.3 215.6h0M912.3 213.3h0M912.2 213.4h0M912.5 210.5h0M912.3 213.3h0M912 208.8h0M913.7 209h0M913.9 206.9h0M914 209.8h0M913.5 211.3h0M914.6 207.3h0M914.7 206h0M915 205.1h0M914.8 208.4h0M915 205.4h0M915.2 207.8h0M916.3 207.7h0M915.9 204.6h0M916.5 208.3h0M916.4 204.7h0M916.2 204.7h0M917.5 207.2h0M917.7 210.7h0M917.9 209.3h0M916.6 217.5h0M918.8 226.8h0M918.9 237.7h0M918.6 241h0M920.2 240.5h0M919.5 240.4h0M920 245.4h0M920.3 245.1h0M919.3 247.7h0M921.2 241.6h0M920.3 251.6h0M921.6 244.9h0M921.6 244.3h0M921.4 238.8h0M920.8 238.9h0M922 243.4h0M921.9 248.9h0M923 255h0M922.7 251.6h0M923.8 249.5h0M923.4 254.8h0M923.6 253.7h0M925.4 254.8h0M925 261.6h0M924.5 263.7h0M925.2 259h0M924.4 259.4h0M925.4 271.8h0M925.9 274.8h0M925.8 266.4h0M925.9 271.3h0M926.9 275.4h0M926.9 273h0M927 277.3h0M927.3 268.6h0M927.5 273.9h0M928.4 269.8h0M928.7 274.7h0M928 265.9h0M929.6 274.1h0M929.7 270.8h0M929.2 274.3h0M929.5 266.1h0M930.2 275.2h0M930.1 271.5h0M930.8 263h0M930.7 274.4h0M932 265h0M930.8 267h0M931.4 267.1h0M932.1 270.1h0M931.9 269.9h0M297.3 196.2h0M297.3 224.5h0M383.2 94.5h0M465.6 277h0M870 341.4h0M883 369h0M834.3 367h0M427.7 351h0M427.7 361.5h0M454.8 354h0M454.8 358h0M398.4 214h0M418.6 218.5h0M419.4 224.8h0M419.4 235.6h0M423.3 244.3h0M490.5 325.8h0M527.3 332.3h0M339.8 39.4h0M543.6 253.6h0M176.3 297.3h0M178.4 306.4h0M179.5 315.1h0M176.3 321.2h0M179.5 328.8h0M177.4 332.4h0M179.5 345h0M179.5 350.4h0M176.3 354.8h0M180.2 354.8h0M175.2 361.3h0M182.3 362.3h0M183.4 368.8h0M175.2 372.5h0M182.3 373.2h0M183.4 381.8h0M184.5 386.2h0M185.6 392h0M175 404h0M181 358h0M181.5 366h0M184 376h0M185 398h0M185.8 404h0M340 39.5h0M340.3 52.2h0M343.3 54.7h0M340.3 57.2h0M343.3 60.8h0M341.3 63.8h0M346.3 65.3h0M344.2 69.2h0M350 72.5h0M345 73.7h0M339.7 76.2h0M348.3 75.8h0M341.7 79.2h0M345.8 80h0M350 81.7h0M345.8 84.7h0M350 85h0M348.3 90h0M348.3 95.8h0M351.7 96.7h0M347.5 101.7h0M351.7 101.7h0M347.5 106.7h0M353.3 106.7h0M347.5 111.7h0M353.3 111.7h0M339.2 112h0M338.3 121.7h0M355.8 125.8h0M346.3 132h0M349.5 104h0M350.5 109h0M352.5 114h0M349 113h0" fill="none" stroke="#000" stroke-width="5.8" stroke-linecap="round"/>
<path d="M119.9 477.6 120.4 478.1 120.9 478.5 121.4 478.9 121.9 479.1 122.4 479.3 122.9 479.4 123.4 479.4 123.9 479.4 124.4 479.3 124.9 479.1 125.4 478.8 125.9 478.3 126.4 477.7 126.9 477 127.4 476.1 127.9 475.2 128.4 474.3 128.9 473.5 129.4 472.6 129.9 471.9 130.4 471.2 130.9 470.7 131.4 470.4 131.9 470.4 132.4 470.9 132.9 471.7 133.4 472.7 133.9 473.6 134.4 474.4 134.9 475 135.4 475.1 135.9 474.7 136.4 474 136.9 473.4 137.4 472.7 137.9 471.9 138.4 471.2 138.9 470.4 139.4 469.6 139.9 468.8 140.4 467.9 140.9 467.1 141.4 466.2 141.9 465.3 142.4 464.4 142.9 463.5 143.4 462.6 143.9 461.7 144.4 460.7 144.9 459.8 145.4 458.8 145.9 457.7 146.4 456.7 146.9 455.7 147.4 454.7 147.9 453.6 148.4 452.6 148.9 451.6 149.4 450.5 149.9 449.5 150.4 448.5 150.9 447.6 151.4 446.6 151.9 445.7 152.4 444.9 152.9 444.5 153.4 444.5 153.9 444.7 154.4 445 154.9 445.4 155.4 445.8 155.9 446.1 156.4 446.2 156.9 446 157.4 445.5 157.9 444.6 158.4 443.2 158.9 441.4 159.4 439.4 159.9 437.1 160.4 434.6 160.9 432 161.4 429.4 161.9 426.8 162.4 424.3 162.9 421.9 163.4 419.8 163.9 417.9 164.4 416.4 164.9 415.4 165.4 414.7 165.9 414.3 166.4 414.1 166.9 414.1 167.4 414.2 167.9 414.3 168.4 414.5 168.9 414.7 169.4 414.7 169.9 414.7 170.4 414.4 170.9 413.9 171.4 413.2 171.9 412.2 172.4 411.1 172.9 410 173.4 408.8 173.9 407.7 174.4 406.5 174.9 405.4 175.4 404.3 175.9 403.2 176.4 402.2 176.9 401.2 177.4 400.2 177.9 399.4 178.4 398.7 178.9 398.1 179.4 398 179.9 398.6 180.4 399.6 180.9 401 181.4 402.2 181.9 403.7 182.4 405.3 182.9 407.2 183.4 409.2 183.9 411.2 184.4 413.2 184.9 415 185.4 416.8 185.9 418.3 186.4 419.5 186.9 420.3 187.4 420.4 187.9 420 188.4 419.1 188.9 417.9 189.4 416.3 189.9 414.6 190.4 412.8 190.9 411 191.4 409.4 191.9 408 192.4 407 192.9 406.4 193.4 406.3 193.9 406.6 194.4 406.8 194.9 407.1 195.4 407.5 195.9 407.8 196.4 408.2 196.9 408.7 197.4 409.1 197.9 409.6 198.4 410.2 198.9 410.8 199.4 411.4 199.9 412.1 200.4 412.8 200.9 413.6 201.4 414.5 201.9 415.4 202.4 416.4 202.9 417.5 203.4 418.6 203.9 419.8 204.4 421.1 204.9 422.3 205.4 423.6 205.9 424.9 206.4 426.2 206.9 427.5 207.4 428.7 207.9 429.9 208.4 431 208.9 432.1 209.4 433 209.9 433.8 210.4 434.6 210.9 435.2 211.4 435.8 211.9 436.3 212.4 436.7 212.9 437.2 213.4 437.6 213.9 437.9 214.4 438.2 214.9 438.5 215.4 438.8 215.9 439 216.4 439.3 216.9 439.5 217.4 439.7 217.9 439.9 218.4 440.1 218.9 440.2 219.4 440.2 219.9 440.2 220.4 440.1 220.9 440 221.4 439.9 221.9 439.9 222.4 439.8 222.9 439.9 223.4 440 223.9 440.2 224.4 440.8 224.9 441.6 225.4 442.6 225.9 443.8 226.4 445.2 226.9 446.6 227.4 448.1 227.9 449.5 228.4 451 228.9 452.3 229.4 453.6 229.9 454.6 230.4 455.5 230.9 456.1 231.4 456.5 231.9 456.5 232.4 456.1 232.9 455.6 233.4 454.8 233.9 453.8 234.4 452.7 234.9 451.4 235.4 450.1 235.9 448.8 236.4 447.5 236.9 446.3 237.4 445.1 237.9 444.1 238.4 443.3 238.9 442.6 239.4 442.3 239.9 442.2 240.4 442.5 240.9 443.3 241.4 444.3 241.9 445.5 242.4 446.9 242.9 448.4 243.4 449.9 243.9 451.4 244.4 452.7 244.9 453.8 245.4 454.6 245.9 455.1 246.4 455.2 246.9 454.8 247.4 454 247.9 453 248.4 451.6 248.9 450.1 249.4 448.5 249.9 446.9 250.4 445.3 250.9 443.7 251.4 442.4 251.9 441.2 252.4 440.4 252.9 439.9 253.4 440.1 253.9 440.7 254.4 441.8 254.9 443 255.4 444.3 255.9 445.6 256.4 446.5 256.9 447 257.4 447 257.9 446.2 258.4 445 258.9 443.4 259.4 441.5 259.9 439.4 260.4 437.1 260.9 434.7 261.4 432.2 261.9 429.6 262.4 427.1 262.9 424.6 263.4 422.2 263.9 420 264.4 418 264.9 416.3 265.4 414.9 265.9 413.8 266.4 413 266.9 412.4 267.4 411.9 267.9 411.4 268.4 411 268.9 410.5 269.4 409.9 269.9 409.2 270.4 408.4 270.9 407.3 271.4 406 271.9 404.7 272.4 403.3 272.9 402 273.4 400.7 273.9 399.4 274.4 398.1 274.9 396.9 275.4 395.6 275.9 394.3 276.4 393 276.9 391.7 277.4 390.4 277.9 389.1 278.4 387.8 278.9 386.4 279.4 385.1 279.9 383.7 280.4 382 280.9 380 281.4 377.7 281.9 375.2 282.4 372.6 282.9 370 283.4 367.4 283.9 365 284.4 362.7 284.9 360.4 285.4 358.1 285.9 355.9 286.4 353.6 286.9 351.3 287.4 349.1 287.9 346.8 288.4 344.6 288.9 342.3 289.4 340 289.9 337.7 290.4 335.4 290.9 333 291.4 330.4 291.9 327.5 292.4 324.4 292.9 321.2 293.4 317.9 293.9 314.6 294.4 311.5 294.9 308.6 295.4 305.8 295.9 303.2 296.4 300.7 296.9 298.2 297.4 295.8 297.9 293.5 298.4 291.3 298.9 289.7 299.4 288.3 299.9 287.1 300.4 285.9 300.9 284.5 301.4 282.8 301.9 280.5 302.4 277.6 302.9 274.1 303.4 270.2 303.9 266.1 304.4 262.2 304.9 258.7 305.4 255.4 305.9 252.1 306.4 248.8 306.9 245.7 307.4 242.8 307.9 240.3 308.4 238.3 308.9 236.8 309.4 235.3 309.9 233.8 310.4 232.4 310.9 231 311.4 229.6 311.9 228.3 312.4 226.9 312.9 225.6 313.4 224.3 313.9 223.1 314.4 221.7 314.9 220.3 315.4 218.7 315.9 216.7 316.4 214.4 316.9 211.9 317.4 209.2 317.9 206.4 318.4 203.6 318.9 200.7 319.4 197.8 319.9 194.7 320.4 191.7 320.9 188.6 321.4 185.6 321.9 182.6 322.4 179.7 322.9 177 323.4 174.4 323.9 172 324.4 169.7 324.9 167.6 325.4 165.7 325.9 164.2 326.4 164.1 326.9 165.1 327.4 166.7 327.9 168.7 328.4 170.6 328.9 172 329.4 172.5 329.9 171.8 330.4 170.3 330.9 168.5 331.4 166.5 331.9 164.3 332.4 161.9 332.9 159.6 333.4 157.2 333.9 155 334.4 152.9 334.9 151.1 335.4 149.6 335.9 148.5 336.4 147.6 336.9 146.7 337.4 145.9 337.9 145.1 338.4 144.4 338.9 143.7 339.4 143.2 339.9 142.7 340.4 142.3 340.9 141.9 341.4 141.5 341.9 141.1 342.4 140.7 342.9 140.4 343.4 140 343.9 139.5 344.4 139.1 344.9 138.5 345.4 137.6 345.9 136.4 346.4 135 346.9 133.5 347.4 132 347.9 130.6 348.4 129.3 348.9 128.3 349.4 127.6 349.9 127.3 350.4 127.5 350.9 128.2 351.4 129.4 351.9 130.9 352.4 132.5 352.9 133.9 353.4 135.2 353.9 136.3 354.4 137.5 354.9 138.6 355.4 139.8 355.9 141 356.4 142.1 356.9 143.2 357.4 144.4 357.9 145.5 358.4 146.6 358.9 147.7 359.4 148.8 359.9 149.9 360.4 150.9 360.9 151.8 361.4 152.7 361.9 153.4 362.4 154.1 362.9 154.7 363.4 155.4 363.9 156 364.4 156.6 364.9 157.2 365.4 157.9 365.9 158.7 366.4 159.5 366.9 160.5 367.4 161.6 367.9 162.9 368.4 164.5 368.9 166.2 369.4 168 369.9 169.9 370.4 171.9 370.9 173.9 371.4 175.9 371.9 177.8 372.4 179.7 372.9 181.5 373.4 183.2 373.9 184.7 374.4 186 374.9 187.2 375.4 188.2 375.9 189.1 376.4 189.9 376.9 190.5 377.4 191.1 377.9 191.6 378.4 192 378.9 191.7 379.4 190.8 379.9 189.5 380.4 188 380.9 186.5 381.4 185.4 381.9 184.9 382.4 185.2 382.9 186.4 383.4 188 383.9 189.8 384.4 191.9 384.9 194 385.4 196.1 385.9 197.9 386.4 199.5 386.9 200.8 387.4 202.1 387.9 203.3 388.4 204.5 388.9 205.6 389.4 206.7 389.9 207.8 390.4 208.8 390.9 209.8 391.4 210.4 391.9 210.6 392.4 210.4 392.9 210.1 393.4 209.6 393.9 209.3 394.4 209.1 394.9 209.1 395.4 209.6 395.9 210.6 396.4 212.2 396.9 214.6 397.4 217.8 397.9 221.3 398.4 225 398.9 228.6 399.4 231.7 399.9 234.5 400.4 237.2 400.9 239.9 401.4 242.5 401.9 245.1 402.4 247.4 402.9 249.6 403.4 251.6 403.9 253.3 404.4 254.6 404.9 255.3 405.4 255.7 405.9 255.8 406.4 255.6 406.9 255.4 407.4 255.1 407.9 255 408.4 255 408.9 255.3 409.4 255.9 409.9 257.1 410.4 258.6 410.9 260.3 411.4 262.1 411.9 264.1 412.4 266 412.9 268 413.4 269.8 413.9 271.4 414.4 272.8 414.9 273.9 415.4 274.7 415.9 275.4 416.4 276.2 416.9 277.2 417.4 278.4 417.9 279.5 418.4 280.7 418.9 282 419.4 283.2 419.9 284.6 420.4 285.9 420.9 287.3 421.4 288.6 421.9 290.1 422.4 291.5 422.9 293.1 423.4 295 423.9 297.1 424.4 299.3 424.9 301.6 425.4 303.8 425.9 305.9 426.4 307.9 426.9 309.7 427.4 311.1 427.9 312.2 428.4 313.2 428.9 314 429.4 314.8 429.9 315.4 430.4 316 430.9 316.5 431.4 316.9 431.9 317.3 432.4 317.7 432.9 317.9 433.4 318.2 433.9 318.4 434.4 318.6 434.9 318.8 435.4 319 435.9 319.2 436.4 319.3 436.9 319.5 437.4 319.5 437.9 319.5 438.4 319.4 438.9 319.3 439.4 319.2 439.9 319.2 440.4 319.1 440.9 319.1 441.4 319.2 441.9 319.3 442.4 319.8 442.9 320.5 443.4 321.5 443.9 322.6 444.4 324 444.9 325.4 445.4 326.9 445.9 328.4 446.4 329.9 446.9 331.3 447.4 332.6 447.9 333.7 448.4 334.7 448.9 335.3 449.4 335.6 449.9 335.5 450.4 335 450.9 334.1 451.4 332.9 451.9 331.5 452.4 330 452.9 328.5 453.4 327 453.9 325.6 454.4 324.4 454.9 323.4 455.4 322.8 455.9 322.6 456.4 322.7 456.9 323.1 457.4 323.6 457.9 324.3 458.4 325.1 458.9 326 459.4 326.8 459.9 327.7 460.4 328.5 460.9 329.2 461.4 329.7 461.9 330.1 462.4 330.2 462.9 330 463.4 329.4 463.9 328.6 464.4 327.5 464.9 326.3 465.4 325.1 465.9 323.8 466.4 322.6 466.9 321.4 467.4 320.5 467.9 319.8 468.4 319.4 468.9 319.3 469.4 319.9 469.9 321 470.4 322.5 470.9 324.5 471.4 326.7 471.9 329.2 472.4 331.8 472.9 334.4 473.4 337 473.9 339.4 474.4 341.6 474.9 343.5 475.4 345 475.9 346 476.4 346.4 476.9 346.3 477.4 345.8 477.9 345 478.4 344 478.9 342.8 479.4 341.5 479.9 340.1 480.4 338.9 480.9 337.7 481.4 336.7 481.9 336 482.4 335.6 482.9 335.6 483.4 336 483.9 336.6 484.4 337.3 484.9 338.2 485.4 339 485.9 339.8 486.4 340.5 486.9 340.9 487.4 341 487.9 340.8 488.4 340.5 488.9 339.9 489.4 339.4 489.9 338.8 490.4 338.3 490.9 337.9 491.4 337.8 491.9 337.9 492.4 338.2 492.9 338.8 493.4 339.5 493.9 340.3 494.4 341.1 494.9 342.1 495.4 343 495.9 343.9 496.4 344.7 496.9 345.4 497.4 346 497.9 346.4 498.4 346.6 498.9 346.6 499.4 346.2 499.9 345.9 500.4 345.5 500.9 345 501.4 344.6 501.9 344.2 502.4 343.8 502.9 343.3 503.4 342.9 503.9 342.5 504.4 342 504.9 341.6 505.4 341.2 505.9 340.8 506.4 340.5 506.9 340.1 507.4 339.7 507.9 339.4 508.4 339 508.9 338.6 509.4 338.3 509.9 337.9 510.4 337.5 510.9 337 511.4 336.4 511.9 335.8 512.4 335.1 512.9 334.4 513.4 333.7 513.9 333.1 514.4 332.4 514.9 331.8 515.4 331.3 515.9 331 516.4 331.2 516.9 331.7 517.4 332.5 517.9 333.4 518.4 334.3 518.9 335.2 519.4 336 519.9 336.5 520.4 336.8 520.9 336.6 521.4 336 521.9 335 522.4 333.6 522.9 331.9 523.4 330.1 523.9 328 524.4 325.9 524.9 323.7 525.4 321.5 525.9 319.5 526.4 317.6 526.9 315.9 527.4 314.5 527.9 313.4 528.4 312.8 528.9 312.5 529.4 312.5 529.9 312.7 530.4 313.1 530.9 313.5 531.4 314 531.9 314.5 532.4 314.9 532.9 315.1 533.4 315.1 533.9 314.9 534.4 314.5 534.9 313.8 535.4 312.9 535.9 311.9 536.4 310.7 536.9 309.5 537.4 308.3 537.9 307 538.4 305.8 538.9 304.6 539.4 303.5 539.9 302.6 540.4 301.8 540.9 301.2 541.4 300.9 541.9 301 542.4 301.5 542.9 302.5 543.4 303.9 543.9 305.5 544.4 307.3 544.9 309.2 545.4 311.2 545.9 313.2 546.4 315.1 546.9 316.8 547.4 318.2 547.9 319.4 548.4 320.1 548.9 320.4 549.4 320.2 549.9 319.6 550.4 318.6 550.9 317.4 551.4 316 551.9 314.5 552.4 312.9 552.9 311.4 553.4 310.1 553.9 308.9 554.4 308 554.9 307.5 555.4 307.4 555.9 307.6 556.4 308.1 556.9 308.6 557.4 309.2 557.9 309.8 558.4 310.4 558.9 310.9 559.4 311.4 559.9 311.6 560.4 311.8 560.9 311.7 561.4 311.7 561.9 311.5 562.4 311.4 562.9 311.4 563.4 311.4 563.9 311.7 564.4 312.1 564.9 312.8 565.4 313.8 565.9 314.9 566.4 316.3 566.9 317.7 567.4 319.2 567.9 320.8 568.4 322.3 568.9 323.9 569.4 325.3 569.9 326.6 570.4 327.7 570.9 328.6 571.4 329.3 571.9 329.9 572.4 330.4 572.9 331 573.4 331.5 573.9 332 574.4 332.4 574.9 332.9 575.4 333.3 575.9 333.7 576.4 334.1 576.9 334.4 577.4 334.8 577.9 335.1 578.4 335.4 578.9 335.7 579.4 335.9 579.9 336.2 580.4 336.4 580.9 336.5 581.4 336.5 581.9 336.6 582.4 336.6 582.9 336.6 583.4 336.6 583.9 336.6 584.4 336.6 584.9 336.7 585.4 336.8 585.9 337 586.4 337.3 586.9 337.8 587.4 338.6 587.9 339.5 588.4 340.6 588.9 341.9 589.4 343.2 589.9 344.6 590.4 346 590.9 347.4 591.4 348.7 591.9 350 592.4 351.2 592.9 352.3 593.4 353.1 593.9 353.8 594.4 354.3 594.9 354.4 595.4 353.9 595.9 353.1 596.4 352 596.9 350.6 597.4 349.1 597.9 347.6 598.4 346.2 598.9 344.9 599.4 343.9 599.9 343.2 600.4 343 600.9 343.2 601.4 343.6 601.9 344.2 602.4 345 602.9 345.9 603.4 346.9 603.9 348 604.4 349.1 604.9 350.3 605.4 351.3 605.9 352.3 606.4 353.2 606.9 354 607.4 354.6 607.9 355 608.4 355.1 608.9 354.8 609.4 354.2 609.9 353.4 610.4 352.5 610.9 351.6 611.4 350.7 611.9 350 612.4 349.5 612.9 349.4 613.4 349.6 613.9 350.4 614.4 351.7 614.9 353.6 615.4 355.8 615.9 358.3 616.4 361 616.9 363.8 617.4 366.7 617.9 369.6 618.4 372.3 618.9 374.8 619.4 377.1 619.9 378.9 620.4 380.3 620.9 381.2 621.4 381.5 621.9 381.3 622.4 380.7 622.9 379.9 623.4 379 623.9 378 624.4 377 624.9 376.3 625.4 375.8 625.9 375.7 626.4 376.1 626.9 376.8 627.4 377.6 627.9 378.6 628.4 379.6 628.9 380.8 629.4 381.9 629.9 383.1 630.4 384.3 630.9 385.5 631.4 386.7 631.9 387.7 632.4 388.7 632.9 389.6 633.4 390.3 633.9 390.9 634.4 391.2 634.9 391.2 635.4 391.1 635.9 390.8 636.4 390.7 636.9 390.8 637.4 391.2 637.9 392 638.4 393.1 638.9 394.3 639.4 395.7 639.9 397.2 640.4 398.7 640.9 400.3 641.4 401.8 641.9 403.3 642.4 404.6 642.9 405.8 643.4 406.7 643.9 407.4 644.4 407.9 644.9 408.4 645.4 408.9 645.9 409.4 646.4 409.8 646.9 410.2 647.4 410.6 647.9 410.9 648.4 411.3 648.9 411.6 649.4 411.9 649.9 412.1 650.4 412.4 650.9 412.6 651.4 412.8 651.9 412.9 652.4 413.1 652.9 413.3 653.4 413.4 653.9 413.6 654.4 413.7 654.9 413.9 655.4 414 655.9 414.2 656.4 414.3 656.9 414.5 657.4 414.7 657.9 415 658.4 415.3 658.9 415.7 659.4 416.3 659.9 417.1 660.4 418 660.9 418.9 661.4 420 661.9 421 662.4 422.1 662.9 423.2 663.4 424.2 663.9 425.3 664.4 426.2 664.9 427 665.4 427.8 665.9 428.4 666.4 428.8 666.9 429 667.4 428.6 667.9 427.7 668.4 426.2 668.9 424.3 669.4 422.2 669.9 419.9 670.4 417.6 670.9 415.3 671.4 413.1 671.9 411.3 672.4 409.8 672.9 408.8 673.4 408.4 673.9 408.3 674.4 408.5 674.9 409 675.4 409.5 675.9 410.2 676.4 411 676.9 411.7 677.4 412.5 677.9 413.1 678.4 413.6 678.9 414 679.4 414.1 679.9 413.9 680.4 413.4 680.9 412.6 681.4 411.5 681.9 410.3 682.4 408.9 682.9 407.5 683.4 406.1 683.9 404.7 684.4 403.5 684.9 402.4 685.4 401.6 685.9 401.1 686.4 401 686.9 401.5 687.4 402.5 687.9 403.9 688.4 405.7 688.9 407.8 689.4 410.1 689.9 412.4 690.4 414.8 690.9 417.2 691.4 419.3 691.9 421.3 692.4 422.8 692.9 424 693.4 424.7 693.9 424.8 694.4 424.3 694.9 423.5 695.4 422.4 695.9 421.1 696.4 419.5 696.9 417.9 697.4 416.3 697.9 414.8 698.4 413.4 698.9 412.2 699.4 411.3 699.9 410.8 700.4 410.7 700.9 410.9 701.4 411.3 701.9 411.8 702.4 412.3 702.9 412.9 703.4 413.5 703.9 414.1 704.4 414.5 704.9 414.8 705.4 415 705.9 415 706.4 414.7 706.9 414.3 707.4 413.8 707.9 413.3 708.4 412.7 708.9 412.3 709.4 412 709.9 411.8 710.4 411.9 710.9 412.3 711.4 413 711.9 413.8 712.4 414.7 712.9 415.8 713.4 416.8 713.9 417.7 714.4 418.5 714.9 419.2 715.4 419.6 715.9 419.7 716.4 419.4 716.9 418.8 717.4 418.3 717.9 417.7 718.4 417.1 718.9 416.5 719.4 415.9 719.9 415.3 720.4 414.7 720.9 414 721.4 413.4 721.9 412.8 722.4 412.1 722.9 411.5 723.4 410.8 723.9 410.2 724.4 409.5 724.9 408.9 725.4 408.2 725.9 407.6 726.4 406.9 726.9 406.2 727.4 405.6 727.9 404.9 728.4 404.2 728.9 403.5 729.4 402.9 729.9 402.2 730.4 401.5 730.9 400.9 731.4 400.2 731.9 399.6 732.4 399.2 732.9 399.1 733.4 399.3 733.9 399.6 734.4 400.1 734.9 400.6 735.4 401.2 735.9 401.7 736.4 402.1 736.9 402.4 737.4 402.4 737.9 402.2 738.4 401.7 738.9 400.7 739.4 399.1 739.9 397.2 740.4 394.9 740.9 392.4 741.4 389.8 741.9 387.2 742.4 384.7 742.9 382.4 743.4 380.4 743.9 378.8 744.4 377.7 744.9 377 745.4 376.5 745.9 376.2 746.4 375.9 746.9 375.8 747.4 375.8 747.9 375.8 748.4 375.8 748.9 375.9 749.4 375.9 749.9 375.9 750.4 375.8 750.9 375.7 751.4 375.4 751.9 375 752.4 374.5 752.9 373.7 753.4 372.8 753.9 371.7 754.4 370.5 754.9 369.2 755.4 367.9 755.9 366.5 756.4 365.2 756.9 363.8 757.4 362.6 757.9 361.4 758.4 360.4 758.9 359.5 759.4 358.8 759.9 358.4 760.4 358.6 760.9 359.5 761.4 360.8 761.9 362.6 762.4 364.6 762.9 366.8 763.4 369.1 763.9 371.2 764.4 373.1 764.9 374.7 765.4 375.8 765.9 376.4 766.4 376.3 766.9 375.7 767.4 374.7 767.9 373.4 768.4 371.8 768.9 370.2 769.4 368.4 769.9 366.7 770.4 365 770.9 363.5 771.4 362.2 771.9 361.3 772.4 360.7 772.9 360.6 773.4 360.7 773.9 361 774.4 361.4 774.9 361.9 775.4 362.5 775.9 363.1 776.4 363.6 776.9 364.2 777.4 364.6 777.9 364.9 778.4 365.1 778.9 365 779.4 364.8 779.9 364.3 780.4 363.7 780.9 363 781.4 362.2 781.9 361.5 782.4 361 782.9 360.6 783.4 360.4 783.9 360.5 784.4 360.9 784.9 361.6 785.4 362.4 785.9 363.3 786.4 364.2 786.9 365.1 787.4 365.9 787.9 366.6 788.4 367.1 788.9 367.4 789.4 367.3 789.9 366.9 790.4 366.3 790.9 365.8 791.4 365.2 791.9 364.6 792.4 363.9 792.9 363.3 793.4 362.6 793.9 362 794.4 361.3 794.9 360.6 795.4 360 795.9 359.3 796.4 358.6 796.9 357.9 797.4 357.2 797.9 356.5 798.4 355.8 798.9 355 799.4 354.3 799.9 353.5 800.4 352.8 800.9 352 801.4 351.2 801.9 350.5 802.4 349.7 802.9 349 803.4 348.2 803.9 347.5 804.4 347 804.9 346.8 805.4 347 805.9 347.5 806.4 348.1 806.9 348.9 807.4 349.7 807.9 350.5 808.4 351.2 808.9 351.8 809.4 352.1 809.9 352.1 810.4 351.8 810.9 351.1 811.4 349.9 811.9 348.5 812.4 346.8 812.9 344.9 813.4 342.9 813.9 340.7 814.4 338.6 814.9 336.4 815.4 334.3 815.9 332.4 816.4 330.6 816.9 329.1 817.4 327.8 817.9 326.9 818.4 326.4 818.9 325.9 819.4 325.6 819.9 325.4 820.4 325.2 820.9 325 821.4 324.8 821.9 324.7 822.4 324.4 822.9 324.1 823.4 323.6 823.9 323 824.4 322.3 824.9 321.4 825.4 320.5 825.9 319.5 826.4 318.4 826.9 317.3 827.4 316.2 827.9 315.1 828.4 314 828.9 313 829.4 312 829.9 311.1 830.4 310.3 830.9 309.6 831.4 309 831.9 308.9 832.4 309.4 832.9 310.4 833.4 311.9 833.9 313.8 834.4 315.9 834.9 318.1 835.4 320.3 835.9 322.5 836.4 324.6 836.9 326.3 837.4 327.7 837.9 328.7 838.4 329 838.9 328.8 839.4 328 839.9 326.7 840.4 325.2 840.9 323.4 841.4 321.5 841.9 319.6 842.4 317.8 842.9 316.2 843.4 315 843.9 314.1 844.4 313.7 844.9 313.7 845.4 313.9 845.9 314.1 846.4 314.5 846.9 314.9 847.4 315.3 847.9 315.7 848.4 316.1 848.9 316.4 849.4 316.5 849.9 316.6 850.4 316.5 850.9 316.2 851.4 315.7 851.9 315.2 852.4 314.6 852.9 313.9 853.4 313.3 853.9 312.8 854.4 312.4 854.9 312.1 855.4 312 855.9 312.2 856.4 312.7 856.9 313.4 857.4 314.3 857.9 315.2 858.4 316.2 858.9 317.1 859.4 318 859.9 318.7 860.4 319.3 860.9 319.5 861.4 319.4 861.9 319 862.4 318.5 862.9 317.9 863.4 317.3 863.9 316.8 864.4 316.2 864.9 315.5 865.4 314.9 865.9 314.3 866.4 313.6 866.9 312.9 867.4 312.3 867.9 311.6 868.4 310.9 868.9 310.2 869.4 309.5 869.9 308.8 870.4 308.1 870.9 307.4 871.4 306.6 871.9 305.9 872.4 305.1 872.9 304.4 873.4 303.6 873.9 302.8 874.4 302.1 874.9 301.4 875.4 300.6 875.9 299.9 876.4 299.2 876.9 298.5 877.4 298 877.9 297.9 878.4 298.1 878.9 298.6 879.4 299.2 879.9 299.9 880.4 300.7 880.9 301.5 881.4 302.2 881.9 302.7 882.4 303.1 882.9 303.2 883.4 302.9 883.9 302.2 884.4 300.9 884.9 299.2 885.4 297.2 885.9 294.9 886.4 292.4 886.9 289.8 887.4 287.3 887.9 284.8 888.4 282.5 888.9 280.4 889.4 278.7 889.9 277.4 890.4 276.6 890.9 276.2 891.4 276.1 891.9 276.3 892.4 276.6 892.9 277 893.4 277.4 893.9 277.8 894.4 278 894.9 278.1 895.4 278 895.9 277.6 896.4 276.9 896.9 276 897.4 274.8 897.9 273.5 898.4 272.1 898.9 270.6 899.4 269.1 899.9 267.6 900.4 266.1 900.9 264.7 901.4 263.4 901.9 262.3 902.4 261.4 902.9 260.7 903.4 260.4 903.9 260.5 904.4 261.1 904.9 262.2 905.4 263.6 905.9 265.4 906.4 267.3 906.9 269.3 907.4 271.4 907.9 273.5 908.4 275.3 908.9 277 909.4 278.4 909.9 279.4 910.4 280 910.9 280 911.4 279.5 911.9 278.8 912.4 277.8 912.9 276.5 913.4 275.1 913.9 273.6 914.4 272.1 914.9 270.5 915.4 269 915.9 267.6 916.4 266.3 916.9 265.2 917.4 264.4 917.9 263.9 918.4 263.7 918.9 263.8 919.4 264.2 919.9 264.6 920.4 265.2 920.9 265.8 921.4 266.4 921.9 267 922.4 267.5 922.9 267.9 923.4 268 923.9 268 924.4 267.7 924.9 267.4 925.4 266.9 925.9 266.4 926.4 265.9 926.9 265.3 927.4 264.8 927.9 264.3 928.4 264 928.9 263.8 929.4 263.7 929.9 263.8 930.4 263.9 930.9 264.2 931.4 264.6" fill="none" stroke="#0072B2" stroke-width="2.5" stroke-linejoin="round" stroke-linecap="butt"/>
<path d="M931.4 264.6 L931.8 264.6 932.2 268.3 932.7 260.9 933.2 268.8 933.6 260 934.1 268.1 934.5 259.1 935 267.4 935.4 258.2 935.9 266.7 936.3 257.3 936.8 266 937.2 256.4 937.7 265.3 938.1 255.5 938.6 264.7 939 254.7 939.5 264 939.9 253.8 940.4 263.3 940.8 252.9 941.3 262.6 941.7 252 942.2 261.9 942.6 251.1 943.1 261.2 943.5 250.2 944 260.5 944.4 249.3" fill="none" stroke="#0072B2" stroke-width="2.1" stroke-linejoin="round"/>
<g fill="#ff0000" fill-opacity="0.8" stroke="#ff0000" stroke-opacity="0.75" stroke-width="1.4"><circle cx="932.6" cy="270" r="2.2"/><circle cx="932.6" cy="264.5" r="2.2"/><circle cx="933" cy="260" r="2.2"/><circle cx="933.6" cy="256" r="2.2"/><circle cx="934.4" cy="252" r="2.2"/><circle cx="935" cy="248" r="2.2"/><circle cx="936" cy="243.3" r="2.2"/><circle cx="936.6" cy="240.6" r="2.2"/><circle cx="937" cy="238" r="2.2"/></g>
<rect x="79.5" y="15.5" width="906" height="527" fill="none" stroke="#000" stroke-width="1.1"/>
<g stroke="#000" stroke-width="1.1"><line x1="139.5" y1="542.5" x2="139.5" y2="547.4"/><line x1="284.5" y1="542.5" x2="284.5" y2="547.4"/><line x1="429.5" y1="542.5" x2="429.5" y2="547.4"/><line x1="574.5" y1="542.5" x2="574.5" y2="547.4"/><line x1="719.5" y1="542.5" x2="719.5" y2="547.4"/><line x1="864.5" y1="542.5" x2="864.5" y2="547.4"/><line x1="74.6" y1="540.5" x2="79.5" y2="540.5"/><line x1="74.6" y1="452.5" x2="79.5" y2="452.5"/><line x1="74.6" y1="363.5" x2="79.5" y2="363.5"/><line x1="74.6" y1="275.5" x2="79.5" y2="275.5"/><line x1="74.6" y1="187.5" x2="79.5" y2="187.5"/><line x1="74.6" y1="98.5" x2="79.5" y2="98.5"/></g>
<g><text x="139" y="562" text-anchor="middle">2015</text><text x="284" y="562" text-anchor="middle">2017</text><text x="429" y="562" text-anchor="middle">2019</text><text x="574" y="562" text-anchor="middle">2021</text><text x="719" y="562" text-anchor="middle">2023</text><text x="864" y="562" text-anchor="middle">2025</text><text x="69" y="545.3" text-anchor="end">400</text><text x="69" y="457.3" text-anchor="end">600</text><text x="69" y="368.3" text-anchor="end">800</text><text x="69" y="280.3" text-anchor="end">1000</text><text x="69" y="192.3" text-anchor="end">1200</text><text x="69" y="103.3" text-anchor="end">1400</text></g>
<text x="532.5" y="582" text-anchor="middle">ds</text>
<text transform="translate(24.5,278.5) rotate(-90)" text-anchor="middle">y</text>
</svg>
</body></html>
